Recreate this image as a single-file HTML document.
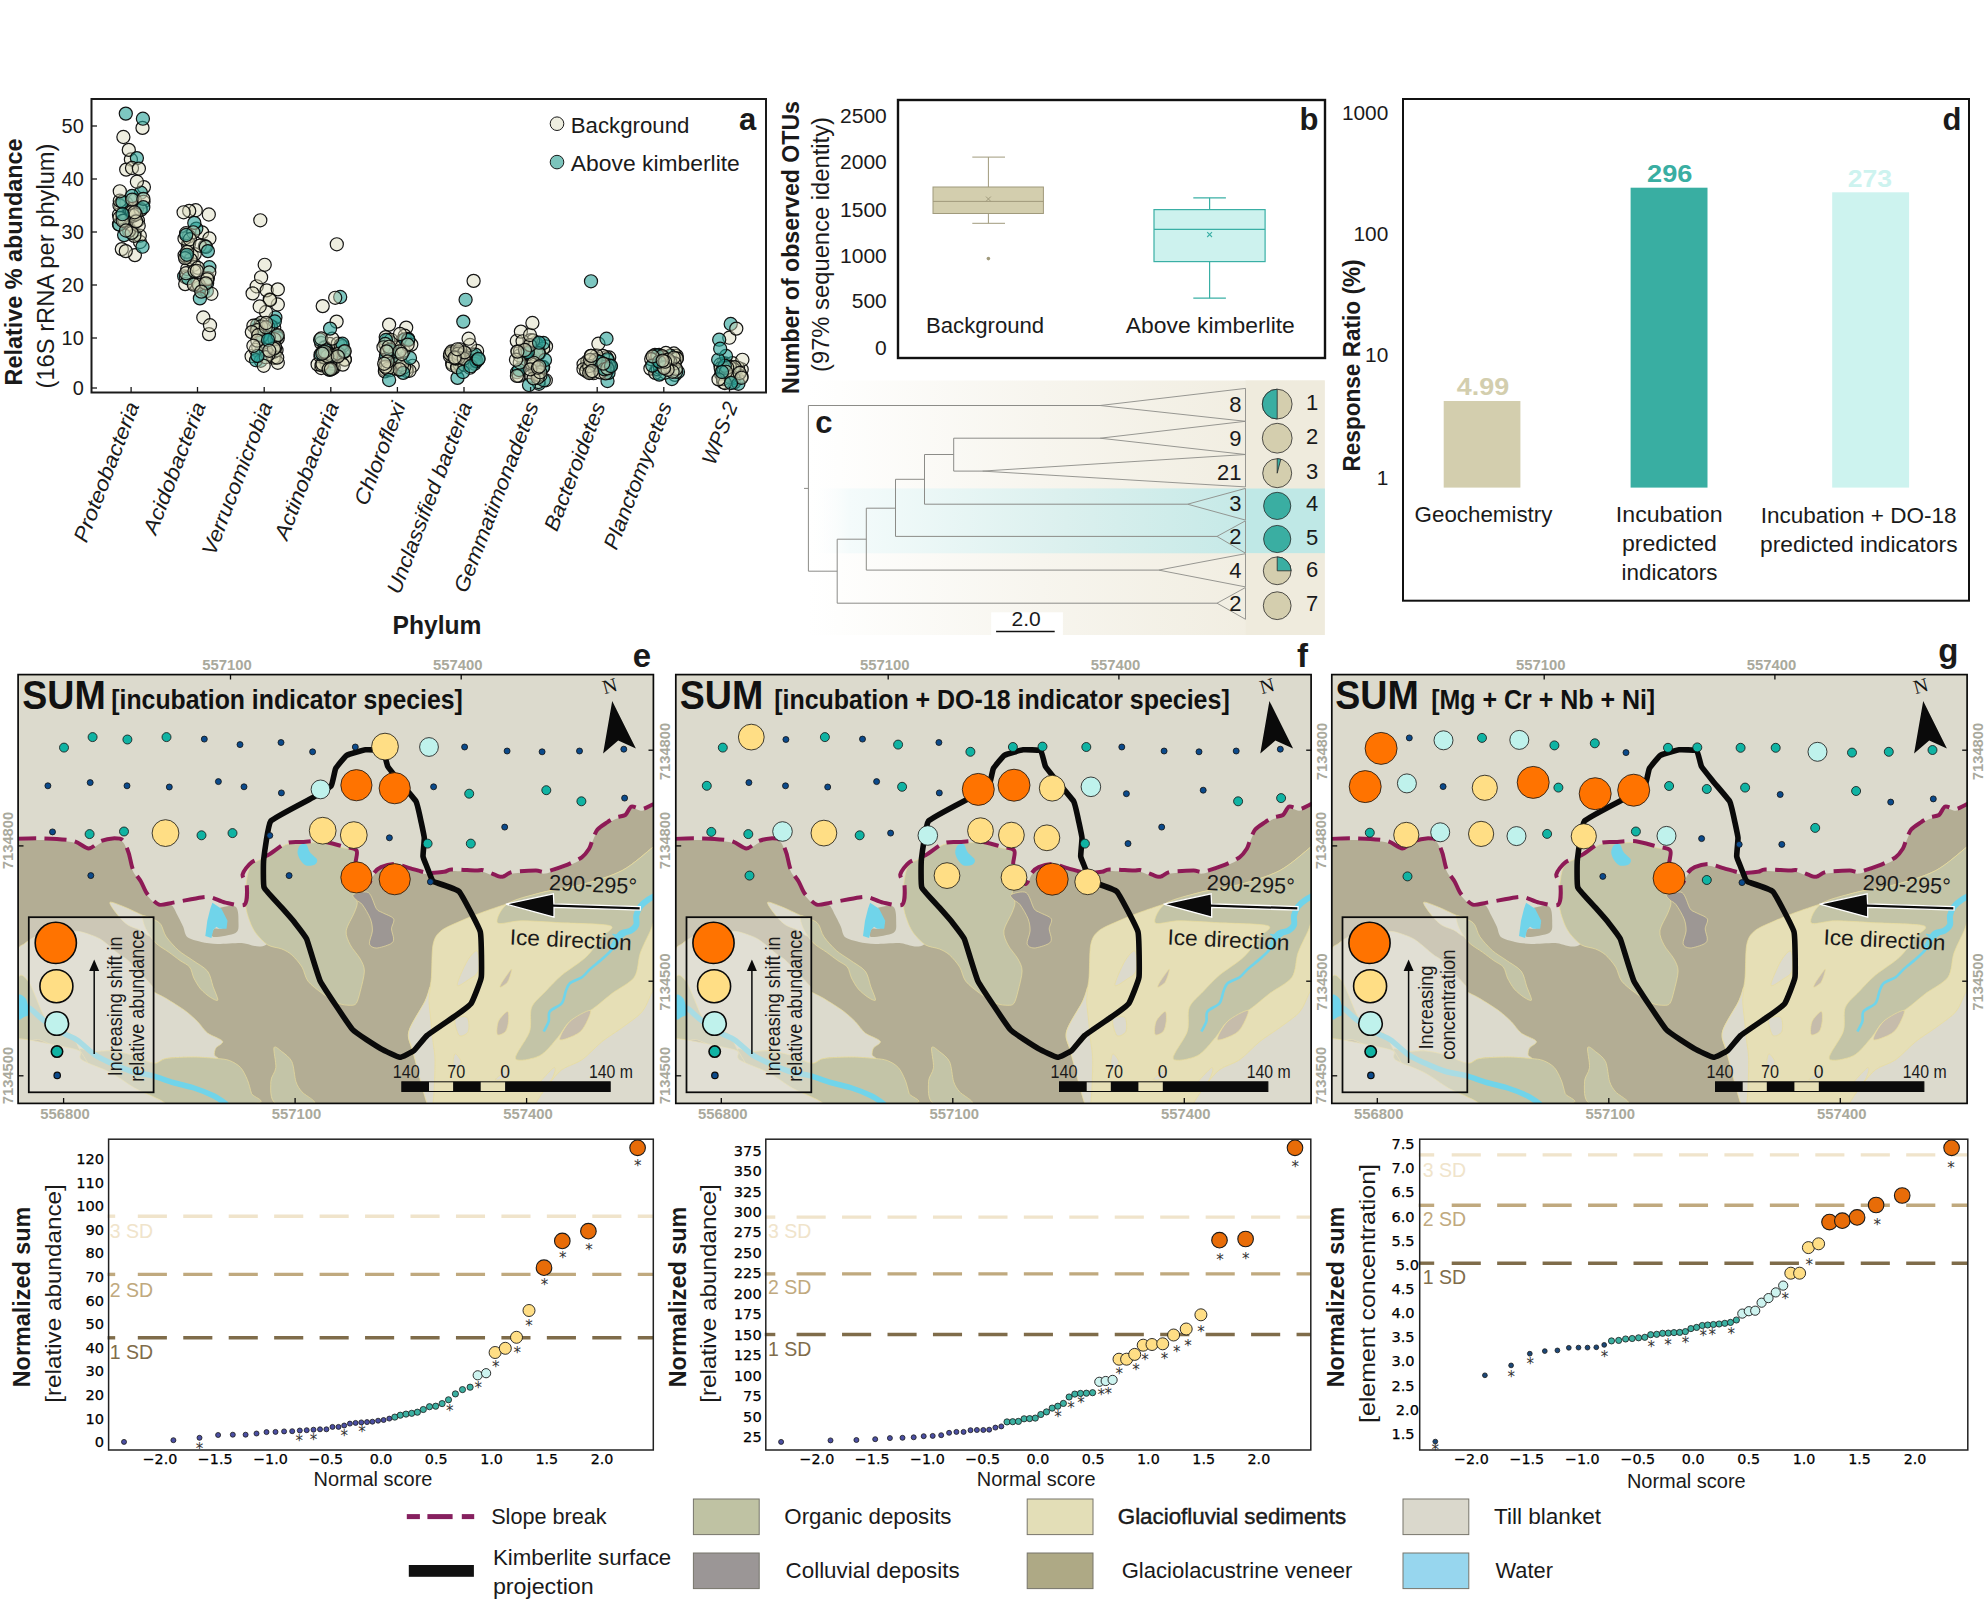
<!DOCTYPE html>
<html><head><meta charset="utf-8"><title>Figure</title>
<style>html,body{margin:0;padding:0;background:#fff;width:1987px;height:1600px;overflow:hidden}svg{display:block}text{white-space:pre}</style>
</head><body>
<svg width="1987" height="1600" viewBox="0 0 1987 1600">
<rect width="1987" height="1600" fill="#fff"/>
<g stroke="#0a0a0a" stroke-width="1.2">
<circle cx="406.2" cy="327.6" r="6.55" fill="#d9d9ba" fill-opacity="0.45" stroke-opacity="0.95"/>
<circle cx="674.9" cy="374.9" r="6.55" fill="#d9d9ba" fill-opacity="0.45" stroke-opacity="0.95"/>
<circle cx="473.7" cy="357.2" r="6.55" fill="#d9d9ba" fill-opacity="0.45" stroke-opacity="0.95"/>
<circle cx="461.4" cy="358.6" r="6.55" fill="#d9d9ba" fill-opacity="0.45" stroke-opacity="0.95"/>
<circle cx="137" cy="208.8" r="6.55" fill="#d9d9ba" fill-opacity="0.45" stroke-opacity="0.95"/>
<circle cx="721.1" cy="374" r="6.55" fill="#26a297" fill-opacity="0.6" stroke-opacity="0.95"/>
<circle cx="675.4" cy="355.8" r="6.55" fill="#d9d9ba" fill-opacity="0.45" stroke-opacity="0.95"/>
<circle cx="260.6" cy="331.5" r="6.55" fill="#d9d9ba" fill-opacity="0.45" stroke-opacity="0.95"/>
<circle cx="452.1" cy="363.1" r="6.55" fill="#d9d9ba" fill-opacity="0.45" stroke-opacity="0.95"/>
<circle cx="404.7" cy="335.7" r="6.55" fill="#d9d9ba" fill-opacity="0.45" stroke-opacity="0.95"/>
<circle cx="729.3" cy="337.7" r="6.55" fill="#d9d9ba" fill-opacity="0.45" stroke-opacity="0.95"/>
<circle cx="134.9" cy="255.1" r="6.55" fill="#d9d9ba" fill-opacity="0.45" stroke-opacity="0.95"/>
<circle cx="465.3" cy="353.5" r="6.55" fill="#d9d9ba" fill-opacity="0.45" stroke-opacity="0.95"/>
<circle cx="126.2" cy="221" r="6.55" fill="#d9d9ba" fill-opacity="0.45" stroke-opacity="0.95"/>
<circle cx="123.4" cy="137" r="6.55" fill="#d9d9ba" fill-opacity="0.45" stroke-opacity="0.95"/>
<circle cx="412.7" cy="365.8" r="6.55" fill="#d9d9ba" fill-opacity="0.45" stroke-opacity="0.95"/>
<circle cx="274.2" cy="327.8" r="6.55" fill="#d9d9ba" fill-opacity="0.45" stroke-opacity="0.95"/>
<circle cx="517.8" cy="351.4" r="6.55" fill="#d9d9ba" fill-opacity="0.45" stroke-opacity="0.95"/>
<circle cx="187.9" cy="244.6" r="6.55" fill="#d9d9ba" fill-opacity="0.45" stroke-opacity="0.95"/>
<circle cx="274.8" cy="357.8" r="6.55" fill="#d9d9ba" fill-opacity="0.45" stroke-opacity="0.95"/>
<circle cx="406.5" cy="368.2" r="6.55" fill="#d9d9ba" fill-opacity="0.45" stroke-opacity="0.95"/>
<circle cx="530.8" cy="356.5" r="6.55" fill="#d9d9ba" fill-opacity="0.45" stroke-opacity="0.95"/>
<circle cx="607.4" cy="370.4" r="6.55" fill="#d9d9ba" fill-opacity="0.45" stroke-opacity="0.95"/>
<circle cx="386.1" cy="344.8" r="6.55" fill="#d9d9ba" fill-opacity="0.45" stroke-opacity="0.95"/>
<circle cx="528" cy="349.8" r="6.55" fill="#26a297" fill-opacity="0.6" stroke-opacity="0.95"/>
<circle cx="199.3" cy="287.3" r="6.55" fill="#26a297" fill-opacity="0.6" stroke-opacity="0.95"/>
<circle cx="607.5" cy="381" r="6.55" fill="#26a297" fill-opacity="0.6" stroke-opacity="0.95"/>
<circle cx="609.2" cy="357.5" r="6.55" fill="#d9d9ba" fill-opacity="0.45" stroke-opacity="0.95"/>
<circle cx="143.9" cy="187.1" r="6.55" fill="#d9d9ba" fill-opacity="0.45" stroke-opacity="0.95"/>
<circle cx="606.2" cy="357.3" r="6.55" fill="#d9d9ba" fill-opacity="0.45" stroke-opacity="0.95"/>
<circle cx="394.9" cy="353" r="6.55" fill="#d9d9ba" fill-opacity="0.45" stroke-opacity="0.95"/>
<circle cx="659.1" cy="355" r="6.55" fill="#d9d9ba" fill-opacity="0.45" stroke-opacity="0.95"/>
<circle cx="535.4" cy="343.3" r="6.55" fill="#d9d9ba" fill-opacity="0.45" stroke-opacity="0.95"/>
<circle cx="471.3" cy="359.5" r="6.55" fill="#d9d9ba" fill-opacity="0.45" stroke-opacity="0.95"/>
<circle cx="260.2" cy="330" r="6.55" fill="#d9d9ba" fill-opacity="0.45" stroke-opacity="0.95"/>
<circle cx="394.7" cy="367.4" r="6.55" fill="#26a297" fill-opacity="0.6" stroke-opacity="0.95"/>
<circle cx="538.1" cy="348.8" r="6.55" fill="#d9d9ba" fill-opacity="0.45" stroke-opacity="0.95"/>
<circle cx="140.9" cy="192.7" r="6.55" fill="#26a297" fill-opacity="0.6" stroke-opacity="0.95"/>
<circle cx="202.1" cy="232.4" r="6.55" fill="#d9d9ba" fill-opacity="0.45" stroke-opacity="0.95"/>
<circle cx="676.6" cy="355.8" r="6.55" fill="#d9d9ba" fill-opacity="0.45" stroke-opacity="0.95"/>
<circle cx="329.3" cy="368.3" r="6.55" fill="#d9d9ba" fill-opacity="0.45" stroke-opacity="0.95"/>
<circle cx="275.4" cy="317.5" r="6.55" fill="#26a297" fill-opacity="0.6" stroke-opacity="0.95"/>
<circle cx="195.7" cy="210.2" r="6.55" fill="#d9d9ba" fill-opacity="0.45" stroke-opacity="0.95"/>
<circle cx="119" cy="224.4" r="6.55" fill="#d9d9ba" fill-opacity="0.45" stroke-opacity="0.95"/>
<circle cx="273.7" cy="357.5" r="6.55" fill="#d9d9ba" fill-opacity="0.45" stroke-opacity="0.95"/>
<circle cx="461.7" cy="355.6" r="6.55" fill="#d9d9ba" fill-opacity="0.45" stroke-opacity="0.95"/>
<circle cx="597.3" cy="358.6" r="6.55" fill="#d9d9ba" fill-opacity="0.45" stroke-opacity="0.95"/>
<circle cx="277.8" cy="362.8" r="6.55" fill="#d9d9ba" fill-opacity="0.45" stroke-opacity="0.95"/>
<circle cx="191.7" cy="255.2" r="6.55" fill="#d9d9ba" fill-opacity="0.45" stroke-opacity="0.95"/>
<circle cx="660.1" cy="360.4" r="6.55" fill="#d9d9ba" fill-opacity="0.45" stroke-opacity="0.95"/>
<circle cx="730.1" cy="367.3" r="6.55" fill="#d9d9ba" fill-opacity="0.45" stroke-opacity="0.95"/>
<circle cx="126.4" cy="218.9" r="6.55" fill="#26a297" fill-opacity="0.6" stroke-opacity="0.95"/>
<circle cx="673.9" cy="353.5" r="6.55" fill="#d9d9ba" fill-opacity="0.45" stroke-opacity="0.95"/>
<circle cx="256.7" cy="286.3" r="6.55" fill="#d9d9ba" fill-opacity="0.45" stroke-opacity="0.95"/>
<circle cx="328.1" cy="364.6" r="6.55" fill="#26a297" fill-opacity="0.6" stroke-opacity="0.95"/>
<circle cx="135" cy="234.2" r="6.55" fill="#26a297" fill-opacity="0.6" stroke-opacity="0.95"/>
<circle cx="395.7" cy="364" r="6.55" fill="#26a297" fill-opacity="0.6" stroke-opacity="0.95"/>
<circle cx="203.1" cy="289.9" r="6.55" fill="#26a297" fill-opacity="0.6" stroke-opacity="0.95"/>
<circle cx="723.1" cy="371.8" r="6.55" fill="#d9d9ba" fill-opacity="0.45" stroke-opacity="0.95"/>
<circle cx="130.9" cy="159.5" r="6.55" fill="#d9d9ba" fill-opacity="0.45" stroke-opacity="0.95"/>
<circle cx="654.2" cy="356.6" r="6.55" fill="#d9d9ba" fill-opacity="0.45" stroke-opacity="0.95"/>
<circle cx="196.3" cy="228.6" r="6.55" fill="#26a297" fill-opacity="0.6" stroke-opacity="0.95"/>
<circle cx="402.8" cy="340.3" r="6.55" fill="#d9d9ba" fill-opacity="0.45" stroke-opacity="0.95"/>
<circle cx="194.1" cy="264.7" r="6.55" fill="#d9d9ba" fill-opacity="0.45" stroke-opacity="0.95"/>
<circle cx="734.3" cy="380" r="6.55" fill="#26a297" fill-opacity="0.6" stroke-opacity="0.95"/>
<circle cx="546" cy="346.4" r="6.55" fill="#d9d9ba" fill-opacity="0.45" stroke-opacity="0.95"/>
<circle cx="256.5" cy="329.4" r="6.55" fill="#d9d9ba" fill-opacity="0.45" stroke-opacity="0.95"/>
<circle cx="656.2" cy="369.8" r="6.55" fill="#26a297" fill-opacity="0.6" stroke-opacity="0.95"/>
<circle cx="737.4" cy="378.5" r="6.55" fill="#d9d9ba" fill-opacity="0.45" stroke-opacity="0.95"/>
<circle cx="273.8" cy="351.8" r="6.55" fill="#26a297" fill-opacity="0.6" stroke-opacity="0.95"/>
<circle cx="532.8" cy="367" r="6.55" fill="#d9d9ba" fill-opacity="0.45" stroke-opacity="0.95"/>
<circle cx="188.9" cy="236.4" r="6.55" fill="#d9d9ba" fill-opacity="0.45" stroke-opacity="0.95"/>
<circle cx="121.8" cy="249.1" r="6.55" fill="#d9d9ba" fill-opacity="0.45" stroke-opacity="0.95"/>
<circle cx="257.1" cy="325.1" r="6.55" fill="#26a297" fill-opacity="0.6" stroke-opacity="0.95"/>
<circle cx="140" cy="242" r="6.55" fill="#d9d9ba" fill-opacity="0.45" stroke-opacity="0.95"/>
<circle cx="385.2" cy="369.7" r="6.55" fill="#d9d9ba" fill-opacity="0.45" stroke-opacity="0.95"/>
<circle cx="517.1" cy="372.2" r="6.55" fill="#26a297" fill-opacity="0.6" stroke-opacity="0.95"/>
<circle cx="189.2" cy="210.9" r="6.55" fill="#d9d9ba" fill-opacity="0.45" stroke-opacity="0.95"/>
<circle cx="321.2" cy="368" r="6.55" fill="#d9d9ba" fill-opacity="0.45" stroke-opacity="0.95"/>
<circle cx="324.5" cy="347.1" r="6.55" fill="#d9d9ba" fill-opacity="0.45" stroke-opacity="0.95"/>
<circle cx="321.1" cy="343" r="6.55" fill="#d9d9ba" fill-opacity="0.45" stroke-opacity="0.95"/>
<circle cx="133" cy="213.3" r="6.55" fill="#d9d9ba" fill-opacity="0.45" stroke-opacity="0.95"/>
<circle cx="473.6" cy="280.9" r="6.55" fill="#d9d9ba" fill-opacity="0.45" stroke-opacity="0.95"/>
<circle cx="725" cy="372.7" r="6.55" fill="#d9d9ba" fill-opacity="0.45" stroke-opacity="0.95"/>
<circle cx="136.9" cy="181.7" r="6.55" fill="#d9d9ba" fill-opacity="0.45" stroke-opacity="0.95"/>
<circle cx="406.7" cy="371" r="6.55" fill="#d9d9ba" fill-opacity="0.45" stroke-opacity="0.95"/>
<circle cx="261" cy="323" r="6.55" fill="#d9d9ba" fill-opacity="0.45" stroke-opacity="0.95"/>
<circle cx="725.2" cy="363.5" r="6.55" fill="#d9d9ba" fill-opacity="0.45" stroke-opacity="0.95"/>
<circle cx="458.3" cy="362.9" r="6.55" fill="#26a297" fill-opacity="0.6" stroke-opacity="0.95"/>
<circle cx="399.8" cy="369.9" r="6.55" fill="#d9d9ba" fill-opacity="0.45" stroke-opacity="0.95"/>
<circle cx="261.7" cy="349.8" r="6.55" fill="#26a297" fill-opacity="0.6" stroke-opacity="0.95"/>
<circle cx="661.1" cy="364.5" r="6.55" fill="#d9d9ba" fill-opacity="0.45" stroke-opacity="0.95"/>
<circle cx="389.1" cy="324.6" r="6.55" fill="#d9d9ba" fill-opacity="0.45" stroke-opacity="0.95"/>
<circle cx="453.2" cy="352.1" r="6.55" fill="#d9d9ba" fill-opacity="0.45" stroke-opacity="0.95"/>
<circle cx="523.5" cy="361" r="6.55" fill="#26a297" fill-opacity="0.6" stroke-opacity="0.95"/>
<circle cx="587.3" cy="365" r="6.55" fill="#d9d9ba" fill-opacity="0.45" stroke-opacity="0.95"/>
<circle cx="270.9" cy="326.1" r="6.55" fill="#26a297" fill-opacity="0.6" stroke-opacity="0.95"/>
<circle cx="460.5" cy="361.8" r="6.55" fill="#26a297" fill-opacity="0.6" stroke-opacity="0.95"/>
<circle cx="126.2" cy="169.6" r="6.55" fill="#d9d9ba" fill-opacity="0.45" stroke-opacity="0.95"/>
<circle cx="194.7" cy="283.9" r="6.55" fill="#d9d9ba" fill-opacity="0.45" stroke-opacity="0.95"/>
<circle cx="128.8" cy="149.9" r="6.55" fill="#d9d9ba" fill-opacity="0.45" stroke-opacity="0.95"/>
<circle cx="344.7" cy="359.4" r="6.55" fill="#d9d9ba" fill-opacity="0.45" stroke-opacity="0.95"/>
<circle cx="608.5" cy="368.5" r="6.55" fill="#d9d9ba" fill-opacity="0.45" stroke-opacity="0.95"/>
<circle cx="516.8" cy="341" r="6.55" fill="#d9d9ba" fill-opacity="0.45" stroke-opacity="0.95"/>
<circle cx="398.5" cy="347.5" r="6.55" fill="#d9d9ba" fill-opacity="0.45" stroke-opacity="0.95"/>
<circle cx="274.9" cy="351" r="6.55" fill="#d9d9ba" fill-opacity="0.45" stroke-opacity="0.95"/>
<circle cx="477.1" cy="351" r="6.55" fill="#d9d9ba" fill-opacity="0.45" stroke-opacity="0.95"/>
<circle cx="650.4" cy="368.6" r="6.55" fill="#d9d9ba" fill-opacity="0.45" stroke-opacity="0.95"/>
<circle cx="656.2" cy="358.7" r="6.55" fill="#d9d9ba" fill-opacity="0.45" stroke-opacity="0.95"/>
<circle cx="184.2" cy="276.3" r="6.55" fill="#26a297" fill-opacity="0.6" stroke-opacity="0.95"/>
<circle cx="535.9" cy="342.8" r="6.55" fill="#d9d9ba" fill-opacity="0.45" stroke-opacity="0.95"/>
<circle cx="595.7" cy="360.7" r="6.55" fill="#d9d9ba" fill-opacity="0.45" stroke-opacity="0.95"/>
<circle cx="734.2" cy="382.4" r="6.55" fill="#d9d9ba" fill-opacity="0.45" stroke-opacity="0.95"/>
<circle cx="329.8" cy="344" r="6.55" fill="#d9d9ba" fill-opacity="0.45" stroke-opacity="0.95"/>
<circle cx="186" cy="277.4" r="6.55" fill="#d9d9ba" fill-opacity="0.45" stroke-opacity="0.95"/>
<circle cx="724.2" cy="372.3" r="6.55" fill="#26a297" fill-opacity="0.6" stroke-opacity="0.95"/>
<circle cx="539" cy="383.8" r="6.55" fill="#26a297" fill-opacity="0.6" stroke-opacity="0.95"/>
<circle cx="545.8" cy="380.3" r="6.55" fill="#d9d9ba" fill-opacity="0.45" stroke-opacity="0.95"/>
<circle cx="207.1" cy="283.2" r="6.55" fill="#26a297" fill-opacity="0.6" stroke-opacity="0.95"/>
<circle cx="344.9" cy="359.7" r="6.55" fill="#d9d9ba" fill-opacity="0.45" stroke-opacity="0.95"/>
<circle cx="385.2" cy="359.8" r="6.55" fill="#d9d9ba" fill-opacity="0.45" stroke-opacity="0.95"/>
<circle cx="336.6" cy="321.6" r="6.55" fill="#d9d9ba" fill-opacity="0.45" stroke-opacity="0.95"/>
<circle cx="660.5" cy="373.4" r="6.55" fill="#d9d9ba" fill-opacity="0.45" stroke-opacity="0.95"/>
<circle cx="657.1" cy="358.5" r="6.55" fill="#d9d9ba" fill-opacity="0.45" stroke-opacity="0.95"/>
<circle cx="194.7" cy="254.1" r="6.55" fill="#d9d9ba" fill-opacity="0.45" stroke-opacity="0.95"/>
<circle cx="186.6" cy="257.3" r="6.55" fill="#d9d9ba" fill-opacity="0.45" stroke-opacity="0.95"/>
<circle cx="209.4" cy="267.2" r="6.55" fill="#26a297" fill-opacity="0.6" stroke-opacity="0.95"/>
<circle cx="128.9" cy="228" r="6.55" fill="#d9d9ba" fill-opacity="0.45" stroke-opacity="0.95"/>
<circle cx="189.1" cy="243.6" r="6.55" fill="#d9d9ba" fill-opacity="0.45" stroke-opacity="0.95"/>
<circle cx="122" cy="217" r="6.55" fill="#d9d9ba" fill-opacity="0.45" stroke-opacity="0.95"/>
<circle cx="184.5" cy="238.5" r="6.55" fill="#d9d9ba" fill-opacity="0.45" stroke-opacity="0.95"/>
<circle cx="334.7" cy="354.7" r="6.55" fill="#d9d9ba" fill-opacity="0.45" stroke-opacity="0.95"/>
<circle cx="730.7" cy="324" r="6.55" fill="#26a297" fill-opacity="0.6" stroke-opacity="0.95"/>
<circle cx="538.8" cy="368.3" r="6.55" fill="#d9d9ba" fill-opacity="0.45" stroke-opacity="0.95"/>
<circle cx="451.5" cy="352.8" r="6.55" fill="#d9d9ba" fill-opacity="0.45" stroke-opacity="0.95"/>
<circle cx="530.7" cy="340.1" r="6.55" fill="#d9d9ba" fill-opacity="0.45" stroke-opacity="0.95"/>
<circle cx="723.2" cy="363.7" r="6.55" fill="#d9d9ba" fill-opacity="0.45" stroke-opacity="0.95"/>
<circle cx="121.2" cy="206.2" r="6.55" fill="#d9d9ba" fill-opacity="0.45" stroke-opacity="0.95"/>
<circle cx="139.8" cy="235.7" r="6.55" fill="#d9d9ba" fill-opacity="0.45" stroke-opacity="0.95"/>
<circle cx="326.8" cy="364.4" r="6.55" fill="#d9d9ba" fill-opacity="0.45" stroke-opacity="0.95"/>
<circle cx="183.6" cy="212.3" r="6.55" fill="#d9d9ba" fill-opacity="0.45" stroke-opacity="0.95"/>
<circle cx="343" cy="352.6" r="6.55" fill="#d9d9ba" fill-opacity="0.45" stroke-opacity="0.95"/>
<circle cx="333.8" cy="367.8" r="6.55" fill="#d9d9ba" fill-opacity="0.45" stroke-opacity="0.95"/>
<circle cx="728.9" cy="374.6" r="6.55" fill="#d9d9ba" fill-opacity="0.45" stroke-opacity="0.95"/>
<circle cx="400.1" cy="360.9" r="6.55" fill="#d9d9ba" fill-opacity="0.45" stroke-opacity="0.95"/>
<circle cx="654.9" cy="355" r="6.55" fill="#d9d9ba" fill-opacity="0.45" stroke-opacity="0.95"/>
<circle cx="203.3" cy="317.5" r="6.55" fill="#d9d9ba" fill-opacity="0.45" stroke-opacity="0.95"/>
<circle cx="119" cy="214.8" r="6.55" fill="#d9d9ba" fill-opacity="0.45" stroke-opacity="0.95"/>
<circle cx="720.3" cy="364.5" r="6.55" fill="#d9d9ba" fill-opacity="0.45" stroke-opacity="0.95"/>
<circle cx="457.4" cy="352.1" r="6.55" fill="#d9d9ba" fill-opacity="0.45" stroke-opacity="0.95"/>
<circle cx="206.9" cy="291" r="6.55" fill="#26a297" fill-opacity="0.6" stroke-opacity="0.95"/>
<circle cx="329.6" cy="366.8" r="6.55" fill="#d9d9ba" fill-opacity="0.45" stroke-opacity="0.95"/>
<circle cx="264" cy="339.4" r="6.55" fill="#d9d9ba" fill-opacity="0.45" stroke-opacity="0.95"/>
<circle cx="604.7" cy="369.9" r="6.55" fill="#26a297" fill-opacity="0.6" stroke-opacity="0.95"/>
<circle cx="333.2" cy="363.1" r="6.55" fill="#d9d9ba" fill-opacity="0.45" stroke-opacity="0.95"/>
<circle cx="264.7" cy="264.8" r="6.55" fill="#d9d9ba" fill-opacity="0.45" stroke-opacity="0.95"/>
<circle cx="670.3" cy="355.7" r="6.55" fill="#26a297" fill-opacity="0.6" stroke-opacity="0.95"/>
<circle cx="322.7" cy="306.1" r="6.55" fill="#d9d9ba" fill-opacity="0.45" stroke-opacity="0.95"/>
<circle cx="452.5" cy="365" r="6.55" fill="#d9d9ba" fill-opacity="0.45" stroke-opacity="0.95"/>
<circle cx="607.8" cy="360.5" r="6.55" fill="#d9d9ba" fill-opacity="0.45" stroke-opacity="0.95"/>
<circle cx="277.8" cy="304.5" r="6.55" fill="#d9d9ba" fill-opacity="0.45" stroke-opacity="0.95"/>
<circle cx="543.2" cy="367" r="6.55" fill="#d9d9ba" fill-opacity="0.45" stroke-opacity="0.95"/>
<circle cx="536.3" cy="369.8" r="6.55" fill="#d9d9ba" fill-opacity="0.45" stroke-opacity="0.95"/>
<circle cx="736.3" cy="328.6" r="6.55" fill="#d9d9ba" fill-opacity="0.45" stroke-opacity="0.95"/>
<circle cx="720.7" cy="368.3" r="6.55" fill="#d9d9ba" fill-opacity="0.45" stroke-opacity="0.95"/>
<circle cx="129.8" cy="209.3" r="6.55" fill="#d9d9ba" fill-opacity="0.45" stroke-opacity="0.95"/>
<circle cx="452.6" cy="356.6" r="6.55" fill="#d9d9ba" fill-opacity="0.45" stroke-opacity="0.95"/>
<circle cx="333.1" cy="363.9" r="6.55" fill="#d9d9ba" fill-opacity="0.45" stroke-opacity="0.95"/>
<circle cx="450" cy="356.3" r="6.55" fill="#d9d9ba" fill-opacity="0.45" stroke-opacity="0.95"/>
<circle cx="460.3" cy="354.9" r="6.55" fill="#26a297" fill-opacity="0.6" stroke-opacity="0.95"/>
<circle cx="317.6" cy="364.4" r="6.55" fill="#d9d9ba" fill-opacity="0.45" stroke-opacity="0.95"/>
<circle cx="260.3" cy="220.3" r="6.55" fill="#d9d9ba" fill-opacity="0.45" stroke-opacity="0.95"/>
<circle cx="184.6" cy="255.4" r="6.55" fill="#d9d9ba" fill-opacity="0.45" stroke-opacity="0.95"/>
<circle cx="125.8" cy="113.6" r="6.55" fill="#26a297" fill-opacity="0.6" stroke-opacity="0.95"/>
<circle cx="602.9" cy="355.9" r="6.55" fill="#d9d9ba" fill-opacity="0.45" stroke-opacity="0.95"/>
<circle cx="187.2" cy="269" r="6.55" fill="#d9d9ba" fill-opacity="0.45" stroke-opacity="0.95"/>
<circle cx="728" cy="368.4" r="6.55" fill="#d9d9ba" fill-opacity="0.45" stroke-opacity="0.95"/>
<circle cx="741.7" cy="369.5" r="6.55" fill="#d9d9ba" fill-opacity="0.45" stroke-opacity="0.95"/>
<circle cx="194.3" cy="222.9" r="6.55" fill="#26a297" fill-opacity="0.6" stroke-opacity="0.95"/>
<circle cx="336.8" cy="244.3" r="6.55" fill="#d9d9ba" fill-opacity="0.45" stroke-opacity="0.95"/>
<circle cx="185.2" cy="284.1" r="6.55" fill="#d9d9ba" fill-opacity="0.45" stroke-opacity="0.95"/>
<circle cx="207.9" cy="278.1" r="6.55" fill="#d9d9ba" fill-opacity="0.45" stroke-opacity="0.95"/>
<circle cx="459.9" cy="364.8" r="6.55" fill="#d9d9ba" fill-opacity="0.45" stroke-opacity="0.95"/>
<circle cx="324.6" cy="347.7" r="6.55" fill="#d9d9ba" fill-opacity="0.45" stroke-opacity="0.95"/>
<circle cx="678" cy="372" r="6.55" fill="#26a297" fill-opacity="0.6" stroke-opacity="0.95"/>
<circle cx="209.4" cy="238.5" r="6.55" fill="#d9d9ba" fill-opacity="0.45" stroke-opacity="0.95"/>
<circle cx="472" cy="354.5" r="6.55" fill="#d9d9ba" fill-opacity="0.45" stroke-opacity="0.95"/>
<circle cx="385" cy="366.9" r="6.55" fill="#d9d9ba" fill-opacity="0.45" stroke-opacity="0.95"/>
<circle cx="251.6" cy="356.2" r="6.55" fill="#d9d9ba" fill-opacity="0.45" stroke-opacity="0.95"/>
<circle cx="665.9" cy="353" r="6.55" fill="#d9d9ba" fill-opacity="0.45" stroke-opacity="0.95"/>
<circle cx="332.2" cy="368.8" r="6.55" fill="#d9d9ba" fill-opacity="0.45" stroke-opacity="0.95"/>
<circle cx="134.3" cy="235.9" r="6.55" fill="#d9d9ba" fill-opacity="0.45" stroke-opacity="0.95"/>
<circle cx="268.2" cy="327.3" r="6.55" fill="#d9d9ba" fill-opacity="0.45" stroke-opacity="0.95"/>
<circle cx="386" cy="355" r="6.55" fill="#26a297" fill-opacity="0.6" stroke-opacity="0.95"/>
<circle cx="596.6" cy="355.5" r="6.55" fill="#d9d9ba" fill-opacity="0.45" stroke-opacity="0.95"/>
<circle cx="409.5" cy="370.8" r="6.55" fill="#d9d9ba" fill-opacity="0.45" stroke-opacity="0.95"/>
<circle cx="543.2" cy="348.6" r="6.55" fill="#d9d9ba" fill-opacity="0.45" stroke-opacity="0.95"/>
<circle cx="404" cy="367.4" r="6.55" fill="#d9d9ba" fill-opacity="0.45" stroke-opacity="0.95"/>
<circle cx="738" cy="367.8" r="6.55" fill="#d9d9ba" fill-opacity="0.45" stroke-opacity="0.95"/>
<circle cx="126.4" cy="203.2" r="6.55" fill="#d9d9ba" fill-opacity="0.45" stroke-opacity="0.95"/>
<circle cx="326.6" cy="355.1" r="6.55" fill="#d9d9ba" fill-opacity="0.45" stroke-opacity="0.95"/>
<circle cx="190.6" cy="259.6" r="6.55" fill="#d9d9ba" fill-opacity="0.45" stroke-opacity="0.95"/>
<circle cx="593.5" cy="362.5" r="6.55" fill="#d9d9ba" fill-opacity="0.45" stroke-opacity="0.95"/>
<circle cx="388.1" cy="339.7" r="6.55" fill="#26a297" fill-opacity="0.6" stroke-opacity="0.95"/>
<circle cx="732.5" cy="363.2" r="6.55" fill="#d9d9ba" fill-opacity="0.45" stroke-opacity="0.95"/>
<circle cx="734.6" cy="372.9" r="6.55" fill="#26a297" fill-opacity="0.6" stroke-opacity="0.95"/>
<circle cx="385.7" cy="337.1" r="6.55" fill="#d9d9ba" fill-opacity="0.45" stroke-opacity="0.95"/>
<circle cx="536.7" cy="369.8" r="6.55" fill="#d9d9ba" fill-opacity="0.45" stroke-opacity="0.95"/>
<circle cx="610.5" cy="366.2" r="6.55" fill="#d9d9ba" fill-opacity="0.45" stroke-opacity="0.95"/>
<circle cx="733.6" cy="369.4" r="6.55" fill="#d9d9ba" fill-opacity="0.45" stroke-opacity="0.95"/>
<circle cx="326.2" cy="350.5" r="6.55" fill="#26a297" fill-opacity="0.6" stroke-opacity="0.95"/>
<circle cx="534.9" cy="369.3" r="6.55" fill="#d9d9ba" fill-opacity="0.45" stroke-opacity="0.95"/>
<circle cx="121.8" cy="201.8" r="6.55" fill="#d9d9ba" fill-opacity="0.45" stroke-opacity="0.95"/>
<circle cx="587.3" cy="361.5" r="6.55" fill="#d9d9ba" fill-opacity="0.45" stroke-opacity="0.95"/>
<circle cx="457.8" cy="351.5" r="6.55" fill="#d9d9ba" fill-opacity="0.45" stroke-opacity="0.95"/>
<circle cx="538.3" cy="350.8" r="6.55" fill="#d9d9ba" fill-opacity="0.45" stroke-opacity="0.95"/>
<circle cx="258.1" cy="334.5" r="6.55" fill="#d9d9ba" fill-opacity="0.45" stroke-opacity="0.95"/>
<circle cx="134.9" cy="200" r="6.55" fill="#d9d9ba" fill-opacity="0.45" stroke-opacity="0.95"/>
<circle cx="671.9" cy="379" r="6.55" fill="#26a297" fill-opacity="0.6" stroke-opacity="0.95"/>
<circle cx="395.7" cy="368.7" r="6.55" fill="#d9d9ba" fill-opacity="0.45" stroke-opacity="0.95"/>
<circle cx="331.8" cy="360.9" r="6.55" fill="#d9d9ba" fill-opacity="0.45" stroke-opacity="0.95"/>
<circle cx="608.5" cy="372.9" r="6.55" fill="#26a297" fill-opacity="0.6" stroke-opacity="0.95"/>
<circle cx="339.1" cy="354.8" r="6.55" fill="#d9d9ba" fill-opacity="0.45" stroke-opacity="0.95"/>
<circle cx="402" cy="364.7" r="6.55" fill="#d9d9ba" fill-opacity="0.45" stroke-opacity="0.95"/>
<circle cx="589.7" cy="372.1" r="6.55" fill="#d9d9ba" fill-opacity="0.45" stroke-opacity="0.95"/>
<circle cx="741.5" cy="376.5" r="6.55" fill="#d9d9ba" fill-opacity="0.45" stroke-opacity="0.95"/>
<circle cx="470.5" cy="361.1" r="6.55" fill="#d9d9ba" fill-opacity="0.45" stroke-opacity="0.95"/>
<circle cx="408.3" cy="339" r="6.55" fill="#26a297" fill-opacity="0.6" stroke-opacity="0.95"/>
<circle cx="733.4" cy="377.7" r="6.55" fill="#d9d9ba" fill-opacity="0.45" stroke-opacity="0.95"/>
<circle cx="531.5" cy="360" r="6.55" fill="#d9d9ba" fill-opacity="0.45" stroke-opacity="0.95"/>
<circle cx="136.9" cy="158.1" r="6.55" fill="#26a297" fill-opacity="0.6" stroke-opacity="0.95"/>
<circle cx="142.5" cy="246.7" r="6.55" fill="#26a297" fill-opacity="0.6" stroke-opacity="0.95"/>
<circle cx="538.4" cy="382" r="6.55" fill="#d9d9ba" fill-opacity="0.45" stroke-opacity="0.95"/>
<circle cx="543.8" cy="380.2" r="6.55" fill="#26a297" fill-opacity="0.6" stroke-opacity="0.95"/>
<circle cx="320.5" cy="356.5" r="6.55" fill="#d9d9ba" fill-opacity="0.45" stroke-opacity="0.95"/>
<circle cx="330.2" cy="355.6" r="6.55" fill="#d9d9ba" fill-opacity="0.45" stroke-opacity="0.95"/>
<circle cx="598.4" cy="343.7" r="6.55" fill="#d9d9ba" fill-opacity="0.45" stroke-opacity="0.95"/>
<circle cx="475.2" cy="361.7" r="6.55" fill="#d9d9ba" fill-opacity="0.45" stroke-opacity="0.95"/>
<circle cx="403.2" cy="372.9" r="6.55" fill="#26a297" fill-opacity="0.6" stroke-opacity="0.95"/>
<circle cx="209" cy="334.1" r="6.55" fill="#d9d9ba" fill-opacity="0.45" stroke-opacity="0.95"/>
<circle cx="723.3" cy="382.3" r="6.55" fill="#d9d9ba" fill-opacity="0.45" stroke-opacity="0.95"/>
<circle cx="396.6" cy="347.5" r="6.55" fill="#d9d9ba" fill-opacity="0.45" stroke-opacity="0.95"/>
<circle cx="137.9" cy="220.5" r="6.55" fill="#d9d9ba" fill-opacity="0.45" stroke-opacity="0.95"/>
<circle cx="276.5" cy="350.2" r="6.55" fill="#d9d9ba" fill-opacity="0.45" stroke-opacity="0.95"/>
<circle cx="726" cy="356" r="6.55" fill="#26a297" fill-opacity="0.6" stroke-opacity="0.95"/>
<circle cx="384.9" cy="371.4" r="6.55" fill="#d9d9ba" fill-opacity="0.45" stroke-opacity="0.95"/>
<circle cx="518.8" cy="375.9" r="6.55" fill="#d9d9ba" fill-opacity="0.45" stroke-opacity="0.95"/>
<circle cx="188.2" cy="278.3" r="6.55" fill="#26a297" fill-opacity="0.6" stroke-opacity="0.95"/>
<circle cx="531.1" cy="375.9" r="6.55" fill="#d9d9ba" fill-opacity="0.45" stroke-opacity="0.95"/>
<circle cx="676.8" cy="358.7" r="6.55" fill="#d9d9ba" fill-opacity="0.45" stroke-opacity="0.95"/>
<circle cx="583.6" cy="364.3" r="6.55" fill="#d9d9ba" fill-opacity="0.45" stroke-opacity="0.95"/>
<circle cx="730.6" cy="375.2" r="6.55" fill="#d9d9ba" fill-opacity="0.45" stroke-opacity="0.95"/>
<circle cx="742.4" cy="359.8" r="6.55" fill="#d9d9ba" fill-opacity="0.45" stroke-opacity="0.95"/>
<circle cx="198.8" cy="284.7" r="6.55" fill="#d9d9ba" fill-opacity="0.45" stroke-opacity="0.95"/>
<circle cx="676.7" cy="358.5" r="6.55" fill="#d9d9ba" fill-opacity="0.45" stroke-opacity="0.95"/>
<circle cx="197.9" cy="267.9" r="6.55" fill="#d9d9ba" fill-opacity="0.45" stroke-opacity="0.95"/>
<circle cx="583.5" cy="369.3" r="6.55" fill="#d9d9ba" fill-opacity="0.45" stroke-opacity="0.95"/>
<circle cx="339.2" cy="353" r="6.55" fill="#26a297" fill-opacity="0.6" stroke-opacity="0.95"/>
<circle cx="129" cy="230.9" r="6.55" fill="#d9d9ba" fill-opacity="0.45" stroke-opacity="0.95"/>
<circle cx="143.5" cy="201.8" r="6.55" fill="#d9d9ba" fill-opacity="0.45" stroke-opacity="0.95"/>
<circle cx="586.2" cy="370.9" r="6.55" fill="#d9d9ba" fill-opacity="0.45" stroke-opacity="0.95"/>
<circle cx="655.3" cy="372.9" r="6.55" fill="#d9d9ba" fill-opacity="0.45" stroke-opacity="0.95"/>
<circle cx="410" cy="358" r="6.55" fill="#26a297" fill-opacity="0.6" stroke-opacity="0.95"/>
<circle cx="531.1" cy="363" r="6.55" fill="#d9d9ba" fill-opacity="0.45" stroke-opacity="0.95"/>
<circle cx="676.2" cy="371.7" r="6.55" fill="#d9d9ba" fill-opacity="0.45" stroke-opacity="0.95"/>
<circle cx="261.2" cy="326.4" r="6.55" fill="#d9d9ba" fill-opacity="0.45" stroke-opacity="0.95"/>
<circle cx="457.5" cy="377.9" r="6.55" fill="#26a297" fill-opacity="0.6" stroke-opacity="0.95"/>
<circle cx="258.3" cy="346.9" r="6.55" fill="#d9d9ba" fill-opacity="0.45" stroke-opacity="0.95"/>
<circle cx="670" cy="362" r="6.55" fill="#26a297" fill-opacity="0.6" stroke-opacity="0.95"/>
<circle cx="269.8" cy="299.4" r="6.55" fill="#d9d9ba" fill-opacity="0.45" stroke-opacity="0.95"/>
<circle cx="459" cy="355.8" r="6.55" fill="#d9d9ba" fill-opacity="0.45" stroke-opacity="0.95"/>
<circle cx="277.8" cy="338.1" r="6.55" fill="#d9d9ba" fill-opacity="0.45" stroke-opacity="0.95"/>
<circle cx="674.6" cy="363.4" r="6.55" fill="#d9d9ba" fill-opacity="0.45" stroke-opacity="0.95"/>
<circle cx="536.4" cy="352.5" r="6.55" fill="#d9d9ba" fill-opacity="0.45" stroke-opacity="0.95"/>
<circle cx="663.4" cy="357.8" r="6.55" fill="#d9d9ba" fill-opacity="0.45" stroke-opacity="0.95"/>
<circle cx="540.4" cy="375.5" r="6.55" fill="#d9d9ba" fill-opacity="0.45" stroke-opacity="0.95"/>
<circle cx="539" cy="353.8" r="6.55" fill="#26a297" fill-opacity="0.6" stroke-opacity="0.95"/>
<circle cx="398" cy="352" r="6.55" fill="#26a297" fill-opacity="0.6" stroke-opacity="0.95"/>
<circle cx="391.1" cy="339.8" r="6.55" fill="#d9d9ba" fill-opacity="0.45" stroke-opacity="0.95"/>
<circle cx="131.9" cy="212" r="6.55" fill="#d9d9ba" fill-opacity="0.45" stroke-opacity="0.95"/>
<circle cx="204.9" cy="246.1" r="6.55" fill="#26a297" fill-opacity="0.6" stroke-opacity="0.95"/>
<circle cx="657.8" cy="369.3" r="6.55" fill="#d9d9ba" fill-opacity="0.45" stroke-opacity="0.95"/>
<circle cx="320.1" cy="339.7" r="6.55" fill="#26a297" fill-opacity="0.6" stroke-opacity="0.95"/>
<circle cx="670.5" cy="362.1" r="6.55" fill="#d9d9ba" fill-opacity="0.45" stroke-opacity="0.95"/>
<circle cx="340.2" cy="297" r="6.55" fill="#26a297" fill-opacity="0.6" stroke-opacity="0.95"/>
<circle cx="329.7" cy="369.9" r="6.55" fill="#26a297" fill-opacity="0.6" stroke-opacity="0.95"/>
<circle cx="277.2" cy="357.6" r="6.55" fill="#d9d9ba" fill-opacity="0.45" stroke-opacity="0.95"/>
<circle cx="330" cy="357" r="6.55" fill="#26a297" fill-opacity="0.6" stroke-opacity="0.95"/>
<circle cx="321.6" cy="365.3" r="6.55" fill="#d9d9ba" fill-opacity="0.45" stroke-opacity="0.95"/>
<circle cx="607.3" cy="359.3" r="6.55" fill="#26a297" fill-opacity="0.6" stroke-opacity="0.95"/>
<circle cx="527.6" cy="354" r="6.55" fill="#d9d9ba" fill-opacity="0.45" stroke-opacity="0.95"/>
<circle cx="657.4" cy="355.4" r="6.55" fill="#26a297" fill-opacity="0.6" stroke-opacity="0.95"/>
<circle cx="404.9" cy="339.3" r="6.55" fill="#26a297" fill-opacity="0.6" stroke-opacity="0.95"/>
<circle cx="124.1" cy="235.1" r="6.55" fill="#26a297" fill-opacity="0.6" stroke-opacity="0.95"/>
<circle cx="186.1" cy="273.2" r="6.55" fill="#d9d9ba" fill-opacity="0.45" stroke-opacity="0.95"/>
<circle cx="660" cy="368" r="6.55" fill="#26a297" fill-opacity="0.6" stroke-opacity="0.95"/>
<circle cx="542.7" cy="367.4" r="6.55" fill="#26a297" fill-opacity="0.6" stroke-opacity="0.95"/>
<circle cx="337.8" cy="343.6" r="6.55" fill="#d9d9ba" fill-opacity="0.45" stroke-opacity="0.95"/>
<circle cx="723" cy="379" r="6.55" fill="#d9d9ba" fill-opacity="0.45" stroke-opacity="0.95"/>
<circle cx="186.1" cy="233.2" r="6.55" fill="#d9d9ba" fill-opacity="0.45" stroke-opacity="0.95"/>
<circle cx="457.6" cy="367.3" r="6.55" fill="#d9d9ba" fill-opacity="0.45" stroke-opacity="0.95"/>
<circle cx="385.9" cy="340" r="6.55" fill="#26a297" fill-opacity="0.6" stroke-opacity="0.95"/>
<circle cx="187.1" cy="251.9" r="6.55" fill="#d9d9ba" fill-opacity="0.45" stroke-opacity="0.95"/>
<circle cx="459" cy="354.8" r="6.55" fill="#d9d9ba" fill-opacity="0.45" stroke-opacity="0.95"/>
<circle cx="119.5" cy="205.4" r="6.55" fill="#d9d9ba" fill-opacity="0.45" stroke-opacity="0.95"/>
<circle cx="211.4" cy="293.8" r="6.55" fill="#d9d9ba" fill-opacity="0.45" stroke-opacity="0.95"/>
<circle cx="252.6" cy="293.4" r="6.55" fill="#d9d9ba" fill-opacity="0.45" stroke-opacity="0.95"/>
<circle cx="591.2" cy="372.8" r="6.55" fill="#d9d9ba" fill-opacity="0.45" stroke-opacity="0.95"/>
<circle cx="389.6" cy="370.2" r="6.55" fill="#d9d9ba" fill-opacity="0.45" stroke-opacity="0.95"/>
<circle cx="519.6" cy="355.5" r="6.55" fill="#d9d9ba" fill-opacity="0.45" stroke-opacity="0.95"/>
<circle cx="262" cy="335.9" r="6.55" fill="#26a297" fill-opacity="0.6" stroke-opacity="0.95"/>
<circle cx="729.9" cy="366.9" r="6.55" fill="#d9d9ba" fill-opacity="0.45" stroke-opacity="0.95"/>
<circle cx="132" cy="168" r="6.55" fill="#d9d9ba" fill-opacity="0.45" stroke-opacity="0.95"/>
<circle cx="209.3" cy="272.5" r="6.55" fill="#d9d9ba" fill-opacity="0.45" stroke-opacity="0.95"/>
<circle cx="385.2" cy="343.9" r="6.55" fill="#d9d9ba" fill-opacity="0.45" stroke-opacity="0.95"/>
<circle cx="266.7" cy="290.4" r="6.55" fill="#d9d9ba" fill-opacity="0.45" stroke-opacity="0.95"/>
<circle cx="529" cy="385" r="6.55" fill="#26a297" fill-opacity="0.6" stroke-opacity="0.95"/>
<circle cx="277" cy="336" r="6.55" fill="#26a297" fill-opacity="0.6" stroke-opacity="0.95"/>
<circle cx="734.6" cy="367.2" r="6.55" fill="#d9d9ba" fill-opacity="0.45" stroke-opacity="0.95"/>
<circle cx="593.6" cy="373.2" r="6.55" fill="#d9d9ba" fill-opacity="0.45" stroke-opacity="0.95"/>
<circle cx="342.6" cy="346.2" r="6.55" fill="#26a297" fill-opacity="0.6" stroke-opacity="0.95"/>
<circle cx="408.2" cy="340.1" r="6.55" fill="#d9d9ba" fill-opacity="0.45" stroke-opacity="0.95"/>
<circle cx="193.3" cy="232.3" r="6.55" fill="#d9d9ba" fill-opacity="0.45" stroke-opacity="0.95"/>
<circle cx="730" cy="377.2" r="6.55" fill="#d9d9ba" fill-opacity="0.45" stroke-opacity="0.95"/>
<circle cx="266" cy="312" r="6.55" fill="#d9d9ba" fill-opacity="0.45" stroke-opacity="0.95"/>
<circle cx="255.7" cy="349.8" r="6.55" fill="#d9d9ba" fill-opacity="0.45" stroke-opacity="0.95"/>
<circle cx="277.8" cy="289.4" r="6.55" fill="#d9d9ba" fill-opacity="0.45" stroke-opacity="0.95"/>
<circle cx="399.6" cy="369.3" r="6.55" fill="#d9d9ba" fill-opacity="0.45" stroke-opacity="0.95"/>
<circle cx="665.4" cy="372.5" r="6.55" fill="#d9d9ba" fill-opacity="0.45" stroke-opacity="0.95"/>
<circle cx="738.4" cy="383.8" r="6.55" fill="#26a297" fill-opacity="0.6" stroke-opacity="0.95"/>
<circle cx="723.4" cy="368.2" r="6.55" fill="#d9d9ba" fill-opacity="0.45" stroke-opacity="0.95"/>
<circle cx="659.3" cy="374.6" r="6.55" fill="#26a297" fill-opacity="0.6" stroke-opacity="0.95"/>
<circle cx="739.6" cy="373" r="6.55" fill="#d9d9ba" fill-opacity="0.45" stroke-opacity="0.95"/>
<circle cx="606.5" cy="338.7" r="6.55" fill="#26a297" fill-opacity="0.6" stroke-opacity="0.95"/>
<circle cx="274.5" cy="339.3" r="6.55" fill="#d9d9ba" fill-opacity="0.45" stroke-opacity="0.95"/>
<circle cx="275.2" cy="347.1" r="6.55" fill="#d9d9ba" fill-opacity="0.45" stroke-opacity="0.95"/>
<circle cx="608.9" cy="365.4" r="6.55" fill="#d9d9ba" fill-opacity="0.45" stroke-opacity="0.95"/>
<circle cx="724.9" cy="383" r="6.55" fill="#d9d9ba" fill-opacity="0.45" stroke-opacity="0.95"/>
<circle cx="600" cy="362" r="6.55" fill="#26a297" fill-opacity="0.6" stroke-opacity="0.95"/>
<circle cx="189.9" cy="239.2" r="6.55" fill="#d9d9ba" fill-opacity="0.45" stroke-opacity="0.95"/>
<circle cx="324.2" cy="357.4" r="6.55" fill="#d9d9ba" fill-opacity="0.45" stroke-opacity="0.95"/>
<circle cx="207.2" cy="279.3" r="6.55" fill="#d9d9ba" fill-opacity="0.45" stroke-opacity="0.95"/>
<circle cx="543.4" cy="343" r="6.55" fill="#26a297" fill-opacity="0.6" stroke-opacity="0.95"/>
<circle cx="662.1" cy="356.1" r="6.55" fill="#d9d9ba" fill-opacity="0.45" stroke-opacity="0.95"/>
<circle cx="465.6" cy="299.8" r="6.55" fill="#26a297" fill-opacity="0.6" stroke-opacity="0.95"/>
<circle cx="268.5" cy="354.4" r="6.55" fill="#d9d9ba" fill-opacity="0.45" stroke-opacity="0.95"/>
<circle cx="387.8" cy="351" r="6.55" fill="#d9d9ba" fill-opacity="0.45" stroke-opacity="0.95"/>
<circle cx="545" cy="360" r="6.55" fill="#26a297" fill-opacity="0.6" stroke-opacity="0.95"/>
<circle cx="253.4" cy="325.7" r="6.55" fill="#d9d9ba" fill-opacity="0.45" stroke-opacity="0.95"/>
<circle cx="327.4" cy="353.1" r="6.55" fill="#d9d9ba" fill-opacity="0.45" stroke-opacity="0.95"/>
<circle cx="605.6" cy="364.7" r="6.55" fill="#d9d9ba" fill-opacity="0.45" stroke-opacity="0.95"/>
<circle cx="520.1" cy="350.9" r="6.55" fill="#d9d9ba" fill-opacity="0.45" stroke-opacity="0.95"/>
<circle cx="525.9" cy="353" r="6.55" fill="#26a297" fill-opacity="0.6" stroke-opacity="0.95"/>
<circle cx="593.2" cy="363.1" r="6.55" fill="#d9d9ba" fill-opacity="0.45" stroke-opacity="0.95"/>
<circle cx="140.3" cy="208.9" r="6.55" fill="#d9d9ba" fill-opacity="0.45" stroke-opacity="0.95"/>
<circle cx="403.6" cy="350.7" r="6.55" fill="#d9d9ba" fill-opacity="0.45" stroke-opacity="0.95"/>
<circle cx="651.2" cy="359.1" r="6.55" fill="#d9d9ba" fill-opacity="0.45" stroke-opacity="0.95"/>
<circle cx="520.9" cy="331.6" r="6.55" fill="#d9d9ba" fill-opacity="0.45" stroke-opacity="0.95"/>
<circle cx="519" cy="370" r="6.55" fill="#26a297" fill-opacity="0.6" stroke-opacity="0.95"/>
<circle cx="538.5" cy="353.1" r="6.55" fill="#d9d9ba" fill-opacity="0.45" stroke-opacity="0.95"/>
<circle cx="321.2" cy="338.5" r="6.55" fill="#d9d9ba" fill-opacity="0.45" stroke-opacity="0.95"/>
<circle cx="383.5" cy="347.3" r="6.55" fill="#d9d9ba" fill-opacity="0.45" stroke-opacity="0.95"/>
<circle cx="322.5" cy="364" r="6.55" fill="#d9d9ba" fill-opacity="0.45" stroke-opacity="0.95"/>
<circle cx="516.9" cy="375.9" r="6.55" fill="#d9d9ba" fill-opacity="0.45" stroke-opacity="0.95"/>
<circle cx="590.9" cy="355.9" r="6.55" fill="#d9d9ba" fill-opacity="0.45" stroke-opacity="0.95"/>
<circle cx="140.8" cy="209.9" r="6.55" fill="#d9d9ba" fill-opacity="0.45" stroke-opacity="0.95"/>
<circle cx="320.7" cy="354.2" r="6.55" fill="#26a297" fill-opacity="0.6" stroke-opacity="0.95"/>
<circle cx="538.2" cy="374.9" r="6.55" fill="#d9d9ba" fill-opacity="0.45" stroke-opacity="0.95"/>
<circle cx="450.1" cy="354" r="6.55" fill="#d9d9ba" fill-opacity="0.45" stroke-opacity="0.95"/>
<circle cx="533.7" cy="362.8" r="6.55" fill="#d9d9ba" fill-opacity="0.45" stroke-opacity="0.95"/>
<circle cx="527.8" cy="352" r="6.55" fill="#26a297" fill-opacity="0.6" stroke-opacity="0.95"/>
<circle cx="675.9" cy="368.9" r="6.55" fill="#d9d9ba" fill-opacity="0.45" stroke-opacity="0.95"/>
<circle cx="260.7" cy="360.8" r="6.55" fill="#26a297" fill-opacity="0.6" stroke-opacity="0.95"/>
<circle cx="457.1" cy="367.3" r="6.55" fill="#d9d9ba" fill-opacity="0.45" stroke-opacity="0.95"/>
<circle cx="672.6" cy="371.8" r="6.55" fill="#d9d9ba" fill-opacity="0.45" stroke-opacity="0.95"/>
<circle cx="119.8" cy="200.7" r="6.55" fill="#d9d9ba" fill-opacity="0.45" stroke-opacity="0.95"/>
<circle cx="475.4" cy="354.6" r="6.55" fill="#26a297" fill-opacity="0.6" stroke-opacity="0.95"/>
<circle cx="464.4" cy="364.9" r="6.55" fill="#d9d9ba" fill-opacity="0.45" stroke-opacity="0.95"/>
<circle cx="595.3" cy="364.9" r="6.55" fill="#26a297" fill-opacity="0.6" stroke-opacity="0.95"/>
<circle cx="603.8" cy="367.2" r="6.55" fill="#d9d9ba" fill-opacity="0.45" stroke-opacity="0.95"/>
<circle cx="268.9" cy="337.5" r="6.55" fill="#26a297" fill-opacity="0.6" stroke-opacity="0.95"/>
<circle cx="390" cy="349.7" r="6.55" fill="#26a297" fill-opacity="0.6" stroke-opacity="0.95"/>
<circle cx="122.4" cy="201.9" r="6.55" fill="#26a297" fill-opacity="0.6" stroke-opacity="0.95"/>
<circle cx="270" cy="300" r="6.55" fill="#d9d9ba" fill-opacity="0.45" stroke-opacity="0.95"/>
<circle cx="595.6" cy="360.1" r="6.55" fill="#d9d9ba" fill-opacity="0.45" stroke-opacity="0.95"/>
<circle cx="589.2" cy="366" r="6.55" fill="#d9d9ba" fill-opacity="0.45" stroke-opacity="0.95"/>
<circle cx="727.2" cy="367.7" r="6.55" fill="#d9d9ba" fill-opacity="0.45" stroke-opacity="0.95"/>
<circle cx="411.3" cy="344.6" r="6.55" fill="#d9d9ba" fill-opacity="0.45" stroke-opacity="0.95"/>
<circle cx="265.9" cy="350" r="6.55" fill="#d9d9ba" fill-opacity="0.45" stroke-opacity="0.95"/>
<circle cx="599.6" cy="361.9" r="6.55" fill="#26a297" fill-opacity="0.6" stroke-opacity="0.95"/>
<circle cx="537.7" cy="377.8" r="6.55" fill="#d9d9ba" fill-opacity="0.45" stroke-opacity="0.95"/>
<circle cx="132" cy="196" r="6.55" fill="#26a297" fill-opacity="0.6" stroke-opacity="0.95"/>
<circle cx="451.6" cy="351.5" r="6.55" fill="#d9d9ba" fill-opacity="0.45" stroke-opacity="0.95"/>
<circle cx="533.1" cy="340.5" r="6.55" fill="#d9d9ba" fill-opacity="0.45" stroke-opacity="0.95"/>
<circle cx="463.3" cy="321.6" r="6.55" fill="#26a297" fill-opacity="0.6" stroke-opacity="0.95"/>
<circle cx="522.6" cy="341.3" r="6.55" fill="#d9d9ba" fill-opacity="0.45" stroke-opacity="0.95"/>
<circle cx="724.8" cy="365.7" r="6.55" fill="#26a297" fill-opacity="0.6" stroke-opacity="0.95"/>
<circle cx="470" cy="345" r="6.55" fill="#d9d9ba" fill-opacity="0.45" stroke-opacity="0.95"/>
<circle cx="388.9" cy="346.8" r="6.55" fill="#d9d9ba" fill-opacity="0.45" stroke-opacity="0.95"/>
<circle cx="331.5" cy="355.6" r="6.55" fill="#d9d9ba" fill-opacity="0.45" stroke-opacity="0.95"/>
<circle cx="660.7" cy="362.8" r="6.55" fill="#d9d9ba" fill-opacity="0.45" stroke-opacity="0.95"/>
<circle cx="185.1" cy="258.1" r="6.55" fill="#d9d9ba" fill-opacity="0.45" stroke-opacity="0.95"/>
<circle cx="340.6" cy="345" r="6.55" fill="#d9d9ba" fill-opacity="0.45" stroke-opacity="0.95"/>
<circle cx="256.1" cy="360.2" r="6.55" fill="#26a297" fill-opacity="0.6" stroke-opacity="0.95"/>
<circle cx="328.7" cy="369.2" r="6.55" fill="#d9d9ba" fill-opacity="0.45" stroke-opacity="0.95"/>
<circle cx="138.7" cy="225.7" r="6.55" fill="#d9d9ba" fill-opacity="0.45" stroke-opacity="0.95"/>
<circle cx="530" cy="345.1" r="6.55" fill="#d9d9ba" fill-opacity="0.45" stroke-opacity="0.95"/>
<circle cx="193.8" cy="284.7" r="6.55" fill="#d9d9ba" fill-opacity="0.45" stroke-opacity="0.95"/>
<circle cx="265.8" cy="357.2" r="6.55" fill="#d9d9ba" fill-opacity="0.45" stroke-opacity="0.95"/>
<circle cx="530" cy="335" r="6.55" fill="#d9d9ba" fill-opacity="0.45" stroke-opacity="0.95"/>
<circle cx="277.7" cy="335.1" r="6.55" fill="#d9d9ba" fill-opacity="0.45" stroke-opacity="0.95"/>
<circle cx="652.3" cy="365.6" r="6.55" fill="#26a297" fill-opacity="0.6" stroke-opacity="0.95"/>
<circle cx="186.2" cy="235" r="6.55" fill="#26a297" fill-opacity="0.6" stroke-opacity="0.95"/>
<circle cx="132.2" cy="199.6" r="6.55" fill="#d9d9ba" fill-opacity="0.45" stroke-opacity="0.95"/>
<circle cx="460.1" cy="349.3" r="6.55" fill="#d9d9ba" fill-opacity="0.45" stroke-opacity="0.95"/>
<circle cx="474.6" cy="363.8" r="6.55" fill="#26a297" fill-opacity="0.6" stroke-opacity="0.95"/>
<circle cx="119.4" cy="224.5" r="6.55" fill="#26a297" fill-opacity="0.6" stroke-opacity="0.95"/>
<circle cx="138.9" cy="168.6" r="6.55" fill="#d9d9ba" fill-opacity="0.45" stroke-opacity="0.95"/>
<circle cx="119.5" cy="217.8" r="6.55" fill="#d9d9ba" fill-opacity="0.45" stroke-opacity="0.95"/>
<circle cx="274.8" cy="321.5" r="6.55" fill="#26a297" fill-opacity="0.6" stroke-opacity="0.95"/>
<circle cx="342.4" cy="343.7" r="6.55" fill="#26a297" fill-opacity="0.6" stroke-opacity="0.95"/>
<circle cx="263.7" cy="365.8" r="6.55" fill="#d9d9ba" fill-opacity="0.45" stroke-opacity="0.95"/>
<circle cx="408.2" cy="339.7" r="6.55" fill="#26a297" fill-opacity="0.6" stroke-opacity="0.95"/>
<circle cx="273.9" cy="348.6" r="6.55" fill="#d9d9ba" fill-opacity="0.45" stroke-opacity="0.95"/>
<circle cx="469.9" cy="367.7" r="6.55" fill="#d9d9ba" fill-opacity="0.45" stroke-opacity="0.95"/>
<circle cx="338.5" cy="353.8" r="6.55" fill="#d9d9ba" fill-opacity="0.45" stroke-opacity="0.95"/>
<circle cx="455.8" cy="358.6" r="6.55" fill="#d9d9ba" fill-opacity="0.45" stroke-opacity="0.95"/>
<circle cx="589.2" cy="373" r="6.55" fill="#d9d9ba" fill-opacity="0.45" stroke-opacity="0.95"/>
<circle cx="332.2" cy="338.6" r="6.55" fill="#d9d9ba" fill-opacity="0.45" stroke-opacity="0.95"/>
<circle cx="131.7" cy="232.9" r="6.55" fill="#d9d9ba" fill-opacity="0.45" stroke-opacity="0.95"/>
<circle cx="590.2" cy="360" r="6.55" fill="#d9d9ba" fill-opacity="0.45" stroke-opacity="0.95"/>
<circle cx="524.9" cy="350" r="6.55" fill="#d9d9ba" fill-opacity="0.45" stroke-opacity="0.95"/>
<circle cx="463" cy="372" r="6.55" fill="#26a297" fill-opacity="0.6" stroke-opacity="0.95"/>
<circle cx="124.3" cy="220.6" r="6.55" fill="#d9d9ba" fill-opacity="0.45" stroke-opacity="0.95"/>
<circle cx="208.8" cy="214.5" r="6.55" fill="#d9d9ba" fill-opacity="0.45" stroke-opacity="0.95"/>
<circle cx="344.2" cy="351.8" r="6.55" fill="#26a297" fill-opacity="0.6" stroke-opacity="0.95"/>
<circle cx="600.5" cy="372.4" r="6.55" fill="#d9d9ba" fill-opacity="0.45" stroke-opacity="0.95"/>
<circle cx="400" cy="334" r="6.55" fill="#d9d9ba" fill-opacity="0.45" stroke-opacity="0.95"/>
<circle cx="257.2" cy="330.2" r="6.55" fill="#d9d9ba" fill-opacity="0.45" stroke-opacity="0.95"/>
<circle cx="143.4" cy="198.9" r="6.55" fill="#d9d9ba" fill-opacity="0.45" stroke-opacity="0.95"/>
<circle cx="205.8" cy="283.4" r="6.55" fill="#d9d9ba" fill-opacity="0.45" stroke-opacity="0.95"/>
<circle cx="330.1" cy="328.6" r="6.55" fill="#26a297" fill-opacity="0.6" stroke-opacity="0.95"/>
<circle cx="142.5" cy="127.9" r="6.55" fill="#d9d9ba" fill-opacity="0.45" stroke-opacity="0.95"/>
<circle cx="667.9" cy="359.6" r="6.55" fill="#d9d9ba" fill-opacity="0.45" stroke-opacity="0.95"/>
<circle cx="342.8" cy="364.6" r="6.55" fill="#d9d9ba" fill-opacity="0.45" stroke-opacity="0.95"/>
<circle cx="125.8" cy="251.1" r="6.55" fill="#d9d9ba" fill-opacity="0.45" stroke-opacity="0.95"/>
<circle cx="387.5" cy="369" r="6.55" fill="#d9d9ba" fill-opacity="0.45" stroke-opacity="0.95"/>
<circle cx="533.6" cy="378.4" r="6.55" fill="#d9d9ba" fill-opacity="0.45" stroke-opacity="0.95"/>
<circle cx="186.9" cy="254.8" r="6.55" fill="#26a297" fill-opacity="0.6" stroke-opacity="0.95"/>
<circle cx="407.6" cy="344.6" r="6.55" fill="#d9d9ba" fill-opacity="0.45" stroke-opacity="0.95"/>
<circle cx="133.1" cy="215.7" r="6.55" fill="#d9d9ba" fill-opacity="0.45" stroke-opacity="0.95"/>
<circle cx="210" cy="325.2" r="6.55" fill="#d9d9ba" fill-opacity="0.45" stroke-opacity="0.95"/>
<circle cx="251.8" cy="332.1" r="6.55" fill="#d9d9ba" fill-opacity="0.45" stroke-opacity="0.95"/>
<circle cx="258.3" cy="335.2" r="6.55" fill="#d9d9ba" fill-opacity="0.45" stroke-opacity="0.95"/>
<circle cx="476.4" cy="361.1" r="6.55" fill="#26a297" fill-opacity="0.6" stroke-opacity="0.95"/>
<circle cx="663.6" cy="366.9" r="6.55" fill="#d9d9ba" fill-opacity="0.45" stroke-opacity="0.95"/>
<circle cx="519.8" cy="362.5" r="6.55" fill="#d9d9ba" fill-opacity="0.45" stroke-opacity="0.95"/>
<circle cx="199.9" cy="298.4" r="6.55" fill="#26a297" fill-opacity="0.6" stroke-opacity="0.95"/>
<circle cx="540.2" cy="372.2" r="6.55" fill="#d9d9ba" fill-opacity="0.45" stroke-opacity="0.95"/>
<circle cx="605.6" cy="373.4" r="6.55" fill="#d9d9ba" fill-opacity="0.45" stroke-opacity="0.95"/>
<circle cx="143.3" cy="207.2" r="6.55" fill="#26a297" fill-opacity="0.6" stroke-opacity="0.95"/>
<circle cx="458.2" cy="353.6" r="6.55" fill="#d9d9ba" fill-opacity="0.45" stroke-opacity="0.95"/>
<circle cx="458.5" cy="357.7" r="6.55" fill="#d9d9ba" fill-opacity="0.45" stroke-opacity="0.95"/>
<circle cx="455.5" cy="358" r="6.55" fill="#d9d9ba" fill-opacity="0.45" stroke-opacity="0.95"/>
<circle cx="335.2" cy="297.8" r="6.55" fill="#d9d9ba" fill-opacity="0.45" stroke-opacity="0.95"/>
<circle cx="667.6" cy="369.8" r="6.55" fill="#d9d9ba" fill-opacity="0.45" stroke-opacity="0.95"/>
<circle cx="539" cy="342.7" r="6.55" fill="#26a297" fill-opacity="0.6" stroke-opacity="0.95"/>
<circle cx="199.8" cy="245.6" r="6.55" fill="#d9d9ba" fill-opacity="0.45" stroke-opacity="0.95"/>
<circle cx="516" cy="359.7" r="6.55" fill="#d9d9ba" fill-opacity="0.45" stroke-opacity="0.95"/>
<circle cx="530.3" cy="369.4" r="6.55" fill="#d9d9ba" fill-opacity="0.45" stroke-opacity="0.95"/>
<circle cx="532.4" cy="323" r="6.55" fill="#d9d9ba" fill-opacity="0.45" stroke-opacity="0.95"/>
<circle cx="257.3" cy="340.6" r="6.55" fill="#d9d9ba" fill-opacity="0.45" stroke-opacity="0.95"/>
<circle cx="664.1" cy="368" r="6.55" fill="#d9d9ba" fill-opacity="0.45" stroke-opacity="0.95"/>
<circle cx="122.7" cy="220.8" r="6.55" fill="#d9d9ba" fill-opacity="0.45" stroke-opacity="0.95"/>
<circle cx="726" cy="371.8" r="6.55" fill="#d9d9ba" fill-opacity="0.45" stroke-opacity="0.95"/>
<circle cx="517.4" cy="351.6" r="6.55" fill="#d9d9ba" fill-opacity="0.45" stroke-opacity="0.95"/>
<circle cx="344.7" cy="351.1" r="6.55" fill="#d9d9ba" fill-opacity="0.45" stroke-opacity="0.95"/>
<circle cx="741.5" cy="377.8" r="6.55" fill="#d9d9ba" fill-opacity="0.45" stroke-opacity="0.95"/>
<circle cx="259.7" cy="306.5" r="6.55" fill="#d9d9ba" fill-opacity="0.45" stroke-opacity="0.95"/>
<circle cx="659.2" cy="361.6" r="6.55" fill="#26a297" fill-opacity="0.6" stroke-opacity="0.95"/>
<circle cx="330.9" cy="369.1" r="6.55" fill="#d9d9ba" fill-opacity="0.45" stroke-opacity="0.95"/>
<circle cx="463.8" cy="358.6" r="6.55" fill="#d9d9ba" fill-opacity="0.45" stroke-opacity="0.95"/>
<circle cx="464.5" cy="352.4" r="6.55" fill="#d9d9ba" fill-opacity="0.45" stroke-opacity="0.95"/>
<circle cx="327.3" cy="356.1" r="6.55" fill="#d9d9ba" fill-opacity="0.45" stroke-opacity="0.95"/>
<circle cx="454.6" cy="357.5" r="6.55" fill="#d9d9ba" fill-opacity="0.45" stroke-opacity="0.95"/>
<circle cx="337.8" cy="356.4" r="6.55" fill="#d9d9ba" fill-opacity="0.45" stroke-opacity="0.95"/>
<circle cx="673.7" cy="357.8" r="6.55" fill="#d9d9ba" fill-opacity="0.45" stroke-opacity="0.95"/>
<circle cx="389.1" cy="380" r="6.55" fill="#26a297" fill-opacity="0.6" stroke-opacity="0.95"/>
<circle cx="323" cy="352" r="6.55" fill="#26a297" fill-opacity="0.6" stroke-opacity="0.95"/>
<circle cx="604.3" cy="369.3" r="6.55" fill="#26a297" fill-opacity="0.6" stroke-opacity="0.95"/>
<circle cx="470.9" cy="366.2" r="6.55" fill="#26a297" fill-opacity="0.6" stroke-opacity="0.95"/>
<circle cx="537.9" cy="367.7" r="6.55" fill="#d9d9ba" fill-opacity="0.45" stroke-opacity="0.95"/>
<circle cx="591.2" cy="355.9" r="6.55" fill="#d9d9ba" fill-opacity="0.45" stroke-opacity="0.95"/>
<circle cx="386.6" cy="351.4" r="6.55" fill="#d9d9ba" fill-opacity="0.45" stroke-opacity="0.95"/>
<circle cx="539.3" cy="366.5" r="6.55" fill="#d9d9ba" fill-opacity="0.45" stroke-opacity="0.95"/>
<circle cx="257.5" cy="355.9" r="6.55" fill="#26a297" fill-opacity="0.6" stroke-opacity="0.95"/>
<circle cx="265.8" cy="327.3" r="6.55" fill="#d9d9ba" fill-opacity="0.45" stroke-opacity="0.95"/>
<circle cx="261.1" cy="277.3" r="6.55" fill="#d9d9ba" fill-opacity="0.45" stroke-opacity="0.95"/>
<circle cx="385.5" cy="366.7" r="6.55" fill="#d9d9ba" fill-opacity="0.45" stroke-opacity="0.95"/>
<circle cx="194.5" cy="271.1" r="6.55" fill="#d9d9ba" fill-opacity="0.45" stroke-opacity="0.95"/>
<circle cx="135.7" cy="214.5" r="6.55" fill="#d9d9ba" fill-opacity="0.45" stroke-opacity="0.95"/>
<circle cx="142.9" cy="118.7" r="6.55" fill="#26a297" fill-opacity="0.6" stroke-opacity="0.95"/>
<circle cx="324.8" cy="351.8" r="6.55" fill="#d9d9ba" fill-opacity="0.45" stroke-opacity="0.95"/>
<circle cx="718.5" cy="379.4" r="6.55" fill="#d9d9ba" fill-opacity="0.45" stroke-opacity="0.95"/>
<circle cx="205.9" cy="246.9" r="6.55" fill="#d9d9ba" fill-opacity="0.45" stroke-opacity="0.95"/>
<circle cx="719.2" cy="339.7" r="6.55" fill="#26a297" fill-opacity="0.6" stroke-opacity="0.95"/>
<circle cx="207.9" cy="251.1" r="6.55" fill="#26a297" fill-opacity="0.6" stroke-opacity="0.95"/>
<circle cx="387.6" cy="361.5" r="6.55" fill="#d9d9ba" fill-opacity="0.45" stroke-opacity="0.95"/>
<circle cx="478.2" cy="359.4" r="6.55" fill="#d9d9ba" fill-opacity="0.45" stroke-opacity="0.95"/>
<circle cx="665.1" cy="361.7" r="6.55" fill="#d9d9ba" fill-opacity="0.45" stroke-opacity="0.95"/>
<circle cx="607.4" cy="368.4" r="6.55" fill="#d9d9ba" fill-opacity="0.45" stroke-opacity="0.95"/>
<circle cx="611" cy="366" r="6.55" fill="#26a297" fill-opacity="0.6" stroke-opacity="0.95"/>
<circle cx="652.6" cy="356.4" r="6.55" fill="#d9d9ba" fill-opacity="0.45" stroke-opacity="0.95"/>
<circle cx="603.3" cy="363.6" r="6.55" fill="#d9d9ba" fill-opacity="0.45" stroke-opacity="0.95"/>
<circle cx="722" cy="372" r="6.55" fill="#26a297" fill-opacity="0.6" stroke-opacity="0.95"/>
<circle cx="457.3" cy="349.3" r="6.55" fill="#d9d9ba" fill-opacity="0.45" stroke-opacity="0.95"/>
<circle cx="136.1" cy="221.4" r="6.55" fill="#d9d9ba" fill-opacity="0.45" stroke-opacity="0.95"/>
<circle cx="478.6" cy="358.8" r="6.55" fill="#26a297" fill-opacity="0.6" stroke-opacity="0.95"/>
<circle cx="119.8" cy="191.3" r="6.55" fill="#d9d9ba" fill-opacity="0.45" stroke-opacity="0.95"/>
<circle cx="268" cy="340" r="6.55" fill="#26a297" fill-opacity="0.6" stroke-opacity="0.95"/>
<circle cx="196.8" cy="270.8" r="6.55" fill="#d9d9ba" fill-opacity="0.45" stroke-opacity="0.95"/>
<circle cx="134.6" cy="212.3" r="6.55" fill="#d9d9ba" fill-opacity="0.45" stroke-opacity="0.95"/>
<circle cx="591" cy="281.3" r="6.55" fill="#26a297" fill-opacity="0.6" stroke-opacity="0.95"/>
<circle cx="253.4" cy="345.8" r="6.55" fill="#d9d9ba" fill-opacity="0.45" stroke-opacity="0.95"/>
<circle cx="399.6" cy="351.3" r="6.55" fill="#d9d9ba" fill-opacity="0.45" stroke-opacity="0.95"/>
<circle cx="269.3" cy="350.8" r="6.55" fill="#d9d9ba" fill-opacity="0.45" stroke-opacity="0.95"/>
<circle cx="662.7" cy="360.6" r="6.55" fill="#d9d9ba" fill-opacity="0.45" stroke-opacity="0.95"/>
<circle cx="122.5" cy="214.2" r="6.55" fill="#26a297" fill-opacity="0.6" stroke-opacity="0.95"/>
<circle cx="718.2" cy="359.8" r="6.55" fill="#26a297" fill-opacity="0.6" stroke-opacity="0.95"/>
<circle cx="322.3" cy="353.6" r="6.55" fill="#d9d9ba" fill-opacity="0.45" stroke-opacity="0.95"/>
<circle cx="401.7" cy="354" r="6.55" fill="#d9d9ba" fill-opacity="0.45" stroke-opacity="0.95"/>
<circle cx="468.6" cy="338.7" r="6.55" fill="#d9d9ba" fill-opacity="0.45" stroke-opacity="0.95"/>
<circle cx="720.2" cy="348.7" r="6.55" fill="#26a297" fill-opacity="0.6" stroke-opacity="0.95"/>
<circle cx="126" cy="230.5" r="6.55" fill="#d9d9ba" fill-opacity="0.45" stroke-opacity="0.95"/>
<circle cx="201.3" cy="291.6" r="6.55" fill="#d9d9ba" fill-opacity="0.45" stroke-opacity="0.95"/>
<circle cx="731" cy="383" r="6.55" fill="#26a297" fill-opacity="0.6" stroke-opacity="0.95"/>
<circle cx="592" cy="371" r="6.55" fill="#d9d9ba" fill-opacity="0.45" stroke-opacity="0.95"/>
<circle cx="266.2" cy="323" r="6.55" fill="#d9d9ba" fill-opacity="0.45" stroke-opacity="0.95"/>
<circle cx="384.2" cy="363.8" r="6.55" fill="#d9d9ba" fill-opacity="0.45" stroke-opacity="0.95"/>
</g>
<rect x="91.5" y="99" width="674.5" height="293.5" fill="none" stroke="#1a1a1a" stroke-width="2" />
<line x1="91.5" y1="126" x2="97" y2="126" stroke="#1a1a1a" stroke-width="1.3" />
<text x="83.8" y="132.7" font-size="20.5" font-family='"Liberation Sans", "DejaVu Sans", sans-serif' fill="#1a1a1a" text-anchor="end" textLength="22.2" lengthAdjust="spacingAndGlyphs">50</text>
<line x1="91.5" y1="179" x2="97" y2="179" stroke="#1a1a1a" stroke-width="1.3" />
<text x="83.8" y="185.7" font-size="20.5" font-family='"Liberation Sans", "DejaVu Sans", sans-serif' fill="#1a1a1a" text-anchor="end" textLength="22.2" lengthAdjust="spacingAndGlyphs">40</text>
<line x1="91.5" y1="232" x2="97" y2="232" stroke="#1a1a1a" stroke-width="1.3" />
<text x="83.8" y="238.7" font-size="20.5" font-family='"Liberation Sans", "DejaVu Sans", sans-serif' fill="#1a1a1a" text-anchor="end" textLength="22.2" lengthAdjust="spacingAndGlyphs">30</text>
<line x1="91.5" y1="285" x2="97" y2="285" stroke="#1a1a1a" stroke-width="1.3" />
<text x="83.8" y="291.7" font-size="20.5" font-family='"Liberation Sans", "DejaVu Sans", sans-serif' fill="#1a1a1a" text-anchor="end" textLength="22.2" lengthAdjust="spacingAndGlyphs">20</text>
<line x1="91.5" y1="338" x2="97" y2="338" stroke="#1a1a1a" stroke-width="1.3" />
<text x="83.8" y="344.7" font-size="20.5" font-family='"Liberation Sans", "DejaVu Sans", sans-serif' fill="#1a1a1a" text-anchor="end" textLength="22.2" lengthAdjust="spacingAndGlyphs">10</text>
<line x1="91.5" y1="388" x2="97" y2="388" stroke="#1a1a1a" stroke-width="1.3" />
<text x="83.8" y="394.7" font-size="20.5" font-family='"Liberation Sans", "DejaVu Sans", sans-serif' fill="#1a1a1a" text-anchor="end" textLength="11.1" lengthAdjust="spacingAndGlyphs">0</text>
<line x1="131.1" y1="392.5" x2="131.1" y2="387" stroke="#1a1a1a" stroke-width="1.3" />
<text x="139.6" y="405.5" font-size="21" font-family='"Liberation Sans", "DejaVu Sans", sans-serif' fill="#1a1a1a" text-anchor="end" font-style="italic" transform="rotate(-69 139.6 405.5)" textLength="148" lengthAdjust="spacingAndGlyphs">Proteobacteria</text>
<line x1="197.5" y1="392.5" x2="197.5" y2="387" stroke="#1a1a1a" stroke-width="1.3" />
<text x="206" y="405.5" font-size="21" font-family='"Liberation Sans", "DejaVu Sans", sans-serif' fill="#1a1a1a" text-anchor="end" font-style="italic" transform="rotate(-69 206 405.5)" textLength="139.5" lengthAdjust="spacingAndGlyphs">Acidobacteria</text>
<line x1="264.2" y1="392.5" x2="264.2" y2="387" stroke="#1a1a1a" stroke-width="1.3" />
<text x="272.7" y="405.5" font-size="21" font-family='"Liberation Sans", "DejaVu Sans", sans-serif' fill="#1a1a1a" text-anchor="end" font-style="italic" transform="rotate(-69 272.7 405.5)" textLength="161.9" lengthAdjust="spacingAndGlyphs">Verrucomicrobia</text>
<line x1="330.8" y1="392.5" x2="330.8" y2="387" stroke="#1a1a1a" stroke-width="1.3" />
<text x="339.3" y="405.5" font-size="21" font-family='"Liberation Sans", "DejaVu Sans", sans-serif' fill="#1a1a1a" text-anchor="end" font-style="italic" transform="rotate(-69 339.3 405.5)" textLength="145.5" lengthAdjust="spacingAndGlyphs">Actinobacteria</text>
<line x1="397.4" y1="392.5" x2="397.4" y2="387" stroke="#1a1a1a" stroke-width="1.3" />
<text x="405.9" y="405.5" font-size="21" font-family='"Liberation Sans", "DejaVu Sans", sans-serif' fill="#1a1a1a" text-anchor="end" font-style="italic" transform="rotate(-69 405.9 405.5)" textLength="108.4" lengthAdjust="spacingAndGlyphs">Chloroflexi</text>
<line x1="464" y1="392.5" x2="464" y2="387" stroke="#1a1a1a" stroke-width="1.3" />
<text x="472.5" y="405.5" font-size="21" font-family='"Liberation Sans", "DejaVu Sans", sans-serif' fill="#1a1a1a" text-anchor="end" font-style="italic" transform="rotate(-69 472.5 405.5)" textLength="203.3" lengthAdjust="spacingAndGlyphs">Unclassified bacteria</text>
<line x1="530.6" y1="392.5" x2="530.6" y2="387" stroke="#1a1a1a" stroke-width="1.3" />
<text x="539.1" y="405.5" font-size="21" font-family='"Liberation Sans", "DejaVu Sans", sans-serif' fill="#1a1a1a" text-anchor="end" font-style="italic" transform="rotate(-69 539.1 405.5)" textLength="201.9" lengthAdjust="spacingAndGlyphs">Gemmatimonadetes</text>
<line x1="597.2" y1="392.5" x2="597.2" y2="387" stroke="#1a1a1a" stroke-width="1.3" />
<text x="605.7" y="405.5" font-size="21" font-family='"Liberation Sans", "DejaVu Sans", sans-serif' fill="#1a1a1a" text-anchor="end" font-style="italic" transform="rotate(-69 605.7 405.5)" textLength="136" lengthAdjust="spacingAndGlyphs">Bacteroidetes</text>
<line x1="663.8" y1="392.5" x2="663.8" y2="387" stroke="#1a1a1a" stroke-width="1.3" />
<text x="672.3" y="405.5" font-size="21" font-family='"Liberation Sans", "DejaVu Sans", sans-serif' fill="#1a1a1a" text-anchor="end" font-style="italic" transform="rotate(-69 672.3 405.5)" textLength="155.8" lengthAdjust="spacingAndGlyphs">Planctomycetes</text>
<line x1="729.5" y1="392.5" x2="729.5" y2="387" stroke="#1a1a1a" stroke-width="1.3" />
<text x="738" y="405.5" font-size="21" font-family='"Liberation Sans", "DejaVu Sans", sans-serif' fill="#1a1a1a" text-anchor="end" font-style="italic" transform="rotate(-69 738 405.5)" textLength="64.7" lengthAdjust="spacingAndGlyphs">WPS-2</text>
<text x="21.7" y="262" font-size="23" font-family='"Liberation Sans", "DejaVu Sans", sans-serif' fill="#1a1a1a" text-anchor="middle" font-weight="bold" transform="rotate(-90 21.7 262)" textLength="247" lengthAdjust="spacingAndGlyphs">Relative % abundance</text>
<text x="53.5" y="266" font-size="23" font-family='"Liberation Sans", "DejaVu Sans", sans-serif' fill="#1a1a1a" text-anchor="middle" transform="rotate(-90 53.5 266)" textLength="245" lengthAdjust="spacingAndGlyphs">(16S rRNA per phylum)</text>
<text x="437" y="633.5" font-size="25" font-family='"Liberation Sans", "DejaVu Sans", sans-serif' fill="#1a1a1a" text-anchor="middle" font-weight="bold" textLength="89" lengthAdjust="spacingAndGlyphs">Phylum</text>
<circle cx="557" cy="123.7" r="6.8" fill="#eeeee0" stroke="#1a1a1a" stroke-width="1" />
<circle cx="557" cy="162.1" r="6.8" fill="#7cc4bc" stroke="#1a1a1a" stroke-width="1" />
<text x="570.8" y="132.7" font-size="22" font-family='"Liberation Sans", "DejaVu Sans", sans-serif' fill="#1a1a1a" textLength="118.6" lengthAdjust="spacingAndGlyphs">Background</text>
<text x="570.8" y="171" font-size="22" font-family='"Liberation Sans", "DejaVu Sans", sans-serif' fill="#1a1a1a" textLength="169" lengthAdjust="spacingAndGlyphs">Above kimberlite</text>
<text x="747.5" y="129.5" font-size="31" font-family='"Liberation Sans", "DejaVu Sans", sans-serif' fill="#1a1a1a" text-anchor="middle" font-weight="bold">a</text>
<text x="799" y="247.5" font-size="23.5" font-family='"Liberation Sans", "DejaVu Sans", sans-serif' fill="#1a1a1a" text-anchor="middle" font-weight="bold" transform="rotate(-90 799 247.5)" textLength="293" lengthAdjust="spacingAndGlyphs">Number of observed OTUs</text>
<text x="829" y="244.5" font-size="23" font-family='"Liberation Sans", "DejaVu Sans", sans-serif' fill="#1a1a1a" text-anchor="middle" transform="rotate(-90 829 244.5)" textLength="255" lengthAdjust="spacingAndGlyphs">(97% sequence identity)</text>
<text x="886.8" y="122.7" font-size="20.5" font-family='"Liberation Sans", "DejaVu Sans", sans-serif' fill="#1a1a1a" text-anchor="end" textLength="46.8" lengthAdjust="spacingAndGlyphs">2500</text>
<text x="886.8" y="168.6" font-size="20.5" font-family='"Liberation Sans", "DejaVu Sans", sans-serif' fill="#1a1a1a" text-anchor="end" textLength="46.8" lengthAdjust="spacingAndGlyphs">2000</text>
<text x="886.8" y="216.5" font-size="20.5" font-family='"Liberation Sans", "DejaVu Sans", sans-serif' fill="#1a1a1a" text-anchor="end" textLength="46.8" lengthAdjust="spacingAndGlyphs">1500</text>
<text x="886.8" y="262.6" font-size="20.5" font-family='"Liberation Sans", "DejaVu Sans", sans-serif' fill="#1a1a1a" text-anchor="end" textLength="46.8" lengthAdjust="spacingAndGlyphs">1000</text>
<text x="886.8" y="307.5" font-size="20.5" font-family='"Liberation Sans", "DejaVu Sans", sans-serif' fill="#1a1a1a" text-anchor="end" textLength="35.1" lengthAdjust="spacingAndGlyphs">500</text>
<text x="886.8" y="354.8" font-size="20.5" font-family='"Liberation Sans", "DejaVu Sans", sans-serif' fill="#1a1a1a" text-anchor="end" textLength="11.7" lengthAdjust="spacingAndGlyphs">0</text>
<line x1="988.4" y1="157.1" x2="988.4" y2="223.3" stroke="#a09a7c" stroke-width="1" />
<line x1="972.3" y1="157.1" x2="1005" y2="157.1" stroke="#a09a7c" stroke-width="1" />
<line x1="972.3" y1="223.3" x2="1005" y2="223.3" stroke="#a09a7c" stroke-width="1" />
<rect x="933" y="187" width="110.4" height="26.5" fill="#d3ceae" stroke="#a09a7c" stroke-width="1" />
<line x1="933" y1="201.4" x2="1043.4" y2="201.4" stroke="#a09a7c" stroke-width="1" />
<path d="M986 196.6 l4.8 4.8 m0 -4.8 l-4.8 4.8" stroke="#a09a7c" stroke-width="1" fill="none"/>
<circle cx="988.4" cy="258.6" r="1.8" fill="#a09a7c" stroke="none" stroke-width="1" />
<line x1="1209.6" y1="197.8" x2="1209.6" y2="298.2" stroke="#3aafa5" stroke-width="1.2" />
<line x1="1193.3" y1="197.8" x2="1225.9" y2="197.8" stroke="#3aafa5" stroke-width="1.2" />
<line x1="1193.3" y1="298.2" x2="1225.9" y2="298.2" stroke="#3aafa5" stroke-width="1.2" />
<rect x="1154" y="209.6" width="111.1" height="52" fill="#cdf2ee" stroke="#3aafa5" stroke-width="1.2" />
<line x1="1154" y1="229.4" x2="1265.1" y2="229.4" stroke="#3aafa5" stroke-width="1.2" />
<path d="M1207.2 232.2 l4.8 4.8 m0 -4.8 l-4.8 4.8" stroke="#3aafa5" stroke-width="1.1" fill="none"/>
<text x="926" y="333.2" font-size="22" font-family='"Liberation Sans", "DejaVu Sans", sans-serif' fill="#1a1a1a" textLength="118.2" lengthAdjust="spacingAndGlyphs">Background</text>
<text x="1125.8" y="333.2" font-size="22" font-family='"Liberation Sans", "DejaVu Sans", sans-serif' fill="#1a1a1a" textLength="169" lengthAdjust="spacingAndGlyphs">Above kimberlite</text>
<rect x="898" y="100" width="427" height="258" fill="none" stroke="#111" stroke-width="2.4" />
<text x="1309" y="129.7" font-size="31" font-family='"Liberation Sans", "DejaVu Sans", sans-serif' fill="#1a1a1a" text-anchor="middle" font-weight="bold">b</text>
<defs>
<linearGradient id="gbeige" x1="0" x2="1" y1="0" y2="0"><stop offset="0" stop-color="#ffffff"/><stop offset="0.06" stop-color="#fefefd"/><stop offset="0.45" stop-color="#f7f5ee"/><stop offset="1" stop-color="#efebdd"/></linearGradient>
<linearGradient id="gteal" x1="0" x2="1" y1="0" y2="0"><stop offset="0" stop-color="#ffffff" stop-opacity="0"/><stop offset="0.08" stop-color="#f4fbfb"/><stop offset="0.5" stop-color="#dbf0ee"/><stop offset="1" stop-color="#bce6e4"/></linearGradient>
</defs>
<rect x="808" y="380.5" width="516.7" height="254.5" fill="url(#gbeige)" stroke="none" stroke-width="1" />
<rect x="808" y="488.4" width="516.7" height="64.9" fill="url(#gteal)" stroke="none" stroke-width="1" />
<rect x="1245.5" y="488.4" width="79.2" height="64.9" fill="#bfe8e6" stroke="none" stroke-width="1" />
<rect x="1245.5" y="380.5" width="79.2" height="107.9" fill="#efebdd" stroke="none" stroke-width="1" />
<rect x="1245.5" y="553.3" width="79.2" height="81.7" fill="#efebdd" stroke="none" stroke-width="1" />
<path d="M804 488.4 H808.4 M808.4 405.5 V571.2 M808.4 405.5 H1100.1 M808.4 571.2 H837.2 M837.2 539.2 V603.2 H1217 M837.2 539.2 H866.3 M866.3 508.2 V570.1 H1158.7 M866.3 508.2 H895.5 M895.5 479.3 V536.4 H1217 M895.5 479.3 H924.5 M924.5 454.5 V504.2 H1187.6 M924.5 454.5 H953.7 M953.7 438.2 V471.1 H982.4 M953.7 438.2 H1100.1" stroke="#8c8c88" stroke-width="1" fill="none"/>
<path d="M1100.1 405.5 L1245.5 388.4 V421.3 Z" stroke="#8c8c88" stroke-width="0.9" fill="none"/>
<path d="M1100.1 438.2 L1245.5 421.3 V454.5 Z" stroke="#8c8c88" stroke-width="0.9" fill="none"/>
<path d="M982.4 471.1 L1245.5 454.5 V486.9 Z" stroke="#8c8c88" stroke-width="0.9" fill="none"/>
<path d="M1187.6 504.2 L1245.5 488.4 V520.1 Z" stroke="#8c8c88" stroke-width="0.9" fill="none"/>
<path d="M1217 536.4 L1245.5 520.8 V553.2 Z" stroke="#8c8c88" stroke-width="0.9" fill="none"/>
<path d="M1158.7 570.1 L1245.5 553.7 V586.9 Z" stroke="#8c8c88" stroke-width="0.9" fill="none"/>
<path d="M1217 603.2 L1245.5 587.5 V619.3 Z" stroke="#8c8c88" stroke-width="0.9" fill="none"/>
<text x="1241.5" y="412" font-size="22" font-family='"Liberation Sans", "DejaVu Sans", sans-serif' fill="#1a1a1a" text-anchor="end">8</text>
<text x="1241.5" y="445.6" font-size="22" font-family='"Liberation Sans", "DejaVu Sans", sans-serif' fill="#1a1a1a" text-anchor="end">9</text>
<text x="1241.5" y="480.2" font-size="22" font-family='"Liberation Sans", "DejaVu Sans", sans-serif' fill="#1a1a1a" text-anchor="end">21</text>
<text x="1241.5" y="510.8" font-size="22" font-family='"Liberation Sans", "DejaVu Sans", sans-serif' fill="#1a1a1a" text-anchor="end">3</text>
<text x="1241.5" y="544.4" font-size="22" font-family='"Liberation Sans", "DejaVu Sans", sans-serif' fill="#1a1a1a" text-anchor="end">2</text>
<text x="1241.5" y="577.8" font-size="22" font-family='"Liberation Sans", "DejaVu Sans", sans-serif' fill="#1a1a1a" text-anchor="end">4</text>
<text x="1241.5" y="611" font-size="22" font-family='"Liberation Sans", "DejaVu Sans", sans-serif' fill="#1a1a1a" text-anchor="end">2</text>
<circle cx="1277.2" cy="404.1" r="14.9" fill="#d4ceae" stroke="#2a2a2a" stroke-width="0.8" /><path d="M1277.2 389.2 A14.9 14.9 0 0 0 1277.2 419 Z" fill="#3aaea2" stroke="#2a2a2a" stroke-width="0.8"/>
<circle cx="1277.2" cy="438.2" r="14.9" fill="#d4ceae" stroke="#2a2a2a" stroke-width="0.8" />
<circle cx="1277.2" cy="473.2" r="14.5" fill="#d4ceae" stroke="#2a2a2a" stroke-width="0.8" /><path d="M1277.2 473.2 L1277.2 458.7 A14.5 14.5 0 0 1 1280.8 459.2 Z" fill="#3aaea2" stroke="#2a2a2a" stroke-width="0.8"/>
<circle cx="1277.2" cy="505.9" r="13.6" fill="#3aaea2" stroke="#2a2a2a" stroke-width="0.8" />
<circle cx="1277.2" cy="539" r="13.6" fill="#3aaea2" stroke="#2a2a2a" stroke-width="0.8" />
<circle cx="1277.2" cy="570.8" r="13.9" fill="#d4ceae" stroke="#2a2a2a" stroke-width="0.8" /><path d="M1277.2 570.8 L1277.2 556.9 A13.9 13.9 0 0 1 1291.1 570.8 Z" fill="#3aaea2" stroke="#2a2a2a" stroke-width="0.8"/>
<circle cx="1277.2" cy="605.7" r="13.9" fill="#d4ceae" stroke="#2a2a2a" stroke-width="0.8" />
<text x="1306" y="410.2" font-size="22" font-family='"Liberation Sans", "DejaVu Sans", sans-serif' fill="#1a1a1a">1</text>
<text x="1306" y="444.4" font-size="22" font-family='"Liberation Sans", "DejaVu Sans", sans-serif' fill="#1a1a1a">2</text>
<text x="1306" y="479.3" font-size="22" font-family='"Liberation Sans", "DejaVu Sans", sans-serif' fill="#1a1a1a">3</text>
<text x="1306" y="510.8" font-size="22" font-family='"Liberation Sans", "DejaVu Sans", sans-serif' fill="#1a1a1a">4</text>
<text x="1306" y="545" font-size="22" font-family='"Liberation Sans", "DejaVu Sans", sans-serif' fill="#1a1a1a">5</text>
<text x="1306" y="577.3" font-size="22" font-family='"Liberation Sans", "DejaVu Sans", sans-serif' fill="#1a1a1a">6</text>
<text x="1306" y="611.4" font-size="22" font-family='"Liberation Sans", "DejaVu Sans", sans-serif' fill="#1a1a1a">7</text>
<rect x="991.2" y="612.3" width="71.7" height="22.7" fill="#fff" stroke="none" stroke-width="1" />
<text x="1026.2" y="626.3" font-size="21" font-family='"Liberation Sans", "DejaVu Sans", sans-serif' fill="#1a1a1a" text-anchor="middle">2.0</text>
<line x1="996.1" y1="631.5" x2="1054.7" y2="631.5" stroke="#111" stroke-width="1.6" />
<text x="823.8" y="433" font-size="31" font-family='"Liberation Sans", "DejaVu Sans", sans-serif' fill="#1a1a1a" text-anchor="middle" font-weight="bold">c</text>
<text x="1360" y="365.5" font-size="23.5" font-family='"Liberation Sans", "DejaVu Sans", sans-serif' fill="#1a1a1a" text-anchor="middle" font-weight="bold" transform="rotate(-90 1360 365.5)" textLength="212" lengthAdjust="spacingAndGlyphs">Response Ratio (%)</text>
<text x="1388.3" y="120.3" font-size="20.5" font-family='"Liberation Sans", "DejaVu Sans", sans-serif' fill="#1a1a1a" text-anchor="end" textLength="46.4" lengthAdjust="spacingAndGlyphs">1000</text>
<text x="1388.3" y="241" font-size="20.5" font-family='"Liberation Sans", "DejaVu Sans", sans-serif' fill="#1a1a1a" text-anchor="end" textLength="34.8" lengthAdjust="spacingAndGlyphs">100</text>
<text x="1388.3" y="361.6" font-size="20.5" font-family='"Liberation Sans", "DejaVu Sans", sans-serif' fill="#1a1a1a" text-anchor="end" textLength="23.2" lengthAdjust="spacingAndGlyphs">10</text>
<text x="1388.3" y="485" font-size="20.5" font-family='"Liberation Sans", "DejaVu Sans", sans-serif' fill="#1a1a1a" text-anchor="end" textLength="11.6" lengthAdjust="spacingAndGlyphs">1</text>
<rect x="1443.7" y="401" width="76.7" height="86.6" fill="#d3ceae" stroke="none" stroke-width="1" />
<rect x="1630.6" y="187.7" width="76.9" height="299.9" fill="#39aea2" stroke="none" stroke-width="1" />
<rect x="1832.2" y="192.3" width="76.9" height="295.3" fill="#cdf3ef" stroke="none" stroke-width="1" />
<text x="1483" y="395.3" font-size="23.5" font-family='"Liberation Sans", "DejaVu Sans", sans-serif' fill="#d3ceae" text-anchor="middle" font-weight="bold" textLength="52.4" lengthAdjust="spacingAndGlyphs">4.99</text>
<text x="1669.7" y="182.1" font-size="23.5" font-family='"Liberation Sans", "DejaVu Sans", sans-serif' fill="#39aea2" text-anchor="middle" font-weight="bold" textLength="45.3" lengthAdjust="spacingAndGlyphs">296</text>
<text x="1869.8" y="186.7" font-size="23.5" font-family='"Liberation Sans", "DejaVu Sans", sans-serif' fill="#cdf3ef" text-anchor="middle" font-weight="bold" textLength="44.3" lengthAdjust="spacingAndGlyphs">273</text>
<text x="1483.5" y="522.2" font-size="22" font-family='"Liberation Sans", "DejaVu Sans", sans-serif' fill="#1a1a1a" text-anchor="middle" textLength="137.8" lengthAdjust="spacingAndGlyphs">Geochemistry</text>
<text x="1669.2" y="522.2" font-size="22" font-family='"Liberation Sans", "DejaVu Sans", sans-serif' fill="#1a1a1a" text-anchor="middle" textLength="106.7" lengthAdjust="spacingAndGlyphs">Incubation</text>
<text x="1669.4" y="551" font-size="22" font-family='"Liberation Sans", "DejaVu Sans", sans-serif' fill="#1a1a1a" text-anchor="middle" textLength="95" lengthAdjust="spacingAndGlyphs">predicted</text>
<text x="1669.5" y="579.6" font-size="22" font-family='"Liberation Sans", "DejaVu Sans", sans-serif' fill="#1a1a1a" text-anchor="middle" textLength="96" lengthAdjust="spacingAndGlyphs">indicators</text>
<text x="1858.6" y="523" font-size="22" font-family='"Liberation Sans", "DejaVu Sans", sans-serif' fill="#1a1a1a" text-anchor="middle" textLength="195.8" lengthAdjust="spacingAndGlyphs">Incubation + DO-18</text>
<text x="1858.8" y="552" font-size="22" font-family='"Liberation Sans", "DejaVu Sans", sans-serif' fill="#1a1a1a" text-anchor="middle" textLength="197.6" lengthAdjust="spacingAndGlyphs">predicted indicators</text>
<rect x="1403" y="99" width="566" height="501.7" fill="none" stroke="#111" stroke-width="2" />
<text x="1952" y="129.7" font-size="31" font-family='"Liberation Sans", "DejaVu Sans", sans-serif' fill="#1a1a1a" text-anchor="middle" font-weight="bold">d</text>
<defs><clipPath id="mapclip"><rect x="18" y="674.4" width="636" height="429"/></clipPath></defs>
<g transform="translate(0 0)">
<g clip-path="url(#mapclip)">
<rect x="18" y="674.4" width="636" height="429" fill="#dcdacd" stroke="none" stroke-width="1" />
<path d="M-5 838.5 C-2.5 800.6 8 840.5 14 840.7 C20 840.9 32.5 839.9 40.3 840.1 C48.1 840.3 66.1 841 72.5 842.3 C78.9 843.6 84.8 850 88.6 850.1 C92.4 850.2 97.5 844.2 100.7 842.9 C103.9 841.6 109.8 840.2 112.7 840.1 C115.6 840 120.7 839.9 122.8 841.9 C124.9 843.9 127.5 851.1 128.8 855 C130.1 858.9 131.3 867.4 132.9 871.1 C134.5 874.8 139 879.9 140.9 883.1 C142.8 886.3 144.6 892.1 147 895.2 C149.4 898.3 155.8 905 159 906.3 C162.2 907.6 168.7 903.6 171.1 904.7 C173.5 905.8 175.6 911.8 177.2 914.7 C178.8 917.6 181.9 923.8 183.2 926.8 C184.5 929.8 184.8 934.9 187.2 936.9 C189.6 938.9 197.3 941 201.3 941.9 C205.3 942.8 212 943.8 217.4 943.9 C222.8 944 235.2 942.8 241.6 942.9 C248 943 257.9 949.3 265.7 944.9 C273.5 940.5 290.1 917.3 300 910 C309.9 902.7 332.4 894.1 340 890 C347.6 885.9 353.3 879.6 357 879 C360.7 878.4 365.7 886.3 368 885.7 C370.3 885.1 372.3 876.9 374 874.7 C375.7 872.5 378.2 870.1 381 868.9 C383.8 867.7 391.1 865.5 395 865.7 C398.9 865.9 406.2 868.9 410.5 870.1 C414.8 871.3 423.1 874 427.6 874.5 C432.1 875 441 874 444.2 873.5 C447.4 873 447.2 871.3 451.4 871.1 C455.6 870.9 471.3 872.2 475.6 872.3 C479.9 872.4 480.2 871.1 483.4 871.9 C486.6 872.7 496.9 877.5 499.7 878.3 C502.5 879.1 502.7 878.3 504.5 877.7 C506.3 877.1 508.8 874.2 513 873.5 C517.2 872.8 531.6 872.3 535.9 872.3 C540.2 872.3 541.7 874.2 545.6 873.5 C549.5 872.8 560.1 869.3 564.9 867.4 C569.7 865.5 578.6 861.3 581.8 859 C585 856.7 587.6 852.9 589.1 850.5 C590.6 848.1 591.6 843.5 592.7 840.9 C593.8 838.3 595.6 833.5 597.5 831.2 C599.4 828.9 604.8 825.6 607.2 824 C609.6 822.4 613.3 820.1 615.7 819.1 C618.1 818.1 623.2 818.1 625.3 816.7 C627.4 815.3 629.1 809.1 631.4 808.3 C633.7 807.5 639.5 810.9 642.2 810.7 C644.9 810.5 649.3 807.5 651.9 806.5 C654.5 805.5 658.3 804.1 662 803.2 C665.7 802.3 677.6 757.1 680 800 C682.4 842.9 771.3 1081.7 680 1125 C588.7 1168.3 86.3 1163.2 -5 1125 C-96.3 1086.8 -7.5 876.4 -5 838.5Z" fill="#b3ad94"/>
<path d="M216.4 909.7 C217.7 907.6 232.2 904.7 235.5 906.7 C238.8 908.7 238.5 918.9 238.5 922.8 C238.5 926.7 239.3 930.8 235.5 932.9 C231.7 935 216.6 937.5 213.4 936.9 C210.2 936.3 212.7 930.3 214 929 C215.3 927.7 220.1 929.7 222 928.5 C223.9 927.3 227.8 923.8 227 921 C226.2 918.2 215.1 911.8 216.4 909.7Z" fill="#b3ad94" stroke="none" stroke-width="0.8" stroke-linejoin="round"/>
<path d="M251.6 864.4 C254.8 860.8 262.6 859.5 267.7 856.5 C272.8 853.5 280.8 846.6 285.9 844.6 C291 842.6 296.6 843.8 302 843.5 C307.4 843.2 316 842.1 322 842.7 C328 843.3 336.9 846.3 342 847.6 C347.1 848.9 354.3 848.9 356.3 851.5 C358.3 854.1 355.4 860.7 355.5 865 C355.6 869.3 357.2 875.6 357 880 C356.8 884.4 354.3 891.2 354.3 894.6 C354.3 898 357.3 900 357.3 902.7 C357.3 905.4 356 908.5 354.3 912.7 C352.6 916.9 346.8 926.1 346.2 930.9 C345.6 935.7 348.2 940.7 350.3 944.9 C352.4 949.1 358.2 955.1 360.3 959 C362.4 962.9 364.4 966.3 364.4 971.1 C364.4 975.9 361.5 986.4 360.3 991.2 C359.1 996 357.8 1001.2 356.3 1003.3 C354.8 1005.4 353 1005.3 350.3 1005.3 C347.6 1005.3 342.4 1005.1 338.2 1003.3 C334 1001.5 326.6 996.6 322.1 993.3 C317.6 990 311 985.1 308 981.2 C305 977.3 304.4 971 302 967.1 C299.6 963.2 294.9 957.7 291.9 955 C288.9 952.3 285.4 950.5 281.8 949 C278.2 947.5 271.6 947.3 267.7 944.9 C263.8 942.5 258.4 936.5 255.7 932.9 C253 929.3 251.1 925 249.6 920.8 C248.1 916.6 246 910.7 245.6 904.7 C245.2 898.7 245.7 886.5 246.6 880.5 C247.5 874.5 248.4 868 251.6 864.4Z" fill="#c3c4a7" stroke="#e9dd9c" stroke-width="0.7" stroke-linejoin="round"/>
<path d="M300 845.3 C301.3 844.1 304.5 843.2 306 844.3 C307.5 845.3 308.4 850 310 852.3 C311.6 854.6 316.2 857.6 317 859.4 C317.8 861.2 316.6 863.5 315 864.4 C313.4 865.3 308.2 866.1 306 865.4 C303.8 864.6 301.3 861.4 300 859.4 C298.7 857.4 297.5 854.4 297.5 852.3 C297.5 850.2 298.7 846.5 300 845.3Z" fill="#70d4ea" stroke="none" stroke-width="0.8" stroke-linejoin="round"/>
<path d="M353.3 894.6 C355.1 893.5 364.9 890.5 368.4 892.6 C371.9 894.7 374.3 905.7 376.4 908.7 C378.5 911.7 379.9 911.2 382.5 912.7 C385.1 914.2 392.2 916.4 393.6 918.8 C395 921.2 391.5 925.8 391.5 928.8 C391.5 931.8 393.8 936.6 393.6 938.9 C393.5 941.2 393.1 942.5 390.5 943.9 C387.9 945.3 379.6 948 376.4 948 C373.2 948 370 946.5 369.4 943.9 C368.8 941.3 372.2 934.7 372.4 930.9 C372.5 927.1 371.9 922.7 370.4 918.8 C368.9 914.9 364.5 907.5 362.4 904.7 C360.3 901.9 357.7 901.5 356.3 900 C354.9 898.5 351.5 895.7 353.3 894.6Z" fill="#9d9794" stroke="#e9dd9c" stroke-width="0.7" stroke-linejoin="round"/>
<polygon points="212.4,902.7 221.4,908.7 227.5,920.8 226.5,928.8 219.4,928.8 216.4,926.8 213.4,929.8 211.4,937.9 205.3,935.9 207.3,920.8 210.3,908.7" fill="#70d4ea" stroke="none" stroke-width="0.8" />
<path d="M109.9 902.4 C110.9 901.1 120 905.2 125 907.2 C129.9 909.2 138.6 913.5 142.9 915.4 C147.2 917.3 152.2 917.7 153.9 919.6 C155.6 921.5 154.6 925.5 154 928 C153.4 930.5 152.1 935.7 150 936 C147.9 936.3 143.3 931.6 140 930 C136.7 928.4 131.2 927.1 128 925 C124.8 922.9 121.2 919.4 118.5 916 C115.8 912.6 108.9 903.7 109.9 902.4Z" fill="#dcdacd" stroke="#e9dd9c" stroke-width="0.7" stroke-linejoin="round"/>
<path d="M142.9 916.1 C144.1 914.8 151.2 918.4 153.9 919.6 C156.6 920.8 158.9 921.8 160.8 924.4 C162.7 927 163.6 932.9 166.3 936.8 C169 940.7 174.7 947 178.6 950.5 C182.5 954 188.1 957 192.4 960.1 C196.7 963.2 204.4 967.2 207.5 971.1 C210.6 975 211.5 982 213 986.3 C214.5 990.6 218.2 998.4 217.8 1000 C217.4 1001.6 212.9 998.9 210.3 997.3 C207.7 995.6 203.1 991.9 200.6 989 C198.1 986.1 195.5 981.3 193.8 978 C192.2 974.7 191.7 969.6 189.6 967 C187.5 964.4 183.1 962.7 180 960.5 C176.9 958.3 172.7 955 169 952.3 C165.3 949.6 158.8 946.2 155.3 942.6 C151.8 939 147.5 932.5 145.6 928.5 C143.7 924.5 141.7 917.4 142.9 916.1Z" fill="#c3c4a7" stroke="#e9dd9c" stroke-width="0.7" stroke-linejoin="round"/>
<path d="M18 950.5 C19 945.1 22 945.7 24.6 943.6 C27.2 941.5 30.8 938.4 35.6 936.8 C40.4 935.1 50.1 933.4 56.3 932.6 C62.5 931.8 71.5 930.9 76.9 931.3 C82.3 931.7 88.1 934 92 935.4 C95.9 936.8 98.9 938 103 940.9 C107.1 943.8 115.6 951.5 119.5 954.6 C123.4 957.7 124.1 956.7 129.1 961.5 C134 966.3 148.8 981.8 152.5 986.3 C156.2 990.8 151.8 990 153.9 991.8 C156 993.6 161.6 995.7 166.3 998.6 C171 1001.5 180.8 1007.5 185.5 1011 C190.2 1014.5 194.6 1018.7 197.9 1022 C201.2 1025.3 203.8 1030.1 207.5 1033 C211.2 1035.9 221.4 1039 222.6 1041.3 C223.8 1043.6 217 1046 215.8 1048.1 C214.6 1050.2 214.2 1053.4 214.4 1055 C214.6 1056.6 220.3 1058.2 217.2 1058.5 C214.1 1058.8 201.4 1057.1 193.8 1057.1 C186.2 1057.1 172.3 1057.6 166.3 1058.5 C160.3 1059.4 159.1 1063.8 153.9 1063.3 C148.7 1062.8 138.3 1056.9 131.9 1055 C125.5 1053.1 117.1 1051.4 111.3 1050.9 C105.5 1050.4 98.2 1051.8 93.4 1051.6 C88.6 1051.4 82.3 1051 79.6 1049.5 C76.9 1048 76.9 1043.8 75.5 1041.3 C74.1 1038.8 72.3 1034.5 70 1033 C67.7 1031.5 64.2 1033.8 60.4 1031.6 C56.6 1029.3 49.7 1025.4 45 1018 C40.3 1010.6 32.9 988 28.8 982.2 C24.8 976.4 19.6 984.2 18 979.4 C16.4 974.6 17 955.9 18 950.5Z" fill="#dcdacd" stroke="#e9dd9c" stroke-width="0.7" stroke-linejoin="round"/>
<path d="M79.6 1049.5 C80.1 1047 88.6 1051.4 93.4 1051.6 C98.2 1051.8 105.5 1050.4 111.3 1050.9 C117.1 1051.4 125.5 1053.1 131.9 1055 C138.3 1056.9 148.7 1062.8 153.9 1063.3 C159.1 1063.8 160.3 1059.4 166.3 1058.5 C172.3 1057.6 186.2 1057.1 193.8 1057.1 C201.4 1057.1 211.8 1058 217.2 1058.5 C222.6 1059 226 1059.2 229.5 1060.5 C233 1061.8 237.8 1064.5 240.5 1067.4 C243.2 1070.3 245.8 1075.9 247.4 1079.8 C249.1 1083.7 250.4 1090 251.5 1093.5 C252.6 1097 270.2 1101.9 255 1103.4 C239.8 1104.9 168.1 1104.5 150 1103.4 C131.9 1102.3 140.4 1100 134.6 1096.3 C128.8 1092.6 118 1083.2 111.3 1079 C104.6 1074.8 94.8 1072.4 90 1068 C85.2 1063.6 79.1 1052 79.6 1049.5Z" fill="#c3c4a7" stroke="#e9dd9c" stroke-width="0.7" stroke-linejoin="round"/>
<path d="M18 979.4 C19.6 971.2 24.8 976.4 28.8 982.2 C32.9 988 40.3 1010.6 45 1018 C49.7 1025.4 56.6 1029.3 60.4 1031.6 C64.2 1033.8 67.7 1031.5 70 1033 C72.3 1034.5 74.1 1038.8 75.5 1041.3 C76.9 1043.8 77.4 1045.5 79.6 1049.5 C81.8 1053.5 90.2 1066.1 90 1068 C89.8 1069.9 82.5 1064.7 78 1062 C73.5 1059.3 65.7 1053.3 60 1050 C54.3 1046.7 46.3 1042 40 1040 C33.7 1038 21.3 1046.1 18 1037 C14.7 1027.9 16.4 987.6 18 979.4Z" fill="#c3c4a7" stroke="#e9dd9c" stroke-width="0.7" stroke-linejoin="round"/>
<path d="M0 1037 C2.7 1024.8 13.7 1038.1 18 1038.5 C22.3 1038.9 22.5 1038.8 28.8 1039.9 C35.1 1041 52.4 1044.3 60 1046 C67.6 1047.7 76.3 1048.9 79.6 1051 C82.9 1053.1 77.2 1056.7 82 1060 C86.8 1063.3 103.4 1068.7 111.3 1072.9 C119.2 1077.1 128.4 1084.5 134.6 1088 C140.8 1091.5 147.7 1093.8 152.5 1096.3 C157.3 1098.8 163.7 1100.9 166.3 1104.5 C168.9 1108.1 194.9 1117.7 170 1120 C145.1 1122.3 25.5 1132.5 0 1120 C-25.5 1107.5 -2.7 1049.2 0 1037Z" fill="#dcdacd" stroke="#e9dd9c" stroke-width="0.7" stroke-linejoin="round"/>
<path d="M18 1008 C19.6 1008 25.4 1006.4 29 1008 C32.6 1009.6 36.9 1015.2 42 1019 C47.1 1022.8 57.8 1029.8 63 1033 C68.2 1036.2 72.2 1036.7 77 1040 C81.8 1043.3 89.9 1051.5 95 1055 C100.1 1058.5 105.5 1060.5 111 1063 C116.5 1065.5 125.8 1069.6 132 1071.5 C138.2 1073.4 145.8 1073.9 152 1075.6 C158.2 1077.2 166.7 1080.6 173 1082.5 C179.3 1084.4 187.8 1086 194 1088 C200.2 1090 209.1 1093.5 214 1096 C218.9 1098.5 225.1 1103.2 227 1104.5" fill="none" stroke="#70d4ea" stroke-width="5.5" stroke-linecap="butt"/>
<path d="M18 995.6 C19.2 992.7 24.4 996.3 26 999 C27.6 1001.7 29.1 1011.1 28.8 1013.8 C28.5 1016.5 25.6 1016.3 24 1017 C22.4 1017.7 18.9 1021.8 18 1018.6 C17.1 1015.4 16.8 998.5 18 995.6Z" fill="#70d4ea" stroke="none" stroke-width="0.8" stroke-linejoin="round"/>
<path d="M274 1047.6 C274.9 1045.2 279.1 1049.5 281.8 1051.6 C284.5 1053.7 289.8 1057.2 291.9 1061.7 C294 1066.2 294.5 1077.3 296 1081.8 C297.5 1086.3 299.3 1088.7 302 1091.9 C304.7 1095.1 317.9 1101.7 314 1103.4 C310.1 1105.1 282.3 1106.6 275.8 1103.4 C269.3 1100.2 270.8 1087.2 270.8 1081.8 C270.8 1076.4 275.3 1072.8 275.8 1067.7 C276.3 1062.6 273.1 1050 274 1047.6Z" fill="#c3c4a7" stroke="#e9dd9c" stroke-width="0.7" stroke-linejoin="round"/>
<path d="M672 832 C669.3 790.9 661.5 840.5 654 846.3 C646.5 852.1 633 864.8 622.2 870.5 C611.4 876.2 594.1 881.3 582 884.6 C569.9 887.9 552.9 889.7 541.7 892.6 C530.5 895.5 516.6 900.7 507.5 903.7 C498.4 906.7 488.2 910.1 481.3 912.7 C474.4 915.3 467.2 918.1 461.2 920.8 C455.2 923.5 445.2 927.3 441 930.9 C436.8 934.5 434.5 937.4 433 944.9 C431.5 952.4 432.2 972.7 431 981.2 C429.8 989.7 428.3 993.8 425 1001.3 C421.7 1008.8 410.6 1024 408.8 1031.5 C407 1039 411.2 1045.1 412.9 1051.6 C414.6 1058.1 417.9 1067.2 420 1075 C422.1 1082.8 425.9 1096.7 427 1103.4 C428.1 1110.2 390.2 1117.5 427 1120 C463.8 1122.5 635.2 1163.2 672 1120 C708.8 1076.8 674.7 873.1 672 832Z" fill="#e6dfb6" stroke="#e9dd9c" stroke-width="0.7" stroke-linejoin="round"/>
<path d="M430 987.2 C429.4 987.2 428.2 994.7 425 1001.3 C421.8 1007.9 410.6 1024 408.8 1031.5 C407 1039 410.2 1040.8 412.9 1051.6 C415.6 1062.4 424 1095.6 427 1103.4 C430 1111.2 431.8 1109.7 433 1103.4 C434.2 1097.1 435 1071 435 1061.7 C435 1052.4 433.6 1047.5 433 1041.5 C432.4 1035.5 431.6 1027.4 431 1021.4 C430.4 1015.4 429.1 1006.4 429 1001.3 C428.9 996.2 430.6 987.2 430 987.2Z" fill="#dcdacd" stroke="#e9dd9c" stroke-width="0.7" stroke-linejoin="round"/>
<path d="M672 975 C669.3 955.4 658.4 983.7 654 989.2 C649.6 994.7 647.2 1005.7 642.4 1011.4 C637.6 1017.1 628.2 1023 622.2 1027.5 C616.2 1032 608.1 1036.7 602.1 1041.5 C596.1 1046.3 588 1055.5 582 1059.7 C576 1063.9 566.9 1065.8 561.8 1069.7 C556.7 1073.6 551.6 1080.7 547.7 1085.8 C543.8 1090.9 538.4 1098.3 535.7 1103.4 C533 1108.5 509.6 1117.5 530 1120 C550.4 1122.5 650.7 1141.8 672 1120 C693.3 1098.2 674.7 994.6 672 975Z" fill="#dcdacd" stroke="#e9dd9c" stroke-width="0.7" stroke-linejoin="round"/>
<path d="M672 832 C669.3 822.1 661.5 840.5 654 846.3 C646.5 852.1 633 864.8 622.2 870.5 C611.4 876.2 594.1 881.3 582 884.6 C569.9 887.9 552.9 889.7 541.7 892.6 C530.5 895.5 514.1 899.2 507.5 903.7 C500.9 908.2 495.3 920.2 497.4 922.8 C499.5 925.4 511.9 920.8 521.6 920.8 C531.3 920.8 548.5 922 561.8 922.8 C575.1 923.5 604.2 923.7 610.2 925.8 C616.2 927.9 605.7 932.2 602.1 936.9 C598.5 941.6 592 951.3 586 957 C580 962.7 567.8 970 561.8 975.1 C555.8 980.2 550.2 986.4 545.7 991.2 C541.2 996 534 1001.4 531.6 1007.4 C529.2 1013.4 532 1023.8 529.6 1031.5 C527.2 1039.2 514 1055.1 515.5 1058.7 C517 1062.3 533.4 1058.9 539.7 1055.7 C546 1052.5 553.3 1042.6 557.8 1037.5 C562.3 1032.4 564.8 1025.6 569.9 1021.4 C575 1017.2 585.7 1013.6 592 1009.4 C598.3 1005.2 605.9 998.1 612.2 993.3 C618.5 988.5 630.1 983.2 634.3 977.2 C638.5 971.2 637.9 959.9 640.3 953 C642.7 946.1 648 936.1 650.4 930.9 C652.8 925.6 652.8 920.8 656 918 C659.2 915.2 669.6 924.9 672 912 C674.4 899.1 674.7 841.9 672 832Z" fill="#c3c4a7" stroke="#e9dd9c" stroke-width="0.7" stroke-linejoin="round"/>
<path d="M477.3 951 C475.6 949.5 470.2 955.9 467.2 961 C464.2 966.1 456.8 982.5 457.1 985.2 C457.4 987.9 466 981.3 469.2 979.2 C472.4 977.1 477.1 975.3 478.3 971.1 C479.5 966.9 479 952.5 477.3 951Z" fill="#dcdacd" stroke="#e9dd9c" stroke-width="0.7" stroke-linejoin="round"/>
<path d="M455.1 1019.4 C456.3 1016.7 465.2 1015.6 467.2 1017.4 C469.2 1019.2 469.4 1028.8 468.2 1031.5 C467 1034.2 461.2 1037.3 459.2 1035.5 C457.2 1033.7 453.9 1022.1 455.1 1019.4Z" fill="#dcdacd" stroke="#e9dd9c" stroke-width="0.7" stroke-linejoin="round"/>
<path d="M455.1 1053.7 C456.3 1053.4 460.9 1059.3 461.2 1061.7 C461.5 1064.1 458.3 1069.4 457.1 1069.7 C455.9 1070 453.4 1066.1 453.1 1063.7 C452.8 1061.3 453.9 1054 455.1 1053.7Z" fill="#dcdacd" stroke="#e9dd9c" stroke-width="0.7" stroke-linejoin="round"/>
<path d="M509.5 1065.7 C508.9 1065.1 503.5 1071.7 501.4 1073.8 C499.3 1075.9 494.8 1079.2 495.4 1079.8 C496 1080.4 503.4 1079.9 505.5 1077.8 C507.6 1075.7 510.1 1066.3 509.5 1065.7Z" fill="#dcdacd" stroke="#e9dd9c" stroke-width="0.7" stroke-linejoin="round"/>
<path d="M553.8 1067.7 C552.1 1068.6 545.8 1075.4 543.7 1077.8 C541.6 1080.2 538.8 1083.2 539.7 1083.8 C540.6 1084.4 547.5 1083.6 549.8 1081.8 C552.1 1080 554.2 1073.9 554.8 1071.8 C555.4 1069.7 555.5 1066.8 553.8 1067.7Z" fill="#dcdacd" stroke="#e9dd9c" stroke-width="0.7" stroke-linejoin="round"/>
<path d="M510.5 970.1 C509 971.9 502.9 980.6 501.4 983.2 C499.9 985.8 499.5 987.4 500.4 987.2 C501.3 987.1 505.8 984.6 507.5 982.2 C509.2 979.8 511.1 972.9 511.5 971.1 C511.9 969.3 512 968.3 510.5 970.1Z" fill="#c6bcab" stroke="#e9dd9c" stroke-width="0.7" stroke-linejoin="round"/>
<path d="M507.5 1011.4 C506 1011.4 499.9 1017.9 498.4 1021.4 C496.9 1024.9 496.3 1033 497.4 1034.5 C498.5 1036 503.8 1033.5 505.5 1031.5 C507.2 1029.5 508.2 1024.4 508.5 1021.4 C508.8 1018.4 509 1011.4 507.5 1011.4Z" fill="#c6bcab" stroke="#e9dd9c" stroke-width="0.7" stroke-linejoin="round"/>
<path d="M590 1010.4 C587.6 1010.1 574.4 1017 569.9 1021.4 C565.4 1025.8 558.6 1037.8 559.8 1039.6 C561 1041.4 574 1035.9 577.9 1033.5 C581.8 1031.1 584.2 1026.9 586 1023.4 C587.8 1019.9 592.4 1010.7 590 1010.4Z" fill="#c6bcab" stroke="#e9dd9c" stroke-width="0.7" stroke-linejoin="round"/>
<path d="M656 895.5 C654.9 896.1 650.8 897.9 648.4 899.5 C646 901.1 642.1 904.1 640.3 906.5 C638.5 908.9 636.9 912.8 636.3 915.5 C635.7 918.2 637.2 922.5 636.3 924.8 C635.4 927.1 632.7 929.4 630.3 930.9 C627.9 932.4 622.7 931.8 620 934.5 C617.3 937.2 613.4 946.8 612.2 949" fill="none" stroke="#70d4ea" stroke-width="6"/>
<path d="M620 934.5 C618.8 936.7 614.9 945.3 612.2 949 C609.5 952.7 605.4 956 602.1 959 C598.8 962 593 966.4 590 969.1 C587 971.8 585 975.1 582 977.2 C579 979.3 572.3 981.1 569.9 983.2 C567.5 985.3 567 988.2 565.8 991.2 C564.6 994.2 564.2 1000.3 561.8 1003.3 C559.4 1006.3 551.8 1008.7 549.8 1011.4 C547.8 1014.1 549.6 1018.4 548.7 1021.4 C547.8 1024.4 544.5 1030 543.7 1031.5" fill="none" stroke="#70d4ea" stroke-width="2.6"/>
<path d="M612.2 933.9 C612.5 933.3 619.5 935.4 622.2 934.9 C624.9 934.4 630.6 930.3 630.3 930.9 C630 931.5 622.9 938.4 620.2 938.9 C617.5 939.4 611.9 934.5 612.2 933.9Z" fill="#70d4ea" stroke="none" stroke-width="0.8" stroke-linejoin="round"/>
<path d="M14 839 C17.5 838.9 32.5 838.2 40.3 838.4 C48.1 838.6 66.1 839.3 72.5 840.6 C78.9 841.9 84.8 848.3 88.6 848.4 C92.4 848.5 97.5 842.5 100.7 841.2 C103.9 839.9 109.8 838.5 112.7 838.4 C115.6 838.3 120.7 838.2 122.8 840.2 C124.9 842.2 127.5 849.4 128.8 853.3 C130.1 857.2 131.3 865.7 132.9 869.4 C134.5 873.1 139 878.2 140.9 881.4 C142.8 884.6 144.6 890.4 147 893.5 C149.4 896.6 155.5 903.4 159 904.6 C162.5 905.8 167.5 903.5 173.1 902.6 C178.7 901.7 196.2 898.2 201.3 897.5 C206.4 896.8 208.2 896.8 211.4 897.5 C214.6 898.2 221.1 901.7 225.5 902.6 C229.9 903.5 241.8 906.9 244.6 904.6 C247.4 902.3 247.1 889.5 246.8 885.5 C246.5 881.5 242 877.5 242.6 874.4 C243.2 871.3 248.3 864.8 251.6 862.3 C254.9 859.8 263.1 857.8 267.7 855.3 C272.3 852.8 281.3 845 285.9 843.2 C290.5 841.4 297.2 842.3 302 842 C306.8 841.7 316.7 840.6 322.1 841.2 C327.5 841.8 337.6 845 342.2 846.2 C346.8 847.4 354.7 848.1 356.5 850.4 C358.3 852.7 355.4 859.9 355.5 863.3 C355.6 866.7 355.3 873.2 357 876 C358.7 878.8 365.7 884.4 368 884 C370.3 883.6 372.3 875.2 374 873 C375.7 870.8 378.2 868.4 381 867.2 C383.8 866 391.1 863.8 395 864 C398.9 864.2 406.2 867.2 410.5 868.4 C414.8 869.6 423.1 872.3 427.6 872.8 C432.1 873.3 441 872.3 444.2 871.8 C447.4 871.3 447.2 869.6 451.4 869.4 C455.6 869.2 471.3 870.5 475.6 870.6 C479.9 870.7 480.2 869.4 483.4 870.2 C486.6 871 496.9 875.8 499.7 876.6 C502.5 877.4 502.7 876.6 504.5 876 C506.3 875.4 508.8 872.5 513 871.8 C517.2 871.1 531.6 870.6 535.9 870.6 C540.2 870.6 541.7 872.5 545.6 871.8 C549.5 871.1 560.1 867.6 564.9 865.7 C569.7 863.8 578.6 859.6 581.8 857.3 C585 855 587.6 851.2 589.1 848.8 C590.6 846.4 591.6 841.8 592.7 839.2 C593.8 836.6 595.6 831.8 597.5 829.5 C599.4 827.2 604.8 823.9 607.2 822.3 C609.6 820.7 613.3 818.4 615.7 817.4 C618.1 816.4 623.2 816.4 625.3 815 C627.4 813.6 629.1 807.4 631.4 806.6 C633.7 805.8 639.5 809.2 642.2 809 C644.9 808.8 649.3 805.8 651.9 804.8 C654.5 803.8 660.7 801.9 662 801.5" fill="none" stroke="#8d1a56" stroke-width="4" stroke-dasharray="22 8.5"/>
<path d="M365.4 749.8 C367.3 749.6 381.8 749.8 383 750.7 C384.2 751.6 386.9 764.9 387.8 766.5 C388.7 768.1 397.9 779.5 399.4 781.4 C400.9 783.3 414.8 799.3 416 801.4 C417.2 803.5 420.6 819.4 421 821.3 C421.4 823.2 424.2 836 424.3 837.9 C424.4 839.8 422.9 854.8 423 856.2 C423.1 857.6 425.5 863.3 426 864.5 C426.5 865.7 431.1 877.6 431.5 878.5 C431.9 879.4 432.5 881.1 434 881.8 C435.5 882.5 456.7 888.9 459.2 891.6 C461.7 894.3 479.1 927.3 480.3 931.9 C481.5 936.5 481.8 973.4 481.3 977.2 C480.8 981 472.7 1001.2 471.2 1003.3 C469.7 1005.4 455.5 1015.7 453.1 1017.4 C450.7 1019.1 429.1 1033.7 427 1035.5 C424.9 1037.3 415.4 1049.4 413.9 1050.6 C412.4 1051.8 401.6 1057.4 399.8 1057.3 C398 1057.2 383.2 1050.1 380.7 1048.6 C378.2 1047.1 355.7 1033.1 352.5 1029.5 C349.3 1025.9 322.7 986 320.3 981.2 C317.9 976.4 308 942.1 306.6 938.9 C305.2 935.7 295.2 923.2 293.9 921.5 C292.6 919.8 283.4 909.4 281.8 907.6 C280.2 905.8 265.1 890.1 264.1 887.5 C263.1 884.9 263.3 862.8 263.7 859.3 C264.1 855.8 268.1 824.3 270.8 821 C273.5 817.7 310.8 798.8 314 796.9 C317.2 795 330 787.3 331.2 785.8 C332.4 784.3 334.8 770.3 335.6 768.7 C336.4 767.1 345.1 756.3 346.7 755.3 C348.3 754.3 363.5 750 365.4 749.8Z" fill="none" stroke="#0a0a0a" stroke-width="5.6" stroke-linejoin="round"/>
<rect x="28.8" y="917.2" width="124.8" height="175.1" fill="#e8e6dc" stroke="none" stroke-width="0" fill-opacity="0.47"/>
<rect x="28.8" y="917.2" width="124.8" height="175.1" fill="none" stroke="#0a0a0a" stroke-width="1.75" />
<circle cx="55.8" cy="942.9" r="20.6" fill="#ff7300" stroke="#0a0a0a" stroke-width="1.6" />
<circle cx="56.4" cy="986.2" r="16.5" fill="#ffde85" stroke="#0a0a0a" stroke-width="1.6" />
<circle cx="56.8" cy="1023.5" r="11.8" fill="#bff2ec" stroke="#0a0a0a" stroke-width="1.6" />
<circle cx="57" cy="1051.6" r="5.7" fill="#10b3a3" stroke="#0a0a0a" stroke-width="1.6" />
<circle cx="57.2" cy="1075.4" r="3.2" fill="#0b4a8b" stroke="#0a0a0a" stroke-width="1.2" />
<line x1="94.2" y1="1054" x2="94.2" y2="968" stroke="#0a0a0a" stroke-width="1.5" />
<polygon points="94.2,959.6 89.2,971 99.2,971" fill="#0a0a0a" stroke="none" stroke-width="1" />
<text x="122.2" y="1006.3" font-size="20" font-family='"Liberation Sans", "DejaVu Sans", sans-serif' fill="#1a1a1a" text-anchor="middle" transform="rotate(-90 122.2 1006.3)" textLength="139.7" lengthAdjust="spacingAndGlyphs">Increasing shift in</text>
<text x="143.9" y="1005.8" font-size="20" font-family='"Liberation Sans", "DejaVu Sans", sans-serif' fill="#1a1a1a" text-anchor="middle" transform="rotate(-90 143.9 1005.8)" textLength="152" lengthAdjust="spacingAndGlyphs">relative abundance</text>
<circle cx="64" cy="747.6" r="4.5" fill="#10b3a3" stroke="#111" stroke-width="0.8" />
<circle cx="92.6" cy="737.1" r="4.5" fill="#10b3a3" stroke="#111" stroke-width="0.8" />
<circle cx="127.4" cy="739.5" r="4.5" fill="#10b3a3" stroke="#111" stroke-width="0.8" />
<circle cx="166.5" cy="737.1" r="4.5" fill="#10b3a3" stroke="#111" stroke-width="0.8" />
<circle cx="204.3" cy="739.1" r="3" fill="#0b4a8b" stroke="#111" stroke-width="0.8" />
<circle cx="240" cy="744.6" r="3" fill="#0b4a8b" stroke="#111" stroke-width="0.8" />
<circle cx="281" cy="742.5" r="3" fill="#0b4a8b" stroke="#111" stroke-width="0.8" />
<circle cx="312.6" cy="751.8" r="3" fill="#0b4a8b" stroke="#111" stroke-width="0.8" />
<circle cx="355.3" cy="747" r="3" fill="#0b4a8b" stroke="#111" stroke-width="0.8" />
<circle cx="385" cy="746.6" r="13.4" fill="#ffde85" stroke="#111" stroke-width="0.8" />
<circle cx="429" cy="747" r="9.4" fill="#bff2ec" stroke="#111" stroke-width="0.8" />
<circle cx="464.6" cy="747" r="3" fill="#0b4a8b" stroke="#111" stroke-width="0.8" />
<circle cx="507.1" cy="751" r="3" fill="#0b4a8b" stroke="#111" stroke-width="0.8" />
<circle cx="542.1" cy="751.8" r="3" fill="#0b4a8b" stroke="#111" stroke-width="0.8" />
<circle cx="579.5" cy="751" r="3" fill="#0b4a8b" stroke="#111" stroke-width="0.8" />
<circle cx="623.8" cy="749.2" r="3" fill="#0b4a8b" stroke="#111" stroke-width="0.8" />
<circle cx="47.9" cy="785.8" r="3" fill="#0b4a8b" stroke="#111" stroke-width="0.8" />
<circle cx="90.2" cy="782.6" r="3" fill="#0b4a8b" stroke="#111" stroke-width="0.8" />
<circle cx="127" cy="785.8" r="3" fill="#0b4a8b" stroke="#111" stroke-width="0.8" />
<circle cx="169.3" cy="787" r="3" fill="#0b4a8b" stroke="#111" stroke-width="0.8" />
<circle cx="218.4" cy="781.6" r="3" fill="#0b4a8b" stroke="#111" stroke-width="0.8" />
<circle cx="244" cy="786.8" r="3" fill="#0b4a8b" stroke="#111" stroke-width="0.8" />
<circle cx="281.4" cy="792.9" r="3" fill="#0b4a8b" stroke="#111" stroke-width="0.8" />
<circle cx="320.5" cy="789.4" r="9.4" fill="#bff2ec" stroke="#111" stroke-width="0.8" />
<circle cx="356.4" cy="785.2" r="15.6" fill="#ff7300" stroke="#111" stroke-width="0.8" />
<circle cx="394.7" cy="788.2" r="15.6" fill="#ff7300" stroke="#111" stroke-width="0.8" />
<circle cx="433.6" cy="786.8" r="3" fill="#0b4a8b" stroke="#111" stroke-width="0.8" />
<circle cx="469.2" cy="793.7" r="4.5" fill="#10b3a3" stroke="#111" stroke-width="0.8" />
<circle cx="546.3" cy="790.2" r="4.5" fill="#10b3a3" stroke="#111" stroke-width="0.8" />
<circle cx="581.4" cy="801.3" r="4.5" fill="#10b3a3" stroke="#111" stroke-width="0.8" />
<circle cx="624.6" cy="798.1" r="3" fill="#0b4a8b" stroke="#111" stroke-width="0.8" />
<circle cx="52.5" cy="831.9" r="3" fill="#0b4a8b" stroke="#111" stroke-width="0.8" />
<circle cx="89.6" cy="834.1" r="4.5" fill="#10b3a3" stroke="#111" stroke-width="0.8" />
<circle cx="124" cy="831.5" r="4.5" fill="#10b3a3" stroke="#111" stroke-width="0.8" />
<circle cx="165.5" cy="833.1" r="13.4" fill="#ffde85" stroke="#111" stroke-width="0.8" />
<circle cx="201.5" cy="835.3" r="4.5" fill="#10b3a3" stroke="#111" stroke-width="0.8" />
<circle cx="232.5" cy="833.1" r="4.5" fill="#10b3a3" stroke="#111" stroke-width="0.8" />
<circle cx="269.8" cy="835.5" r="3" fill="#0b4a8b" stroke="#111" stroke-width="0.8" />
<circle cx="322.7" cy="830.7" r="13.4" fill="#ffde85" stroke="#111" stroke-width="0.8" />
<circle cx="353.8" cy="835.1" r="13.4" fill="#ffde85" stroke="#111" stroke-width="0.8" />
<circle cx="389.4" cy="837.8" r="3" fill="#0b4a8b" stroke="#111" stroke-width="0.8" />
<circle cx="427.6" cy="843.6" r="4.5" fill="#10b3a3" stroke="#111" stroke-width="0.8" />
<circle cx="470.8" cy="843.6" r="4.5" fill="#10b3a3" stroke="#111" stroke-width="0.8" />
<circle cx="504.7" cy="827.1" r="3" fill="#0b4a8b" stroke="#111" stroke-width="0.8" />
<circle cx="90.8" cy="875.6" r="3" fill="#0b4a8b" stroke="#111" stroke-width="0.8" />
<circle cx="289.1" cy="875.6" r="3" fill="#0b4a8b" stroke="#111" stroke-width="0.8" />
<circle cx="356.4" cy="877.4" r="15.6" fill="#ff7300" stroke="#111" stroke-width="0.8" />
<circle cx="394.7" cy="879.2" r="15.6" fill="#ff7300" stroke="#111" stroke-width="0.8" />
<circle cx="430.4" cy="881.8" r="3" fill="#0b4a8b" stroke="#111" stroke-width="0.8" />
<polygon points="612.2,700.9 603.1,753.6 618.2,740.5 635.9,748.6" fill="#0a0a0a" stroke="none" stroke-width="1" />
<text x="611.6" y="692.3" font-size="20" font-family='"Liberation Serif", "DejaVu Serif", serif' fill="#111" text-anchor="middle" transform="rotate(-15 611.6 692.3)">N</text>
<path d="M640.3 906.6 L553.9 903.8 L553.4 893.8 L505.9 904.1 L554 917.1 L554 907.3 L640.3 910.2 Z" fill="#0a0a0a" stroke="#fff" stroke-width="1.3" stroke-linejoin="miter"/>
<text x="548.7" y="890" font-size="22" font-family='"Liberation Sans", "DejaVu Sans", sans-serif' fill="#1a1a1a" transform="rotate(2.5 548.7 890)" textLength="88" lengthAdjust="spacingAndGlyphs">290-295°</text>
<text x="509.5" y="944.5" font-size="22" font-family='"Liberation Sans", "DejaVu Sans", sans-serif' fill="#1a1a1a" transform="rotate(2.7 509.5 944.5)" textLength="122" lengthAdjust="spacingAndGlyphs">Ice direction</text>
<rect x="401.8" y="1081.8" width="208.4" height="9.7" fill="none" stroke="#0a0a0a" stroke-width="1" />
<rect x="401.8" y="1081.8" width="27.2" height="9.7" fill="#0a0a0a" stroke="none" stroke-width="1" />
<rect x="453.1" y="1081.8" width="27.6" height="9.7" fill="#0a0a0a" stroke="none" stroke-width="1" />
<rect x="505.1" y="1081.8" width="105.1" height="9.7" fill="#0a0a0a" stroke="none" stroke-width="1" />
<text x="406.3" y="1077.8" font-size="17.5" font-family='"Liberation Sans", "DejaVu Sans", sans-serif' fill="#1a1a1a" text-anchor="middle" textLength="27" lengthAdjust="spacingAndGlyphs">140</text>
<text x="456.2" y="1077.8" font-size="17.5" font-family='"Liberation Sans", "DejaVu Sans", sans-serif' fill="#1a1a1a" text-anchor="middle" textLength="18" lengthAdjust="spacingAndGlyphs">70</text>
<text x="505" y="1077.8" font-size="17.5" font-family='"Liberation Sans", "DejaVu Sans", sans-serif' fill="#1a1a1a" text-anchor="middle">0</text>
<text x="611" y="1077.8" font-size="17.5" font-family='"Liberation Sans", "DejaVu Sans", sans-serif' fill="#1a1a1a" text-anchor="middle" textLength="44" lengthAdjust="spacingAndGlyphs">140 m</text>
</g>
<rect x="18.1" y="674.6" width="635.3" height="428.8" fill="none" stroke="#0a0a0a" stroke-width="1.7" />
<line x1="230.5" y1="674.4" x2="230.5" y2="679.5" stroke="#0a0a0a" stroke-width="1.3" />
<line x1="461.2" y1="674.4" x2="461.2" y2="679.5" stroke="#0a0a0a" stroke-width="1.3" />
<line x1="63.6" y1="1103.4" x2="63.6" y2="1098" stroke="#0a0a0a" stroke-width="1.3" />
<line x1="295.1" y1="1103.4" x2="295.1" y2="1098" stroke="#0a0a0a" stroke-width="1.3" />
<line x1="526.6" y1="1103.4" x2="526.6" y2="1098" stroke="#0a0a0a" stroke-width="1.3" />
<line x1="18" y1="845.9" x2="23.5" y2="845.9" stroke="#0a0a0a" stroke-width="1.3" />
<line x1="18" y1="1075.8" x2="23.5" y2="1075.8" stroke="#0a0a0a" stroke-width="1.3" />
<line x1="654" y1="750.2" x2="648.5" y2="750.2" stroke="#0a0a0a" stroke-width="1.3" />
<line x1="654" y1="981.2" x2="648.5" y2="981.2" stroke="#0a0a0a" stroke-width="1.3" />
<text x="227" y="669.8" font-size="13.8" font-family='"Liberation Sans", "DejaVu Sans", sans-serif' fill="#a9a99c" text-anchor="middle" font-weight="bold" textLength="49.5" lengthAdjust="spacingAndGlyphs">557100</text>
<text x="457.7" y="669.8" font-size="13.8" font-family='"Liberation Sans", "DejaVu Sans", sans-serif' fill="#a9a99c" text-anchor="middle" font-weight="bold" textLength="49.5" lengthAdjust="spacingAndGlyphs">557400</text>
<text x="65.1" y="1118.7" font-size="13.8" font-family='"Liberation Sans", "DejaVu Sans", sans-serif' fill="#a9a99c" text-anchor="middle" font-weight="bold" textLength="49.5" lengthAdjust="spacingAndGlyphs">556800</text>
<text x="296.6" y="1118.7" font-size="13.8" font-family='"Liberation Sans", "DejaVu Sans", sans-serif' fill="#a9a99c" text-anchor="middle" font-weight="bold" textLength="49.5" lengthAdjust="spacingAndGlyphs">557100</text>
<text x="528.1" y="1118.7" font-size="13.8" font-family='"Liberation Sans", "DejaVu Sans", sans-serif' fill="#a9a99c" text-anchor="middle" font-weight="bold" textLength="49.5" lengthAdjust="spacingAndGlyphs">557400</text>
<text x="12.5" y="840.5" font-size="13.8" font-family='"Liberation Sans", "DejaVu Sans", sans-serif' fill="#a9a99c" text-anchor="middle" font-weight="bold" transform="rotate(-90 12.5 840.5)" textLength="57.5" lengthAdjust="spacingAndGlyphs">7134800</text>
<text x="12.5" y="1075.5" font-size="13.8" font-family='"Liberation Sans", "DejaVu Sans", sans-serif' fill="#a9a99c" text-anchor="middle" font-weight="bold" transform="rotate(-90 12.5 1075.5)" textLength="57.5" lengthAdjust="spacingAndGlyphs">7134500</text>
<text x="669.5" y="751.5" font-size="13.8" font-family='"Liberation Sans", "DejaVu Sans", sans-serif' fill="#a9a99c" text-anchor="middle" font-weight="bold" transform="rotate(-90 669.5 751.5)" textLength="57.5" lengthAdjust="spacingAndGlyphs">7134800</text>
<text x="669.5" y="982" font-size="13.8" font-family='"Liberation Sans", "DejaVu Sans", sans-serif' fill="#a9a99c" text-anchor="middle" font-weight="bold" transform="rotate(-90 669.5 982)" textLength="57.5" lengthAdjust="spacingAndGlyphs">7134500</text>
<text x="22.3" y="709.3" font-size="41.5" font-family='"Liberation Sans", "DejaVu Sans", sans-serif' fill="#111" font-weight="bold" textLength="83.5" lengthAdjust="spacingAndGlyphs">SUM</text>
<text x="111.3" y="708.6" font-size="28.5" font-family='"Liberation Sans", "DejaVu Sans", sans-serif' fill="#111" font-weight="bold" textLength="351.5" lengthAdjust="spacingAndGlyphs">[incubation indicator species]</text>
</g>
<g transform="translate(657.7 0)">
<g clip-path="url(#mapclip)">
<rect x="18" y="674.4" width="636" height="429" fill="#dcdacd" stroke="none" stroke-width="1" />
<path d="M-5 838.5 C-2.5 800.6 8 840.5 14 840.7 C20 840.9 32.5 839.9 40.3 840.1 C48.1 840.3 66.1 841 72.5 842.3 C78.9 843.6 84.8 850 88.6 850.1 C92.4 850.2 97.5 844.2 100.7 842.9 C103.9 841.6 109.8 840.2 112.7 840.1 C115.6 840 120.7 839.9 122.8 841.9 C124.9 843.9 127.5 851.1 128.8 855 C130.1 858.9 131.3 867.4 132.9 871.1 C134.5 874.8 139 879.9 140.9 883.1 C142.8 886.3 144.6 892.1 147 895.2 C149.4 898.3 155.8 905 159 906.3 C162.2 907.6 168.7 903.6 171.1 904.7 C173.5 905.8 175.6 911.8 177.2 914.7 C178.8 917.6 181.9 923.8 183.2 926.8 C184.5 929.8 184.8 934.9 187.2 936.9 C189.6 938.9 197.3 941 201.3 941.9 C205.3 942.8 212 943.8 217.4 943.9 C222.8 944 235.2 942.8 241.6 942.9 C248 943 257.9 949.3 265.7 944.9 C273.5 940.5 290.1 917.3 300 910 C309.9 902.7 332.4 894.1 340 890 C347.6 885.9 353.3 879.6 357 879 C360.7 878.4 365.7 886.3 368 885.7 C370.3 885.1 372.3 876.9 374 874.7 C375.7 872.5 378.2 870.1 381 868.9 C383.8 867.7 391.1 865.5 395 865.7 C398.9 865.9 406.2 868.9 410.5 870.1 C414.8 871.3 423.1 874 427.6 874.5 C432.1 875 441 874 444.2 873.5 C447.4 873 447.2 871.3 451.4 871.1 C455.6 870.9 471.3 872.2 475.6 872.3 C479.9 872.4 480.2 871.1 483.4 871.9 C486.6 872.7 496.9 877.5 499.7 878.3 C502.5 879.1 502.7 878.3 504.5 877.7 C506.3 877.1 508.8 874.2 513 873.5 C517.2 872.8 531.6 872.3 535.9 872.3 C540.2 872.3 541.7 874.2 545.6 873.5 C549.5 872.8 560.1 869.3 564.9 867.4 C569.7 865.5 578.6 861.3 581.8 859 C585 856.7 587.6 852.9 589.1 850.5 C590.6 848.1 591.6 843.5 592.7 840.9 C593.8 838.3 595.6 833.5 597.5 831.2 C599.4 828.9 604.8 825.6 607.2 824 C609.6 822.4 613.3 820.1 615.7 819.1 C618.1 818.1 623.2 818.1 625.3 816.7 C627.4 815.3 629.1 809.1 631.4 808.3 C633.7 807.5 639.5 810.9 642.2 810.7 C644.9 810.5 649.3 807.5 651.9 806.5 C654.5 805.5 658.3 804.1 662 803.2 C665.7 802.3 677.6 757.1 680 800 C682.4 842.9 771.3 1081.7 680 1125 C588.7 1168.3 86.3 1163.2 -5 1125 C-96.3 1086.8 -7.5 876.4 -5 838.5Z" fill="#b3ad94"/>
<path d="M216.4 909.7 C217.7 907.6 232.2 904.7 235.5 906.7 C238.8 908.7 238.5 918.9 238.5 922.8 C238.5 926.7 239.3 930.8 235.5 932.9 C231.7 935 216.6 937.5 213.4 936.9 C210.2 936.3 212.7 930.3 214 929 C215.3 927.7 220.1 929.7 222 928.5 C223.9 927.3 227.8 923.8 227 921 C226.2 918.2 215.1 911.8 216.4 909.7Z" fill="#b3ad94" stroke="none" stroke-width="0.8" stroke-linejoin="round"/>
<path d="M251.6 864.4 C254.8 860.8 262.6 859.5 267.7 856.5 C272.8 853.5 280.8 846.6 285.9 844.6 C291 842.6 296.6 843.8 302 843.5 C307.4 843.2 316 842.1 322 842.7 C328 843.3 336.9 846.3 342 847.6 C347.1 848.9 354.3 848.9 356.3 851.5 C358.3 854.1 355.4 860.7 355.5 865 C355.6 869.3 357.2 875.6 357 880 C356.8 884.4 354.3 891.2 354.3 894.6 C354.3 898 357.3 900 357.3 902.7 C357.3 905.4 356 908.5 354.3 912.7 C352.6 916.9 346.8 926.1 346.2 930.9 C345.6 935.7 348.2 940.7 350.3 944.9 C352.4 949.1 358.2 955.1 360.3 959 C362.4 962.9 364.4 966.3 364.4 971.1 C364.4 975.9 361.5 986.4 360.3 991.2 C359.1 996 357.8 1001.2 356.3 1003.3 C354.8 1005.4 353 1005.3 350.3 1005.3 C347.6 1005.3 342.4 1005.1 338.2 1003.3 C334 1001.5 326.6 996.6 322.1 993.3 C317.6 990 311 985.1 308 981.2 C305 977.3 304.4 971 302 967.1 C299.6 963.2 294.9 957.7 291.9 955 C288.9 952.3 285.4 950.5 281.8 949 C278.2 947.5 271.6 947.3 267.7 944.9 C263.8 942.5 258.4 936.5 255.7 932.9 C253 929.3 251.1 925 249.6 920.8 C248.1 916.6 246 910.7 245.6 904.7 C245.2 898.7 245.7 886.5 246.6 880.5 C247.5 874.5 248.4 868 251.6 864.4Z" fill="#c3c4a7" stroke="#e9dd9c" stroke-width="0.7" stroke-linejoin="round"/>
<path d="M300 845.3 C301.3 844.1 304.5 843.2 306 844.3 C307.5 845.3 308.4 850 310 852.3 C311.6 854.6 316.2 857.6 317 859.4 C317.8 861.2 316.6 863.5 315 864.4 C313.4 865.3 308.2 866.1 306 865.4 C303.8 864.6 301.3 861.4 300 859.4 C298.7 857.4 297.5 854.4 297.5 852.3 C297.5 850.2 298.7 846.5 300 845.3Z" fill="#70d4ea" stroke="none" stroke-width="0.8" stroke-linejoin="round"/>
<path d="M353.3 894.6 C355.1 893.5 364.9 890.5 368.4 892.6 C371.9 894.7 374.3 905.7 376.4 908.7 C378.5 911.7 379.9 911.2 382.5 912.7 C385.1 914.2 392.2 916.4 393.6 918.8 C395 921.2 391.5 925.8 391.5 928.8 C391.5 931.8 393.8 936.6 393.6 938.9 C393.5 941.2 393.1 942.5 390.5 943.9 C387.9 945.3 379.6 948 376.4 948 C373.2 948 370 946.5 369.4 943.9 C368.8 941.3 372.2 934.7 372.4 930.9 C372.5 927.1 371.9 922.7 370.4 918.8 C368.9 914.9 364.5 907.5 362.4 904.7 C360.3 901.9 357.7 901.5 356.3 900 C354.9 898.5 351.5 895.7 353.3 894.6Z" fill="#9d9794" stroke="#e9dd9c" stroke-width="0.7" stroke-linejoin="round"/>
<polygon points="212.4,902.7 221.4,908.7 227.5,920.8 226.5,928.8 219.4,928.8 216.4,926.8 213.4,929.8 211.4,937.9 205.3,935.9 207.3,920.8 210.3,908.7" fill="#70d4ea" stroke="none" stroke-width="0.8" />
<path d="M109.9 902.4 C110.9 901.1 120 905.2 125 907.2 C129.9 909.2 138.6 913.5 142.9 915.4 C147.2 917.3 152.2 917.7 153.9 919.6 C155.6 921.5 154.6 925.5 154 928 C153.4 930.5 152.1 935.7 150 936 C147.9 936.3 143.3 931.6 140 930 C136.7 928.4 131.2 927.1 128 925 C124.8 922.9 121.2 919.4 118.5 916 C115.8 912.6 108.9 903.7 109.9 902.4Z" fill="#dcdacd" stroke="#e9dd9c" stroke-width="0.7" stroke-linejoin="round"/>
<path d="M142.9 916.1 C144.1 914.8 151.2 918.4 153.9 919.6 C156.6 920.8 158.9 921.8 160.8 924.4 C162.7 927 163.6 932.9 166.3 936.8 C169 940.7 174.7 947 178.6 950.5 C182.5 954 188.1 957 192.4 960.1 C196.7 963.2 204.4 967.2 207.5 971.1 C210.6 975 211.5 982 213 986.3 C214.5 990.6 218.2 998.4 217.8 1000 C217.4 1001.6 212.9 998.9 210.3 997.3 C207.7 995.6 203.1 991.9 200.6 989 C198.1 986.1 195.5 981.3 193.8 978 C192.2 974.7 191.7 969.6 189.6 967 C187.5 964.4 183.1 962.7 180 960.5 C176.9 958.3 172.7 955 169 952.3 C165.3 949.6 158.8 946.2 155.3 942.6 C151.8 939 147.5 932.5 145.6 928.5 C143.7 924.5 141.7 917.4 142.9 916.1Z" fill="#c3c4a7" stroke="#e9dd9c" stroke-width="0.7" stroke-linejoin="round"/>
<path d="M18 950.5 C19 945.1 22 945.7 24.6 943.6 C27.2 941.5 30.8 938.4 35.6 936.8 C40.4 935.1 50.1 933.4 56.3 932.6 C62.5 931.8 71.5 930.9 76.9 931.3 C82.3 931.7 88.1 934 92 935.4 C95.9 936.8 98.9 938 103 940.9 C107.1 943.8 115.6 951.5 119.5 954.6 C123.4 957.7 124.1 956.7 129.1 961.5 C134 966.3 148.8 981.8 152.5 986.3 C156.2 990.8 151.8 990 153.9 991.8 C156 993.6 161.6 995.7 166.3 998.6 C171 1001.5 180.8 1007.5 185.5 1011 C190.2 1014.5 194.6 1018.7 197.9 1022 C201.2 1025.3 203.8 1030.1 207.5 1033 C211.2 1035.9 221.4 1039 222.6 1041.3 C223.8 1043.6 217 1046 215.8 1048.1 C214.6 1050.2 214.2 1053.4 214.4 1055 C214.6 1056.6 220.3 1058.2 217.2 1058.5 C214.1 1058.8 201.4 1057.1 193.8 1057.1 C186.2 1057.1 172.3 1057.6 166.3 1058.5 C160.3 1059.4 159.1 1063.8 153.9 1063.3 C148.7 1062.8 138.3 1056.9 131.9 1055 C125.5 1053.1 117.1 1051.4 111.3 1050.9 C105.5 1050.4 98.2 1051.8 93.4 1051.6 C88.6 1051.4 82.3 1051 79.6 1049.5 C76.9 1048 76.9 1043.8 75.5 1041.3 C74.1 1038.8 72.3 1034.5 70 1033 C67.7 1031.5 64.2 1033.8 60.4 1031.6 C56.6 1029.3 49.7 1025.4 45 1018 C40.3 1010.6 32.9 988 28.8 982.2 C24.8 976.4 19.6 984.2 18 979.4 C16.4 974.6 17 955.9 18 950.5Z" fill="#dcdacd" stroke="#e9dd9c" stroke-width="0.7" stroke-linejoin="round"/>
<path d="M79.6 1049.5 C80.1 1047 88.6 1051.4 93.4 1051.6 C98.2 1051.8 105.5 1050.4 111.3 1050.9 C117.1 1051.4 125.5 1053.1 131.9 1055 C138.3 1056.9 148.7 1062.8 153.9 1063.3 C159.1 1063.8 160.3 1059.4 166.3 1058.5 C172.3 1057.6 186.2 1057.1 193.8 1057.1 C201.4 1057.1 211.8 1058 217.2 1058.5 C222.6 1059 226 1059.2 229.5 1060.5 C233 1061.8 237.8 1064.5 240.5 1067.4 C243.2 1070.3 245.8 1075.9 247.4 1079.8 C249.1 1083.7 250.4 1090 251.5 1093.5 C252.6 1097 270.2 1101.9 255 1103.4 C239.8 1104.9 168.1 1104.5 150 1103.4 C131.9 1102.3 140.4 1100 134.6 1096.3 C128.8 1092.6 118 1083.2 111.3 1079 C104.6 1074.8 94.8 1072.4 90 1068 C85.2 1063.6 79.1 1052 79.6 1049.5Z" fill="#c3c4a7" stroke="#e9dd9c" stroke-width="0.7" stroke-linejoin="round"/>
<path d="M18 979.4 C19.6 971.2 24.8 976.4 28.8 982.2 C32.9 988 40.3 1010.6 45 1018 C49.7 1025.4 56.6 1029.3 60.4 1031.6 C64.2 1033.8 67.7 1031.5 70 1033 C72.3 1034.5 74.1 1038.8 75.5 1041.3 C76.9 1043.8 77.4 1045.5 79.6 1049.5 C81.8 1053.5 90.2 1066.1 90 1068 C89.8 1069.9 82.5 1064.7 78 1062 C73.5 1059.3 65.7 1053.3 60 1050 C54.3 1046.7 46.3 1042 40 1040 C33.7 1038 21.3 1046.1 18 1037 C14.7 1027.9 16.4 987.6 18 979.4Z" fill="#c3c4a7" stroke="#e9dd9c" stroke-width="0.7" stroke-linejoin="round"/>
<path d="M0 1037 C2.7 1024.8 13.7 1038.1 18 1038.5 C22.3 1038.9 22.5 1038.8 28.8 1039.9 C35.1 1041 52.4 1044.3 60 1046 C67.6 1047.7 76.3 1048.9 79.6 1051 C82.9 1053.1 77.2 1056.7 82 1060 C86.8 1063.3 103.4 1068.7 111.3 1072.9 C119.2 1077.1 128.4 1084.5 134.6 1088 C140.8 1091.5 147.7 1093.8 152.5 1096.3 C157.3 1098.8 163.7 1100.9 166.3 1104.5 C168.9 1108.1 194.9 1117.7 170 1120 C145.1 1122.3 25.5 1132.5 0 1120 C-25.5 1107.5 -2.7 1049.2 0 1037Z" fill="#dcdacd" stroke="#e9dd9c" stroke-width="0.7" stroke-linejoin="round"/>
<path d="M18 1008 C19.6 1008 25.4 1006.4 29 1008 C32.6 1009.6 36.9 1015.2 42 1019 C47.1 1022.8 57.8 1029.8 63 1033 C68.2 1036.2 72.2 1036.7 77 1040 C81.8 1043.3 89.9 1051.5 95 1055 C100.1 1058.5 105.5 1060.5 111 1063 C116.5 1065.5 125.8 1069.6 132 1071.5 C138.2 1073.4 145.8 1073.9 152 1075.6 C158.2 1077.2 166.7 1080.6 173 1082.5 C179.3 1084.4 187.8 1086 194 1088 C200.2 1090 209.1 1093.5 214 1096 C218.9 1098.5 225.1 1103.2 227 1104.5" fill="none" stroke="#70d4ea" stroke-width="5.5" stroke-linecap="butt"/>
<path d="M18 995.6 C19.2 992.7 24.4 996.3 26 999 C27.6 1001.7 29.1 1011.1 28.8 1013.8 C28.5 1016.5 25.6 1016.3 24 1017 C22.4 1017.7 18.9 1021.8 18 1018.6 C17.1 1015.4 16.8 998.5 18 995.6Z" fill="#70d4ea" stroke="none" stroke-width="0.8" stroke-linejoin="round"/>
<path d="M274 1047.6 C274.9 1045.2 279.1 1049.5 281.8 1051.6 C284.5 1053.7 289.8 1057.2 291.9 1061.7 C294 1066.2 294.5 1077.3 296 1081.8 C297.5 1086.3 299.3 1088.7 302 1091.9 C304.7 1095.1 317.9 1101.7 314 1103.4 C310.1 1105.1 282.3 1106.6 275.8 1103.4 C269.3 1100.2 270.8 1087.2 270.8 1081.8 C270.8 1076.4 275.3 1072.8 275.8 1067.7 C276.3 1062.6 273.1 1050 274 1047.6Z" fill="#c3c4a7" stroke="#e9dd9c" stroke-width="0.7" stroke-linejoin="round"/>
<path d="M672 832 C669.3 790.9 661.5 840.5 654 846.3 C646.5 852.1 633 864.8 622.2 870.5 C611.4 876.2 594.1 881.3 582 884.6 C569.9 887.9 552.9 889.7 541.7 892.6 C530.5 895.5 516.6 900.7 507.5 903.7 C498.4 906.7 488.2 910.1 481.3 912.7 C474.4 915.3 467.2 918.1 461.2 920.8 C455.2 923.5 445.2 927.3 441 930.9 C436.8 934.5 434.5 937.4 433 944.9 C431.5 952.4 432.2 972.7 431 981.2 C429.8 989.7 428.3 993.8 425 1001.3 C421.7 1008.8 410.6 1024 408.8 1031.5 C407 1039 411.2 1045.1 412.9 1051.6 C414.6 1058.1 417.9 1067.2 420 1075 C422.1 1082.8 425.9 1096.7 427 1103.4 C428.1 1110.2 390.2 1117.5 427 1120 C463.8 1122.5 635.2 1163.2 672 1120 C708.8 1076.8 674.7 873.1 672 832Z" fill="#e6dfb6" stroke="#e9dd9c" stroke-width="0.7" stroke-linejoin="round"/>
<path d="M430 987.2 C429.4 987.2 428.2 994.7 425 1001.3 C421.8 1007.9 410.6 1024 408.8 1031.5 C407 1039 410.2 1040.8 412.9 1051.6 C415.6 1062.4 424 1095.6 427 1103.4 C430 1111.2 431.8 1109.7 433 1103.4 C434.2 1097.1 435 1071 435 1061.7 C435 1052.4 433.6 1047.5 433 1041.5 C432.4 1035.5 431.6 1027.4 431 1021.4 C430.4 1015.4 429.1 1006.4 429 1001.3 C428.9 996.2 430.6 987.2 430 987.2Z" fill="#dcdacd" stroke="#e9dd9c" stroke-width="0.7" stroke-linejoin="round"/>
<path d="M672 975 C669.3 955.4 658.4 983.7 654 989.2 C649.6 994.7 647.2 1005.7 642.4 1011.4 C637.6 1017.1 628.2 1023 622.2 1027.5 C616.2 1032 608.1 1036.7 602.1 1041.5 C596.1 1046.3 588 1055.5 582 1059.7 C576 1063.9 566.9 1065.8 561.8 1069.7 C556.7 1073.6 551.6 1080.7 547.7 1085.8 C543.8 1090.9 538.4 1098.3 535.7 1103.4 C533 1108.5 509.6 1117.5 530 1120 C550.4 1122.5 650.7 1141.8 672 1120 C693.3 1098.2 674.7 994.6 672 975Z" fill="#dcdacd" stroke="#e9dd9c" stroke-width="0.7" stroke-linejoin="round"/>
<path d="M672 832 C669.3 822.1 661.5 840.5 654 846.3 C646.5 852.1 633 864.8 622.2 870.5 C611.4 876.2 594.1 881.3 582 884.6 C569.9 887.9 552.9 889.7 541.7 892.6 C530.5 895.5 514.1 899.2 507.5 903.7 C500.9 908.2 495.3 920.2 497.4 922.8 C499.5 925.4 511.9 920.8 521.6 920.8 C531.3 920.8 548.5 922 561.8 922.8 C575.1 923.5 604.2 923.7 610.2 925.8 C616.2 927.9 605.7 932.2 602.1 936.9 C598.5 941.6 592 951.3 586 957 C580 962.7 567.8 970 561.8 975.1 C555.8 980.2 550.2 986.4 545.7 991.2 C541.2 996 534 1001.4 531.6 1007.4 C529.2 1013.4 532 1023.8 529.6 1031.5 C527.2 1039.2 514 1055.1 515.5 1058.7 C517 1062.3 533.4 1058.9 539.7 1055.7 C546 1052.5 553.3 1042.6 557.8 1037.5 C562.3 1032.4 564.8 1025.6 569.9 1021.4 C575 1017.2 585.7 1013.6 592 1009.4 C598.3 1005.2 605.9 998.1 612.2 993.3 C618.5 988.5 630.1 983.2 634.3 977.2 C638.5 971.2 637.9 959.9 640.3 953 C642.7 946.1 648 936.1 650.4 930.9 C652.8 925.6 652.8 920.8 656 918 C659.2 915.2 669.6 924.9 672 912 C674.4 899.1 674.7 841.9 672 832Z" fill="#c3c4a7" stroke="#e9dd9c" stroke-width="0.7" stroke-linejoin="round"/>
<path d="M477.3 951 C475.6 949.5 470.2 955.9 467.2 961 C464.2 966.1 456.8 982.5 457.1 985.2 C457.4 987.9 466 981.3 469.2 979.2 C472.4 977.1 477.1 975.3 478.3 971.1 C479.5 966.9 479 952.5 477.3 951Z" fill="#dcdacd" stroke="#e9dd9c" stroke-width="0.7" stroke-linejoin="round"/>
<path d="M455.1 1019.4 C456.3 1016.7 465.2 1015.6 467.2 1017.4 C469.2 1019.2 469.4 1028.8 468.2 1031.5 C467 1034.2 461.2 1037.3 459.2 1035.5 C457.2 1033.7 453.9 1022.1 455.1 1019.4Z" fill="#dcdacd" stroke="#e9dd9c" stroke-width="0.7" stroke-linejoin="round"/>
<path d="M455.1 1053.7 C456.3 1053.4 460.9 1059.3 461.2 1061.7 C461.5 1064.1 458.3 1069.4 457.1 1069.7 C455.9 1070 453.4 1066.1 453.1 1063.7 C452.8 1061.3 453.9 1054 455.1 1053.7Z" fill="#dcdacd" stroke="#e9dd9c" stroke-width="0.7" stroke-linejoin="round"/>
<path d="M509.5 1065.7 C508.9 1065.1 503.5 1071.7 501.4 1073.8 C499.3 1075.9 494.8 1079.2 495.4 1079.8 C496 1080.4 503.4 1079.9 505.5 1077.8 C507.6 1075.7 510.1 1066.3 509.5 1065.7Z" fill="#dcdacd" stroke="#e9dd9c" stroke-width="0.7" stroke-linejoin="round"/>
<path d="M553.8 1067.7 C552.1 1068.6 545.8 1075.4 543.7 1077.8 C541.6 1080.2 538.8 1083.2 539.7 1083.8 C540.6 1084.4 547.5 1083.6 549.8 1081.8 C552.1 1080 554.2 1073.9 554.8 1071.8 C555.4 1069.7 555.5 1066.8 553.8 1067.7Z" fill="#dcdacd" stroke="#e9dd9c" stroke-width="0.7" stroke-linejoin="round"/>
<path d="M510.5 970.1 C509 971.9 502.9 980.6 501.4 983.2 C499.9 985.8 499.5 987.4 500.4 987.2 C501.3 987.1 505.8 984.6 507.5 982.2 C509.2 979.8 511.1 972.9 511.5 971.1 C511.9 969.3 512 968.3 510.5 970.1Z" fill="#c6bcab" stroke="#e9dd9c" stroke-width="0.7" stroke-linejoin="round"/>
<path d="M507.5 1011.4 C506 1011.4 499.9 1017.9 498.4 1021.4 C496.9 1024.9 496.3 1033 497.4 1034.5 C498.5 1036 503.8 1033.5 505.5 1031.5 C507.2 1029.5 508.2 1024.4 508.5 1021.4 C508.8 1018.4 509 1011.4 507.5 1011.4Z" fill="#c6bcab" stroke="#e9dd9c" stroke-width="0.7" stroke-linejoin="round"/>
<path d="M590 1010.4 C587.6 1010.1 574.4 1017 569.9 1021.4 C565.4 1025.8 558.6 1037.8 559.8 1039.6 C561 1041.4 574 1035.9 577.9 1033.5 C581.8 1031.1 584.2 1026.9 586 1023.4 C587.8 1019.9 592.4 1010.7 590 1010.4Z" fill="#c6bcab" stroke="#e9dd9c" stroke-width="0.7" stroke-linejoin="round"/>
<path d="M656 895.5 C654.9 896.1 650.8 897.9 648.4 899.5 C646 901.1 642.1 904.1 640.3 906.5 C638.5 908.9 636.9 912.8 636.3 915.5 C635.7 918.2 637.2 922.5 636.3 924.8 C635.4 927.1 632.7 929.4 630.3 930.9 C627.9 932.4 622.7 931.8 620 934.5 C617.3 937.2 613.4 946.8 612.2 949" fill="none" stroke="#70d4ea" stroke-width="6"/>
<path d="M620 934.5 C618.8 936.7 614.9 945.3 612.2 949 C609.5 952.7 605.4 956 602.1 959 C598.8 962 593 966.4 590 969.1 C587 971.8 585 975.1 582 977.2 C579 979.3 572.3 981.1 569.9 983.2 C567.5 985.3 567 988.2 565.8 991.2 C564.6 994.2 564.2 1000.3 561.8 1003.3 C559.4 1006.3 551.8 1008.7 549.8 1011.4 C547.8 1014.1 549.6 1018.4 548.7 1021.4 C547.8 1024.4 544.5 1030 543.7 1031.5" fill="none" stroke="#70d4ea" stroke-width="2.6"/>
<path d="M612.2 933.9 C612.5 933.3 619.5 935.4 622.2 934.9 C624.9 934.4 630.6 930.3 630.3 930.9 C630 931.5 622.9 938.4 620.2 938.9 C617.5 939.4 611.9 934.5 612.2 933.9Z" fill="#70d4ea" stroke="none" stroke-width="0.8" stroke-linejoin="round"/>
<path d="M14 839 C17.5 838.9 32.5 838.2 40.3 838.4 C48.1 838.6 66.1 839.3 72.5 840.6 C78.9 841.9 84.8 848.3 88.6 848.4 C92.4 848.5 97.5 842.5 100.7 841.2 C103.9 839.9 109.8 838.5 112.7 838.4 C115.6 838.3 120.7 838.2 122.8 840.2 C124.9 842.2 127.5 849.4 128.8 853.3 C130.1 857.2 131.3 865.7 132.9 869.4 C134.5 873.1 139 878.2 140.9 881.4 C142.8 884.6 144.6 890.4 147 893.5 C149.4 896.6 155.5 903.4 159 904.6 C162.5 905.8 167.5 903.5 173.1 902.6 C178.7 901.7 196.2 898.2 201.3 897.5 C206.4 896.8 208.2 896.8 211.4 897.5 C214.6 898.2 221.1 901.7 225.5 902.6 C229.9 903.5 241.8 906.9 244.6 904.6 C247.4 902.3 247.1 889.5 246.8 885.5 C246.5 881.5 242 877.5 242.6 874.4 C243.2 871.3 248.3 864.8 251.6 862.3 C254.9 859.8 263.1 857.8 267.7 855.3 C272.3 852.8 281.3 845 285.9 843.2 C290.5 841.4 297.2 842.3 302 842 C306.8 841.7 316.7 840.6 322.1 841.2 C327.5 841.8 337.6 845 342.2 846.2 C346.8 847.4 354.7 848.1 356.5 850.4 C358.3 852.7 355.4 859.9 355.5 863.3 C355.6 866.7 355.3 873.2 357 876 C358.7 878.8 365.7 884.4 368 884 C370.3 883.6 372.3 875.2 374 873 C375.7 870.8 378.2 868.4 381 867.2 C383.8 866 391.1 863.8 395 864 C398.9 864.2 406.2 867.2 410.5 868.4 C414.8 869.6 423.1 872.3 427.6 872.8 C432.1 873.3 441 872.3 444.2 871.8 C447.4 871.3 447.2 869.6 451.4 869.4 C455.6 869.2 471.3 870.5 475.6 870.6 C479.9 870.7 480.2 869.4 483.4 870.2 C486.6 871 496.9 875.8 499.7 876.6 C502.5 877.4 502.7 876.6 504.5 876 C506.3 875.4 508.8 872.5 513 871.8 C517.2 871.1 531.6 870.6 535.9 870.6 C540.2 870.6 541.7 872.5 545.6 871.8 C549.5 871.1 560.1 867.6 564.9 865.7 C569.7 863.8 578.6 859.6 581.8 857.3 C585 855 587.6 851.2 589.1 848.8 C590.6 846.4 591.6 841.8 592.7 839.2 C593.8 836.6 595.6 831.8 597.5 829.5 C599.4 827.2 604.8 823.9 607.2 822.3 C609.6 820.7 613.3 818.4 615.7 817.4 C618.1 816.4 623.2 816.4 625.3 815 C627.4 813.6 629.1 807.4 631.4 806.6 C633.7 805.8 639.5 809.2 642.2 809 C644.9 808.8 649.3 805.8 651.9 804.8 C654.5 803.8 660.7 801.9 662 801.5" fill="none" stroke="#8d1a56" stroke-width="4" stroke-dasharray="22 8.5"/>
<path d="M365.4 749.8 C367.3 749.6 381.8 749.8 383 750.7 C384.2 751.6 386.9 764.9 387.8 766.5 C388.7 768.1 397.9 779.5 399.4 781.4 C400.9 783.3 414.8 799.3 416 801.4 C417.2 803.5 420.6 819.4 421 821.3 C421.4 823.2 424.2 836 424.3 837.9 C424.4 839.8 422.9 854.8 423 856.2 C423.1 857.6 425.5 863.3 426 864.5 C426.5 865.7 431.1 877.6 431.5 878.5 C431.9 879.4 432.5 881.1 434 881.8 C435.5 882.5 456.7 888.9 459.2 891.6 C461.7 894.3 479.1 927.3 480.3 931.9 C481.5 936.5 481.8 973.4 481.3 977.2 C480.8 981 472.7 1001.2 471.2 1003.3 C469.7 1005.4 455.5 1015.7 453.1 1017.4 C450.7 1019.1 429.1 1033.7 427 1035.5 C424.9 1037.3 415.4 1049.4 413.9 1050.6 C412.4 1051.8 401.6 1057.4 399.8 1057.3 C398 1057.2 383.2 1050.1 380.7 1048.6 C378.2 1047.1 355.7 1033.1 352.5 1029.5 C349.3 1025.9 322.7 986 320.3 981.2 C317.9 976.4 308 942.1 306.6 938.9 C305.2 935.7 295.2 923.2 293.9 921.5 C292.6 919.8 283.4 909.4 281.8 907.6 C280.2 905.8 265.1 890.1 264.1 887.5 C263.1 884.9 263.3 862.8 263.7 859.3 C264.1 855.8 268.1 824.3 270.8 821 C273.5 817.7 310.8 798.8 314 796.9 C317.2 795 330 787.3 331.2 785.8 C332.4 784.3 334.8 770.3 335.6 768.7 C336.4 767.1 345.1 756.3 346.7 755.3 C348.3 754.3 363.5 750 365.4 749.8Z" fill="none" stroke="#0a0a0a" stroke-width="5.6" stroke-linejoin="round"/>
<rect x="28.8" y="917.2" width="124.8" height="175.1" fill="#e8e6dc" stroke="none" stroke-width="0" fill-opacity="0.47"/>
<rect x="28.8" y="917.2" width="124.8" height="175.1" fill="none" stroke="#0a0a0a" stroke-width="1.75" />
<circle cx="55.8" cy="942.9" r="20.6" fill="#ff7300" stroke="#0a0a0a" stroke-width="1.6" />
<circle cx="56.4" cy="986.2" r="16.5" fill="#ffde85" stroke="#0a0a0a" stroke-width="1.6" />
<circle cx="56.8" cy="1023.5" r="11.8" fill="#bff2ec" stroke="#0a0a0a" stroke-width="1.6" />
<circle cx="57" cy="1051.6" r="5.7" fill="#10b3a3" stroke="#0a0a0a" stroke-width="1.6" />
<circle cx="57.2" cy="1075.4" r="3.2" fill="#0b4a8b" stroke="#0a0a0a" stroke-width="1.2" />
<line x1="94.2" y1="1054" x2="94.2" y2="968" stroke="#0a0a0a" stroke-width="1.5" />
<polygon points="94.2,959.6 89.2,971 99.2,971" fill="#0a0a0a" stroke="none" stroke-width="1" />
<text x="122.2" y="1006.3" font-size="20" font-family='"Liberation Sans", "DejaVu Sans", sans-serif' fill="#1a1a1a" text-anchor="middle" transform="rotate(-90 122.2 1006.3)" textLength="139.7" lengthAdjust="spacingAndGlyphs">Increasing shift in</text>
<text x="143.9" y="1005.8" font-size="20" font-family='"Liberation Sans", "DejaVu Sans", sans-serif' fill="#1a1a1a" text-anchor="middle" transform="rotate(-90 143.9 1005.8)" textLength="152" lengthAdjust="spacingAndGlyphs">relative abundance</text>
<circle cx="65.1" cy="747.6" r="4.5" fill="#10b3a3" stroke="#111" stroke-width="0.8" />
<circle cx="93.6" cy="737.1" r="12.9" fill="#ffde85" stroke="#111" stroke-width="0.8" />
<circle cx="128.2" cy="739.5" r="3" fill="#0b4a8b" stroke="#111" stroke-width="0.8" />
<circle cx="167.2" cy="737.1" r="4.5" fill="#10b3a3" stroke="#111" stroke-width="0.8" />
<circle cx="204.8" cy="739.1" r="3" fill="#0b4a8b" stroke="#111" stroke-width="0.8" />
<circle cx="240.4" cy="744.6" r="4.5" fill="#10b3a3" stroke="#111" stroke-width="0.8" />
<circle cx="281.2" cy="742.5" r="3" fill="#0b4a8b" stroke="#111" stroke-width="0.8" />
<circle cx="312.7" cy="751.8" r="4.5" fill="#10b3a3" stroke="#111" stroke-width="0.8" />
<circle cx="355.2" cy="747" r="4.5" fill="#10b3a3" stroke="#111" stroke-width="0.8" />
<circle cx="384.8" cy="746.6" r="4.5" fill="#10b3a3" stroke="#111" stroke-width="0.8" />
<circle cx="428.6" cy="747" r="4.5" fill="#10b3a3" stroke="#111" stroke-width="0.8" />
<circle cx="464.1" cy="747" r="3" fill="#0b4a8b" stroke="#111" stroke-width="0.8" />
<circle cx="506.4" cy="751" r="3" fill="#0b4a8b" stroke="#111" stroke-width="0.8" />
<circle cx="541.3" cy="751.8" r="3" fill="#0b4a8b" stroke="#111" stroke-width="0.8" />
<circle cx="578.5" cy="751" r="3" fill="#0b4a8b" stroke="#111" stroke-width="0.8" />
<circle cx="622.6" cy="749.2" r="3" fill="#0b4a8b" stroke="#111" stroke-width="0.8" />
<circle cx="49.1" cy="785.8" r="4.5" fill="#10b3a3" stroke="#111" stroke-width="0.8" />
<circle cx="91.2" cy="782.6" r="3" fill="#0b4a8b" stroke="#111" stroke-width="0.8" />
<circle cx="127.8" cy="785.8" r="3" fill="#0b4a8b" stroke="#111" stroke-width="0.8" />
<circle cx="170" cy="787" r="3" fill="#0b4a8b" stroke="#111" stroke-width="0.8" />
<circle cx="218.9" cy="781.6" r="3" fill="#0b4a8b" stroke="#111" stroke-width="0.8" />
<circle cx="244.4" cy="786.8" r="4.5" fill="#10b3a3" stroke="#111" stroke-width="0.8" />
<circle cx="281.6" cy="792.9" r="3" fill="#0b4a8b" stroke="#111" stroke-width="0.8" />
<circle cx="320.6" cy="789.4" r="16" fill="#ff7300" stroke="#111" stroke-width="0.8" />
<circle cx="356.3" cy="785.2" r="16" fill="#ff7300" stroke="#111" stroke-width="0.8" />
<circle cx="394.5" cy="788.2" r="12.9" fill="#ffde85" stroke="#111" stroke-width="0.8" />
<circle cx="433.2" cy="786.8" r="9.8" fill="#bff2ec" stroke="#111" stroke-width="0.8" />
<circle cx="468.7" cy="793.7" r="3" fill="#0b4a8b" stroke="#111" stroke-width="0.8" />
<circle cx="545.5" cy="790.2" r="3" fill="#0b4a8b" stroke="#111" stroke-width="0.8" />
<circle cx="580.4" cy="801.3" r="4.5" fill="#10b3a3" stroke="#111" stroke-width="0.8" />
<circle cx="623.4" cy="798.1" r="4.5" fill="#10b3a3" stroke="#111" stroke-width="0.8" />
<circle cx="53.6" cy="831.9" r="4.5" fill="#10b3a3" stroke="#111" stroke-width="0.8" />
<circle cx="90.6" cy="834.1" r="4.5" fill="#10b3a3" stroke="#111" stroke-width="0.8" />
<circle cx="124.8" cy="831.5" r="9.8" fill="#bff2ec" stroke="#111" stroke-width="0.8" />
<circle cx="166.2" cy="833.1" r="12.9" fill="#ffde85" stroke="#111" stroke-width="0.8" />
<circle cx="202" cy="835.3" r="4.5" fill="#10b3a3" stroke="#111" stroke-width="0.8" />
<circle cx="232.9" cy="833.1" r="3" fill="#0b4a8b" stroke="#111" stroke-width="0.8" />
<circle cx="270.1" cy="835.5" r="9.8" fill="#bff2ec" stroke="#111" stroke-width="0.8" />
<circle cx="322.8" cy="830.7" r="12.9" fill="#ffde85" stroke="#111" stroke-width="0.8" />
<circle cx="353.7" cy="835.1" r="12.9" fill="#ffde85" stroke="#111" stroke-width="0.8" />
<circle cx="389.2" cy="837.8" r="12.9" fill="#ffde85" stroke="#111" stroke-width="0.8" />
<circle cx="427.2" cy="843.6" r="4.5" fill="#10b3a3" stroke="#111" stroke-width="0.8" />
<circle cx="470.3" cy="843.6" r="3" fill="#0b4a8b" stroke="#111" stroke-width="0.8" />
<circle cx="504" cy="827.1" r="3" fill="#0b4a8b" stroke="#111" stroke-width="0.8" />
<circle cx="91.8" cy="875.6" r="4.5" fill="#10b3a3" stroke="#111" stroke-width="0.8" />
<circle cx="289.3" cy="875.6" r="12.9" fill="#ffde85" stroke="#111" stroke-width="0.8" />
<circle cx="356.3" cy="877.4" r="12.9" fill="#ffde85" stroke="#111" stroke-width="0.8" />
<circle cx="394.5" cy="879.2" r="16" fill="#ff7300" stroke="#111" stroke-width="0.8" />
<circle cx="430" cy="881.8" r="12.9" fill="#ffde85" stroke="#111" stroke-width="0.8" />
<polygon points="611.7,700.9 602.6,753.6 617.7,740.5 635.4,748.6" fill="#0a0a0a" stroke="none" stroke-width="1" />
<text x="611.1" y="692.3" font-size="20" font-family='"Liberation Serif", "DejaVu Serif", serif' fill="#111" text-anchor="middle" transform="rotate(-15 611.1 692.3)">N</text>
<path d="M640.3 906.6 L553.9 903.8 L553.4 893.8 L505.9 904.1 L554 917.1 L554 907.3 L640.3 910.2 Z" fill="#0a0a0a" stroke="#fff" stroke-width="1.3" stroke-linejoin="miter"/>
<text x="548.7" y="890" font-size="22" font-family='"Liberation Sans", "DejaVu Sans", sans-serif' fill="#1a1a1a" transform="rotate(2.5 548.7 890)" textLength="88" lengthAdjust="spacingAndGlyphs">290-295°</text>
<text x="509.5" y="944.5" font-size="22" font-family='"Liberation Sans", "DejaVu Sans", sans-serif' fill="#1a1a1a" transform="rotate(2.7 509.5 944.5)" textLength="122" lengthAdjust="spacingAndGlyphs">Ice direction</text>
<rect x="401.8" y="1081.8" width="208.4" height="9.7" fill="none" stroke="#0a0a0a" stroke-width="1" />
<rect x="401.8" y="1081.8" width="27.2" height="9.7" fill="#0a0a0a" stroke="none" stroke-width="1" />
<rect x="453.1" y="1081.8" width="27.6" height="9.7" fill="#0a0a0a" stroke="none" stroke-width="1" />
<rect x="505.1" y="1081.8" width="105.1" height="9.7" fill="#0a0a0a" stroke="none" stroke-width="1" />
<text x="406.3" y="1077.8" font-size="17.5" font-family='"Liberation Sans", "DejaVu Sans", sans-serif' fill="#1a1a1a" text-anchor="middle" textLength="27" lengthAdjust="spacingAndGlyphs">140</text>
<text x="456.2" y="1077.8" font-size="17.5" font-family='"Liberation Sans", "DejaVu Sans", sans-serif' fill="#1a1a1a" text-anchor="middle" textLength="18" lengthAdjust="spacingAndGlyphs">70</text>
<text x="505" y="1077.8" font-size="17.5" font-family='"Liberation Sans", "DejaVu Sans", sans-serif' fill="#1a1a1a" text-anchor="middle">0</text>
<text x="611" y="1077.8" font-size="17.5" font-family='"Liberation Sans", "DejaVu Sans", sans-serif' fill="#1a1a1a" text-anchor="middle" textLength="44" lengthAdjust="spacingAndGlyphs">140 m</text>
</g>
<rect x="18.1" y="674.6" width="635.3" height="428.8" fill="none" stroke="#0a0a0a" stroke-width="1.7" />
<line x1="230.5" y1="674.4" x2="230.5" y2="679.5" stroke="#0a0a0a" stroke-width="1.3" />
<line x1="461.2" y1="674.4" x2="461.2" y2="679.5" stroke="#0a0a0a" stroke-width="1.3" />
<line x1="63.6" y1="1103.4" x2="63.6" y2="1098" stroke="#0a0a0a" stroke-width="1.3" />
<line x1="295.1" y1="1103.4" x2="295.1" y2="1098" stroke="#0a0a0a" stroke-width="1.3" />
<line x1="526.6" y1="1103.4" x2="526.6" y2="1098" stroke="#0a0a0a" stroke-width="1.3" />
<line x1="18" y1="845.9" x2="23.5" y2="845.9" stroke="#0a0a0a" stroke-width="1.3" />
<line x1="18" y1="1075.8" x2="23.5" y2="1075.8" stroke="#0a0a0a" stroke-width="1.3" />
<line x1="654" y1="750.2" x2="648.5" y2="750.2" stroke="#0a0a0a" stroke-width="1.3" />
<line x1="654" y1="981.2" x2="648.5" y2="981.2" stroke="#0a0a0a" stroke-width="1.3" />
<text x="227" y="669.8" font-size="13.8" font-family='"Liberation Sans", "DejaVu Sans", sans-serif' fill="#a9a99c" text-anchor="middle" font-weight="bold" textLength="49.5" lengthAdjust="spacingAndGlyphs">557100</text>
<text x="457.7" y="669.8" font-size="13.8" font-family='"Liberation Sans", "DejaVu Sans", sans-serif' fill="#a9a99c" text-anchor="middle" font-weight="bold" textLength="49.5" lengthAdjust="spacingAndGlyphs">557400</text>
<text x="65.1" y="1118.7" font-size="13.8" font-family='"Liberation Sans", "DejaVu Sans", sans-serif' fill="#a9a99c" text-anchor="middle" font-weight="bold" textLength="49.5" lengthAdjust="spacingAndGlyphs">556800</text>
<text x="296.6" y="1118.7" font-size="13.8" font-family='"Liberation Sans", "DejaVu Sans", sans-serif' fill="#a9a99c" text-anchor="middle" font-weight="bold" textLength="49.5" lengthAdjust="spacingAndGlyphs">557100</text>
<text x="528.1" y="1118.7" font-size="13.8" font-family='"Liberation Sans", "DejaVu Sans", sans-serif' fill="#a9a99c" text-anchor="middle" font-weight="bold" textLength="49.5" lengthAdjust="spacingAndGlyphs">557400</text>
<text x="12.5" y="840.5" font-size="13.8" font-family='"Liberation Sans", "DejaVu Sans", sans-serif' fill="#a9a99c" text-anchor="middle" font-weight="bold" transform="rotate(-90 12.5 840.5)" textLength="57.5" lengthAdjust="spacingAndGlyphs">7134800</text>
<text x="12.5" y="1075.5" font-size="13.8" font-family='"Liberation Sans", "DejaVu Sans", sans-serif' fill="#a9a99c" text-anchor="middle" font-weight="bold" transform="rotate(-90 12.5 1075.5)" textLength="57.5" lengthAdjust="spacingAndGlyphs">7134500</text>
<text x="669.5" y="751.5" font-size="13.8" font-family='"Liberation Sans", "DejaVu Sans", sans-serif' fill="#a9a99c" text-anchor="middle" font-weight="bold" transform="rotate(-90 669.5 751.5)" textLength="57.5" lengthAdjust="spacingAndGlyphs">7134800</text>
<text x="669.5" y="982" font-size="13.8" font-family='"Liberation Sans", "DejaVu Sans", sans-serif' fill="#a9a99c" text-anchor="middle" font-weight="bold" transform="rotate(-90 669.5 982)" textLength="57.5" lengthAdjust="spacingAndGlyphs">7134500</text>
<text x="22" y="709.3" font-size="41.5" font-family='"Liberation Sans", "DejaVu Sans", sans-serif' fill="#111" font-weight="bold" textLength="83.5" lengthAdjust="spacingAndGlyphs">SUM</text>
<text x="116.5" y="708.6" font-size="28.5" font-family='"Liberation Sans", "DejaVu Sans", sans-serif' fill="#111" font-weight="bold" textLength="455.5" lengthAdjust="spacingAndGlyphs">[incubation + DO-18 indicator species]</text>
</g>
<g transform="translate(1313.7 0)">
<g clip-path="url(#mapclip)">
<rect x="18" y="674.4" width="636" height="429" fill="#dcdacd" stroke="none" stroke-width="1" />
<path d="M-5 838.5 C-2.5 800.6 8 840.5 14 840.7 C20 840.9 32.5 839.9 40.3 840.1 C48.1 840.3 66.1 841 72.5 842.3 C78.9 843.6 84.8 850 88.6 850.1 C92.4 850.2 97.5 844.2 100.7 842.9 C103.9 841.6 109.8 840.2 112.7 840.1 C115.6 840 120.7 839.9 122.8 841.9 C124.9 843.9 127.5 851.1 128.8 855 C130.1 858.9 131.3 867.4 132.9 871.1 C134.5 874.8 139 879.9 140.9 883.1 C142.8 886.3 144.6 892.1 147 895.2 C149.4 898.3 155.8 905 159 906.3 C162.2 907.6 168.7 903.6 171.1 904.7 C173.5 905.8 175.6 911.8 177.2 914.7 C178.8 917.6 181.9 923.8 183.2 926.8 C184.5 929.8 184.8 934.9 187.2 936.9 C189.6 938.9 197.3 941 201.3 941.9 C205.3 942.8 212 943.8 217.4 943.9 C222.8 944 235.2 942.8 241.6 942.9 C248 943 257.9 949.3 265.7 944.9 C273.5 940.5 290.1 917.3 300 910 C309.9 902.7 332.4 894.1 340 890 C347.6 885.9 353.3 879.6 357 879 C360.7 878.4 365.7 886.3 368 885.7 C370.3 885.1 372.3 876.9 374 874.7 C375.7 872.5 378.2 870.1 381 868.9 C383.8 867.7 391.1 865.5 395 865.7 C398.9 865.9 406.2 868.9 410.5 870.1 C414.8 871.3 423.1 874 427.6 874.5 C432.1 875 441 874 444.2 873.5 C447.4 873 447.2 871.3 451.4 871.1 C455.6 870.9 471.3 872.2 475.6 872.3 C479.9 872.4 480.2 871.1 483.4 871.9 C486.6 872.7 496.9 877.5 499.7 878.3 C502.5 879.1 502.7 878.3 504.5 877.7 C506.3 877.1 508.8 874.2 513 873.5 C517.2 872.8 531.6 872.3 535.9 872.3 C540.2 872.3 541.7 874.2 545.6 873.5 C549.5 872.8 560.1 869.3 564.9 867.4 C569.7 865.5 578.6 861.3 581.8 859 C585 856.7 587.6 852.9 589.1 850.5 C590.6 848.1 591.6 843.5 592.7 840.9 C593.8 838.3 595.6 833.5 597.5 831.2 C599.4 828.9 604.8 825.6 607.2 824 C609.6 822.4 613.3 820.1 615.7 819.1 C618.1 818.1 623.2 818.1 625.3 816.7 C627.4 815.3 629.1 809.1 631.4 808.3 C633.7 807.5 639.5 810.9 642.2 810.7 C644.9 810.5 649.3 807.5 651.9 806.5 C654.5 805.5 658.3 804.1 662 803.2 C665.7 802.3 677.6 757.1 680 800 C682.4 842.9 771.3 1081.7 680 1125 C588.7 1168.3 86.3 1163.2 -5 1125 C-96.3 1086.8 -7.5 876.4 -5 838.5Z" fill="#b3ad94"/>
<path d="M216.4 909.7 C217.7 907.6 232.2 904.7 235.5 906.7 C238.8 908.7 238.5 918.9 238.5 922.8 C238.5 926.7 239.3 930.8 235.5 932.9 C231.7 935 216.6 937.5 213.4 936.9 C210.2 936.3 212.7 930.3 214 929 C215.3 927.7 220.1 929.7 222 928.5 C223.9 927.3 227.8 923.8 227 921 C226.2 918.2 215.1 911.8 216.4 909.7Z" fill="#b3ad94" stroke="none" stroke-width="0.8" stroke-linejoin="round"/>
<path d="M251.6 864.4 C254.8 860.8 262.6 859.5 267.7 856.5 C272.8 853.5 280.8 846.6 285.9 844.6 C291 842.6 296.6 843.8 302 843.5 C307.4 843.2 316 842.1 322 842.7 C328 843.3 336.9 846.3 342 847.6 C347.1 848.9 354.3 848.9 356.3 851.5 C358.3 854.1 355.4 860.7 355.5 865 C355.6 869.3 357.2 875.6 357 880 C356.8 884.4 354.3 891.2 354.3 894.6 C354.3 898 357.3 900 357.3 902.7 C357.3 905.4 356 908.5 354.3 912.7 C352.6 916.9 346.8 926.1 346.2 930.9 C345.6 935.7 348.2 940.7 350.3 944.9 C352.4 949.1 358.2 955.1 360.3 959 C362.4 962.9 364.4 966.3 364.4 971.1 C364.4 975.9 361.5 986.4 360.3 991.2 C359.1 996 357.8 1001.2 356.3 1003.3 C354.8 1005.4 353 1005.3 350.3 1005.3 C347.6 1005.3 342.4 1005.1 338.2 1003.3 C334 1001.5 326.6 996.6 322.1 993.3 C317.6 990 311 985.1 308 981.2 C305 977.3 304.4 971 302 967.1 C299.6 963.2 294.9 957.7 291.9 955 C288.9 952.3 285.4 950.5 281.8 949 C278.2 947.5 271.6 947.3 267.7 944.9 C263.8 942.5 258.4 936.5 255.7 932.9 C253 929.3 251.1 925 249.6 920.8 C248.1 916.6 246 910.7 245.6 904.7 C245.2 898.7 245.7 886.5 246.6 880.5 C247.5 874.5 248.4 868 251.6 864.4Z" fill="#c3c4a7" stroke="#e9dd9c" stroke-width="0.7" stroke-linejoin="round"/>
<path d="M300 845.3 C301.3 844.1 304.5 843.2 306 844.3 C307.5 845.3 308.4 850 310 852.3 C311.6 854.6 316.2 857.6 317 859.4 C317.8 861.2 316.6 863.5 315 864.4 C313.4 865.3 308.2 866.1 306 865.4 C303.8 864.6 301.3 861.4 300 859.4 C298.7 857.4 297.5 854.4 297.5 852.3 C297.5 850.2 298.7 846.5 300 845.3Z" fill="#70d4ea" stroke="none" stroke-width="0.8" stroke-linejoin="round"/>
<path d="M353.3 894.6 C355.1 893.5 364.9 890.5 368.4 892.6 C371.9 894.7 374.3 905.7 376.4 908.7 C378.5 911.7 379.9 911.2 382.5 912.7 C385.1 914.2 392.2 916.4 393.6 918.8 C395 921.2 391.5 925.8 391.5 928.8 C391.5 931.8 393.8 936.6 393.6 938.9 C393.5 941.2 393.1 942.5 390.5 943.9 C387.9 945.3 379.6 948 376.4 948 C373.2 948 370 946.5 369.4 943.9 C368.8 941.3 372.2 934.7 372.4 930.9 C372.5 927.1 371.9 922.7 370.4 918.8 C368.9 914.9 364.5 907.5 362.4 904.7 C360.3 901.9 357.7 901.5 356.3 900 C354.9 898.5 351.5 895.7 353.3 894.6Z" fill="#9d9794" stroke="#e9dd9c" stroke-width="0.7" stroke-linejoin="round"/>
<polygon points="212.4,902.7 221.4,908.7 227.5,920.8 226.5,928.8 219.4,928.8 216.4,926.8 213.4,929.8 211.4,937.9 205.3,935.9 207.3,920.8 210.3,908.7" fill="#70d4ea" stroke="none" stroke-width="0.8" />
<path d="M109.9 902.4 C110.9 901.1 120 905.2 125 907.2 C129.9 909.2 138.6 913.5 142.9 915.4 C147.2 917.3 152.2 917.7 153.9 919.6 C155.6 921.5 154.6 925.5 154 928 C153.4 930.5 152.1 935.7 150 936 C147.9 936.3 143.3 931.6 140 930 C136.7 928.4 131.2 927.1 128 925 C124.8 922.9 121.2 919.4 118.5 916 C115.8 912.6 108.9 903.7 109.9 902.4Z" fill="#dcdacd" stroke="#e9dd9c" stroke-width="0.7" stroke-linejoin="round"/>
<path d="M142.9 916.1 C144.1 914.8 151.2 918.4 153.9 919.6 C156.6 920.8 158.9 921.8 160.8 924.4 C162.7 927 163.6 932.9 166.3 936.8 C169 940.7 174.7 947 178.6 950.5 C182.5 954 188.1 957 192.4 960.1 C196.7 963.2 204.4 967.2 207.5 971.1 C210.6 975 211.5 982 213 986.3 C214.5 990.6 218.2 998.4 217.8 1000 C217.4 1001.6 212.9 998.9 210.3 997.3 C207.7 995.6 203.1 991.9 200.6 989 C198.1 986.1 195.5 981.3 193.8 978 C192.2 974.7 191.7 969.6 189.6 967 C187.5 964.4 183.1 962.7 180 960.5 C176.9 958.3 172.7 955 169 952.3 C165.3 949.6 158.8 946.2 155.3 942.6 C151.8 939 147.5 932.5 145.6 928.5 C143.7 924.5 141.7 917.4 142.9 916.1Z" fill="#c3c4a7" stroke="#e9dd9c" stroke-width="0.7" stroke-linejoin="round"/>
<path d="M18 950.5 C19 945.1 22 945.7 24.6 943.6 C27.2 941.5 30.8 938.4 35.6 936.8 C40.4 935.1 50.1 933.4 56.3 932.6 C62.5 931.8 71.5 930.9 76.9 931.3 C82.3 931.7 88.1 934 92 935.4 C95.9 936.8 98.9 938 103 940.9 C107.1 943.8 115.6 951.5 119.5 954.6 C123.4 957.7 124.1 956.7 129.1 961.5 C134 966.3 148.8 981.8 152.5 986.3 C156.2 990.8 151.8 990 153.9 991.8 C156 993.6 161.6 995.7 166.3 998.6 C171 1001.5 180.8 1007.5 185.5 1011 C190.2 1014.5 194.6 1018.7 197.9 1022 C201.2 1025.3 203.8 1030.1 207.5 1033 C211.2 1035.9 221.4 1039 222.6 1041.3 C223.8 1043.6 217 1046 215.8 1048.1 C214.6 1050.2 214.2 1053.4 214.4 1055 C214.6 1056.6 220.3 1058.2 217.2 1058.5 C214.1 1058.8 201.4 1057.1 193.8 1057.1 C186.2 1057.1 172.3 1057.6 166.3 1058.5 C160.3 1059.4 159.1 1063.8 153.9 1063.3 C148.7 1062.8 138.3 1056.9 131.9 1055 C125.5 1053.1 117.1 1051.4 111.3 1050.9 C105.5 1050.4 98.2 1051.8 93.4 1051.6 C88.6 1051.4 82.3 1051 79.6 1049.5 C76.9 1048 76.9 1043.8 75.5 1041.3 C74.1 1038.8 72.3 1034.5 70 1033 C67.7 1031.5 64.2 1033.8 60.4 1031.6 C56.6 1029.3 49.7 1025.4 45 1018 C40.3 1010.6 32.9 988 28.8 982.2 C24.8 976.4 19.6 984.2 18 979.4 C16.4 974.6 17 955.9 18 950.5Z" fill="#dcdacd" stroke="#e9dd9c" stroke-width="0.7" stroke-linejoin="round"/>
<path d="M79.6 1049.5 C80.1 1047 88.6 1051.4 93.4 1051.6 C98.2 1051.8 105.5 1050.4 111.3 1050.9 C117.1 1051.4 125.5 1053.1 131.9 1055 C138.3 1056.9 148.7 1062.8 153.9 1063.3 C159.1 1063.8 160.3 1059.4 166.3 1058.5 C172.3 1057.6 186.2 1057.1 193.8 1057.1 C201.4 1057.1 211.8 1058 217.2 1058.5 C222.6 1059 226 1059.2 229.5 1060.5 C233 1061.8 237.8 1064.5 240.5 1067.4 C243.2 1070.3 245.8 1075.9 247.4 1079.8 C249.1 1083.7 250.4 1090 251.5 1093.5 C252.6 1097 270.2 1101.9 255 1103.4 C239.8 1104.9 168.1 1104.5 150 1103.4 C131.9 1102.3 140.4 1100 134.6 1096.3 C128.8 1092.6 118 1083.2 111.3 1079 C104.6 1074.8 94.8 1072.4 90 1068 C85.2 1063.6 79.1 1052 79.6 1049.5Z" fill="#c3c4a7" stroke="#e9dd9c" stroke-width="0.7" stroke-linejoin="round"/>
<path d="M18 979.4 C19.6 971.2 24.8 976.4 28.8 982.2 C32.9 988 40.3 1010.6 45 1018 C49.7 1025.4 56.6 1029.3 60.4 1031.6 C64.2 1033.8 67.7 1031.5 70 1033 C72.3 1034.5 74.1 1038.8 75.5 1041.3 C76.9 1043.8 77.4 1045.5 79.6 1049.5 C81.8 1053.5 90.2 1066.1 90 1068 C89.8 1069.9 82.5 1064.7 78 1062 C73.5 1059.3 65.7 1053.3 60 1050 C54.3 1046.7 46.3 1042 40 1040 C33.7 1038 21.3 1046.1 18 1037 C14.7 1027.9 16.4 987.6 18 979.4Z" fill="#c3c4a7" stroke="#e9dd9c" stroke-width="0.7" stroke-linejoin="round"/>
<path d="M0 1037 C2.7 1024.8 13.7 1038.1 18 1038.5 C22.3 1038.9 22.5 1038.8 28.8 1039.9 C35.1 1041 52.4 1044.3 60 1046 C67.6 1047.7 76.3 1048.9 79.6 1051 C82.9 1053.1 77.2 1056.7 82 1060 C86.8 1063.3 103.4 1068.7 111.3 1072.9 C119.2 1077.1 128.4 1084.5 134.6 1088 C140.8 1091.5 147.7 1093.8 152.5 1096.3 C157.3 1098.8 163.7 1100.9 166.3 1104.5 C168.9 1108.1 194.9 1117.7 170 1120 C145.1 1122.3 25.5 1132.5 0 1120 C-25.5 1107.5 -2.7 1049.2 0 1037Z" fill="#dcdacd" stroke="#e9dd9c" stroke-width="0.7" stroke-linejoin="round"/>
<path d="M18 1008 C19.6 1008 25.4 1006.4 29 1008 C32.6 1009.6 36.9 1015.2 42 1019 C47.1 1022.8 57.8 1029.8 63 1033 C68.2 1036.2 72.2 1036.7 77 1040 C81.8 1043.3 89.9 1051.5 95 1055 C100.1 1058.5 105.5 1060.5 111 1063 C116.5 1065.5 125.8 1069.6 132 1071.5 C138.2 1073.4 145.8 1073.9 152 1075.6 C158.2 1077.2 166.7 1080.6 173 1082.5 C179.3 1084.4 187.8 1086 194 1088 C200.2 1090 209.1 1093.5 214 1096 C218.9 1098.5 225.1 1103.2 227 1104.5" fill="none" stroke="#70d4ea" stroke-width="5.5" stroke-linecap="butt"/>
<path d="M18 995.6 C19.2 992.7 24.4 996.3 26 999 C27.6 1001.7 29.1 1011.1 28.8 1013.8 C28.5 1016.5 25.6 1016.3 24 1017 C22.4 1017.7 18.9 1021.8 18 1018.6 C17.1 1015.4 16.8 998.5 18 995.6Z" fill="#70d4ea" stroke="none" stroke-width="0.8" stroke-linejoin="round"/>
<path d="M274 1047.6 C274.9 1045.2 279.1 1049.5 281.8 1051.6 C284.5 1053.7 289.8 1057.2 291.9 1061.7 C294 1066.2 294.5 1077.3 296 1081.8 C297.5 1086.3 299.3 1088.7 302 1091.9 C304.7 1095.1 317.9 1101.7 314 1103.4 C310.1 1105.1 282.3 1106.6 275.8 1103.4 C269.3 1100.2 270.8 1087.2 270.8 1081.8 C270.8 1076.4 275.3 1072.8 275.8 1067.7 C276.3 1062.6 273.1 1050 274 1047.6Z" fill="#c3c4a7" stroke="#e9dd9c" stroke-width="0.7" stroke-linejoin="round"/>
<path d="M672 832 C669.3 790.9 661.5 840.5 654 846.3 C646.5 852.1 633 864.8 622.2 870.5 C611.4 876.2 594.1 881.3 582 884.6 C569.9 887.9 552.9 889.7 541.7 892.6 C530.5 895.5 516.6 900.7 507.5 903.7 C498.4 906.7 488.2 910.1 481.3 912.7 C474.4 915.3 467.2 918.1 461.2 920.8 C455.2 923.5 445.2 927.3 441 930.9 C436.8 934.5 434.5 937.4 433 944.9 C431.5 952.4 432.2 972.7 431 981.2 C429.8 989.7 428.3 993.8 425 1001.3 C421.7 1008.8 410.6 1024 408.8 1031.5 C407 1039 411.2 1045.1 412.9 1051.6 C414.6 1058.1 417.9 1067.2 420 1075 C422.1 1082.8 425.9 1096.7 427 1103.4 C428.1 1110.2 390.2 1117.5 427 1120 C463.8 1122.5 635.2 1163.2 672 1120 C708.8 1076.8 674.7 873.1 672 832Z" fill="#e6dfb6" stroke="#e9dd9c" stroke-width="0.7" stroke-linejoin="round"/>
<path d="M430 987.2 C429.4 987.2 428.2 994.7 425 1001.3 C421.8 1007.9 410.6 1024 408.8 1031.5 C407 1039 410.2 1040.8 412.9 1051.6 C415.6 1062.4 424 1095.6 427 1103.4 C430 1111.2 431.8 1109.7 433 1103.4 C434.2 1097.1 435 1071 435 1061.7 C435 1052.4 433.6 1047.5 433 1041.5 C432.4 1035.5 431.6 1027.4 431 1021.4 C430.4 1015.4 429.1 1006.4 429 1001.3 C428.9 996.2 430.6 987.2 430 987.2Z" fill="#dcdacd" stroke="#e9dd9c" stroke-width="0.7" stroke-linejoin="round"/>
<path d="M672 975 C669.3 955.4 658.4 983.7 654 989.2 C649.6 994.7 647.2 1005.7 642.4 1011.4 C637.6 1017.1 628.2 1023 622.2 1027.5 C616.2 1032 608.1 1036.7 602.1 1041.5 C596.1 1046.3 588 1055.5 582 1059.7 C576 1063.9 566.9 1065.8 561.8 1069.7 C556.7 1073.6 551.6 1080.7 547.7 1085.8 C543.8 1090.9 538.4 1098.3 535.7 1103.4 C533 1108.5 509.6 1117.5 530 1120 C550.4 1122.5 650.7 1141.8 672 1120 C693.3 1098.2 674.7 994.6 672 975Z" fill="#dcdacd" stroke="#e9dd9c" stroke-width="0.7" stroke-linejoin="round"/>
<path d="M672 832 C669.3 822.1 661.5 840.5 654 846.3 C646.5 852.1 633 864.8 622.2 870.5 C611.4 876.2 594.1 881.3 582 884.6 C569.9 887.9 552.9 889.7 541.7 892.6 C530.5 895.5 514.1 899.2 507.5 903.7 C500.9 908.2 495.3 920.2 497.4 922.8 C499.5 925.4 511.9 920.8 521.6 920.8 C531.3 920.8 548.5 922 561.8 922.8 C575.1 923.5 604.2 923.7 610.2 925.8 C616.2 927.9 605.7 932.2 602.1 936.9 C598.5 941.6 592 951.3 586 957 C580 962.7 567.8 970 561.8 975.1 C555.8 980.2 550.2 986.4 545.7 991.2 C541.2 996 534 1001.4 531.6 1007.4 C529.2 1013.4 532 1023.8 529.6 1031.5 C527.2 1039.2 514 1055.1 515.5 1058.7 C517 1062.3 533.4 1058.9 539.7 1055.7 C546 1052.5 553.3 1042.6 557.8 1037.5 C562.3 1032.4 564.8 1025.6 569.9 1021.4 C575 1017.2 585.7 1013.6 592 1009.4 C598.3 1005.2 605.9 998.1 612.2 993.3 C618.5 988.5 630.1 983.2 634.3 977.2 C638.5 971.2 637.9 959.9 640.3 953 C642.7 946.1 648 936.1 650.4 930.9 C652.8 925.6 652.8 920.8 656 918 C659.2 915.2 669.6 924.9 672 912 C674.4 899.1 674.7 841.9 672 832Z" fill="#c3c4a7" stroke="#e9dd9c" stroke-width="0.7" stroke-linejoin="round"/>
<path d="M477.3 951 C475.6 949.5 470.2 955.9 467.2 961 C464.2 966.1 456.8 982.5 457.1 985.2 C457.4 987.9 466 981.3 469.2 979.2 C472.4 977.1 477.1 975.3 478.3 971.1 C479.5 966.9 479 952.5 477.3 951Z" fill="#dcdacd" stroke="#e9dd9c" stroke-width="0.7" stroke-linejoin="round"/>
<path d="M455.1 1019.4 C456.3 1016.7 465.2 1015.6 467.2 1017.4 C469.2 1019.2 469.4 1028.8 468.2 1031.5 C467 1034.2 461.2 1037.3 459.2 1035.5 C457.2 1033.7 453.9 1022.1 455.1 1019.4Z" fill="#dcdacd" stroke="#e9dd9c" stroke-width="0.7" stroke-linejoin="round"/>
<path d="M455.1 1053.7 C456.3 1053.4 460.9 1059.3 461.2 1061.7 C461.5 1064.1 458.3 1069.4 457.1 1069.7 C455.9 1070 453.4 1066.1 453.1 1063.7 C452.8 1061.3 453.9 1054 455.1 1053.7Z" fill="#dcdacd" stroke="#e9dd9c" stroke-width="0.7" stroke-linejoin="round"/>
<path d="M509.5 1065.7 C508.9 1065.1 503.5 1071.7 501.4 1073.8 C499.3 1075.9 494.8 1079.2 495.4 1079.8 C496 1080.4 503.4 1079.9 505.5 1077.8 C507.6 1075.7 510.1 1066.3 509.5 1065.7Z" fill="#dcdacd" stroke="#e9dd9c" stroke-width="0.7" stroke-linejoin="round"/>
<path d="M553.8 1067.7 C552.1 1068.6 545.8 1075.4 543.7 1077.8 C541.6 1080.2 538.8 1083.2 539.7 1083.8 C540.6 1084.4 547.5 1083.6 549.8 1081.8 C552.1 1080 554.2 1073.9 554.8 1071.8 C555.4 1069.7 555.5 1066.8 553.8 1067.7Z" fill="#dcdacd" stroke="#e9dd9c" stroke-width="0.7" stroke-linejoin="round"/>
<path d="M510.5 970.1 C509 971.9 502.9 980.6 501.4 983.2 C499.9 985.8 499.5 987.4 500.4 987.2 C501.3 987.1 505.8 984.6 507.5 982.2 C509.2 979.8 511.1 972.9 511.5 971.1 C511.9 969.3 512 968.3 510.5 970.1Z" fill="#c6bcab" stroke="#e9dd9c" stroke-width="0.7" stroke-linejoin="round"/>
<path d="M507.5 1011.4 C506 1011.4 499.9 1017.9 498.4 1021.4 C496.9 1024.9 496.3 1033 497.4 1034.5 C498.5 1036 503.8 1033.5 505.5 1031.5 C507.2 1029.5 508.2 1024.4 508.5 1021.4 C508.8 1018.4 509 1011.4 507.5 1011.4Z" fill="#c6bcab" stroke="#e9dd9c" stroke-width="0.7" stroke-linejoin="round"/>
<path d="M590 1010.4 C587.6 1010.1 574.4 1017 569.9 1021.4 C565.4 1025.8 558.6 1037.8 559.8 1039.6 C561 1041.4 574 1035.9 577.9 1033.5 C581.8 1031.1 584.2 1026.9 586 1023.4 C587.8 1019.9 592.4 1010.7 590 1010.4Z" fill="#c6bcab" stroke="#e9dd9c" stroke-width="0.7" stroke-linejoin="round"/>
<path d="M656 895.5 C654.9 896.1 650.8 897.9 648.4 899.5 C646 901.1 642.1 904.1 640.3 906.5 C638.5 908.9 636.9 912.8 636.3 915.5 C635.7 918.2 637.2 922.5 636.3 924.8 C635.4 927.1 632.7 929.4 630.3 930.9 C627.9 932.4 622.7 931.8 620 934.5 C617.3 937.2 613.4 946.8 612.2 949" fill="none" stroke="#70d4ea" stroke-width="6"/>
<path d="M620 934.5 C618.8 936.7 614.9 945.3 612.2 949 C609.5 952.7 605.4 956 602.1 959 C598.8 962 593 966.4 590 969.1 C587 971.8 585 975.1 582 977.2 C579 979.3 572.3 981.1 569.9 983.2 C567.5 985.3 567 988.2 565.8 991.2 C564.6 994.2 564.2 1000.3 561.8 1003.3 C559.4 1006.3 551.8 1008.7 549.8 1011.4 C547.8 1014.1 549.6 1018.4 548.7 1021.4 C547.8 1024.4 544.5 1030 543.7 1031.5" fill="none" stroke="#70d4ea" stroke-width="2.6"/>
<path d="M612.2 933.9 C612.5 933.3 619.5 935.4 622.2 934.9 C624.9 934.4 630.6 930.3 630.3 930.9 C630 931.5 622.9 938.4 620.2 938.9 C617.5 939.4 611.9 934.5 612.2 933.9Z" fill="#70d4ea" stroke="none" stroke-width="0.8" stroke-linejoin="round"/>
<path d="M14 839 C17.5 838.9 32.5 838.2 40.3 838.4 C48.1 838.6 66.1 839.3 72.5 840.6 C78.9 841.9 84.8 848.3 88.6 848.4 C92.4 848.5 97.5 842.5 100.7 841.2 C103.9 839.9 109.8 838.5 112.7 838.4 C115.6 838.3 120.7 838.2 122.8 840.2 C124.9 842.2 127.5 849.4 128.8 853.3 C130.1 857.2 131.3 865.7 132.9 869.4 C134.5 873.1 139 878.2 140.9 881.4 C142.8 884.6 144.6 890.4 147 893.5 C149.4 896.6 155.5 903.4 159 904.6 C162.5 905.8 167.5 903.5 173.1 902.6 C178.7 901.7 196.2 898.2 201.3 897.5 C206.4 896.8 208.2 896.8 211.4 897.5 C214.6 898.2 221.1 901.7 225.5 902.6 C229.9 903.5 241.8 906.9 244.6 904.6 C247.4 902.3 247.1 889.5 246.8 885.5 C246.5 881.5 242 877.5 242.6 874.4 C243.2 871.3 248.3 864.8 251.6 862.3 C254.9 859.8 263.1 857.8 267.7 855.3 C272.3 852.8 281.3 845 285.9 843.2 C290.5 841.4 297.2 842.3 302 842 C306.8 841.7 316.7 840.6 322.1 841.2 C327.5 841.8 337.6 845 342.2 846.2 C346.8 847.4 354.7 848.1 356.5 850.4 C358.3 852.7 355.4 859.9 355.5 863.3 C355.6 866.7 355.3 873.2 357 876 C358.7 878.8 365.7 884.4 368 884 C370.3 883.6 372.3 875.2 374 873 C375.7 870.8 378.2 868.4 381 867.2 C383.8 866 391.1 863.8 395 864 C398.9 864.2 406.2 867.2 410.5 868.4 C414.8 869.6 423.1 872.3 427.6 872.8 C432.1 873.3 441 872.3 444.2 871.8 C447.4 871.3 447.2 869.6 451.4 869.4 C455.6 869.2 471.3 870.5 475.6 870.6 C479.9 870.7 480.2 869.4 483.4 870.2 C486.6 871 496.9 875.8 499.7 876.6 C502.5 877.4 502.7 876.6 504.5 876 C506.3 875.4 508.8 872.5 513 871.8 C517.2 871.1 531.6 870.6 535.9 870.6 C540.2 870.6 541.7 872.5 545.6 871.8 C549.5 871.1 560.1 867.6 564.9 865.7 C569.7 863.8 578.6 859.6 581.8 857.3 C585 855 587.6 851.2 589.1 848.8 C590.6 846.4 591.6 841.8 592.7 839.2 C593.8 836.6 595.6 831.8 597.5 829.5 C599.4 827.2 604.8 823.9 607.2 822.3 C609.6 820.7 613.3 818.4 615.7 817.4 C618.1 816.4 623.2 816.4 625.3 815 C627.4 813.6 629.1 807.4 631.4 806.6 C633.7 805.8 639.5 809.2 642.2 809 C644.9 808.8 649.3 805.8 651.9 804.8 C654.5 803.8 660.7 801.9 662 801.5" fill="none" stroke="#8d1a56" stroke-width="4" stroke-dasharray="22 8.5"/>
<path d="M365.4 749.8 C367.3 749.6 381.8 749.8 383 750.7 C384.2 751.6 386.9 764.9 387.8 766.5 C388.7 768.1 397.9 779.5 399.4 781.4 C400.9 783.3 414.8 799.3 416 801.4 C417.2 803.5 420.6 819.4 421 821.3 C421.4 823.2 424.2 836 424.3 837.9 C424.4 839.8 422.9 854.8 423 856.2 C423.1 857.6 425.5 863.3 426 864.5 C426.5 865.7 431.1 877.6 431.5 878.5 C431.9 879.4 432.5 881.1 434 881.8 C435.5 882.5 456.7 888.9 459.2 891.6 C461.7 894.3 479.1 927.3 480.3 931.9 C481.5 936.5 481.8 973.4 481.3 977.2 C480.8 981 472.7 1001.2 471.2 1003.3 C469.7 1005.4 455.5 1015.7 453.1 1017.4 C450.7 1019.1 429.1 1033.7 427 1035.5 C424.9 1037.3 415.4 1049.4 413.9 1050.6 C412.4 1051.8 401.6 1057.4 399.8 1057.3 C398 1057.2 383.2 1050.1 380.7 1048.6 C378.2 1047.1 355.7 1033.1 352.5 1029.5 C349.3 1025.9 322.7 986 320.3 981.2 C317.9 976.4 308 942.1 306.6 938.9 C305.2 935.7 295.2 923.2 293.9 921.5 C292.6 919.8 283.4 909.4 281.8 907.6 C280.2 905.8 265.1 890.1 264.1 887.5 C263.1 884.9 263.3 862.8 263.7 859.3 C264.1 855.8 268.1 824.3 270.8 821 C273.5 817.7 310.8 798.8 314 796.9 C317.2 795 330 787.3 331.2 785.8 C332.4 784.3 334.8 770.3 335.6 768.7 C336.4 767.1 345.1 756.3 346.7 755.3 C348.3 754.3 363.5 750 365.4 749.8Z" fill="none" stroke="#0a0a0a" stroke-width="5.6" stroke-linejoin="round"/>
<rect x="28.8" y="917.2" width="124.8" height="175.1" fill="#e8e6dc" stroke="none" stroke-width="0" fill-opacity="0.47"/>
<rect x="28.8" y="917.2" width="124.8" height="175.1" fill="none" stroke="#0a0a0a" stroke-width="1.75" />
<circle cx="55.8" cy="942.9" r="20.6" fill="#ff7300" stroke="#0a0a0a" stroke-width="1.6" />
<circle cx="56.4" cy="986.2" r="16.5" fill="#ffde85" stroke="#0a0a0a" stroke-width="1.6" />
<circle cx="56.8" cy="1023.5" r="11.8" fill="#bff2ec" stroke="#0a0a0a" stroke-width="1.6" />
<circle cx="57" cy="1051.6" r="5.7" fill="#10b3a3" stroke="#0a0a0a" stroke-width="1.6" />
<circle cx="57.2" cy="1075.4" r="3.2" fill="#0b4a8b" stroke="#0a0a0a" stroke-width="1.2" />
<line x1="94.9" y1="1063" x2="94.9" y2="968" stroke="#0a0a0a" stroke-width="1.5" />
<polygon points="94.9,959.6 89.9,971 99.9,971" fill="#0a0a0a" stroke="none" stroke-width="1" />
<text x="119.6" y="1007.5" font-size="20" font-family='"Liberation Sans", "DejaVu Sans", sans-serif' fill="#1a1a1a" text-anchor="middle" transform="rotate(-90 119.6 1007.5)" textLength="84" lengthAdjust="spacingAndGlyphs">Increasing</text>
<text x="141.7" y="1004.7" font-size="20" font-family='"Liberation Sans", "DejaVu Sans", sans-serif' fill="#1a1a1a" text-anchor="middle" transform="rotate(-90 141.7 1004.7)" textLength="110.3" lengthAdjust="spacingAndGlyphs">concentration</text>
<circle cx="67.4" cy="748.4" r="16" fill="#ff7300" stroke="#111" stroke-width="0.8" />
<circle cx="95.6" cy="737.9" r="3" fill="#0b4a8b" stroke="#111" stroke-width="0.8" />
<circle cx="129.8" cy="740.3" r="9.5" fill="#bff2ec" stroke="#111" stroke-width="0.8" />
<circle cx="168.3" cy="737.9" r="4.5" fill="#10b3a3" stroke="#111" stroke-width="0.8" />
<circle cx="205.6" cy="739.9" r="9.5" fill="#bff2ec" stroke="#111" stroke-width="0.8" />
<circle cx="240.7" cy="745.4" r="4.5" fill="#10b3a3" stroke="#111" stroke-width="0.8" />
<circle cx="281.1" cy="743.3" r="4.5" fill="#10b3a3" stroke="#111" stroke-width="0.8" />
<circle cx="312.3" cy="752.6" r="3" fill="#0b4a8b" stroke="#111" stroke-width="0.8" />
<circle cx="354.3" cy="747.8" r="4.5" fill="#10b3a3" stroke="#111" stroke-width="0.8" />
<circle cx="383.6" cy="747.4" r="4.5" fill="#10b3a3" stroke="#111" stroke-width="0.8" />
<circle cx="426.9" cy="747.8" r="4.5" fill="#10b3a3" stroke="#111" stroke-width="0.8" />
<circle cx="462" cy="747.8" r="4.5" fill="#10b3a3" stroke="#111" stroke-width="0.8" />
<circle cx="503.8" cy="751.8" r="9.5" fill="#bff2ec" stroke="#111" stroke-width="0.8" />
<circle cx="538.3" cy="752.6" r="4.5" fill="#10b3a3" stroke="#111" stroke-width="0.8" />
<circle cx="575.1" cy="751.8" r="4.5" fill="#10b3a3" stroke="#111" stroke-width="0.8" />
<circle cx="618.8" cy="750" r="4.5" fill="#10b3a3" stroke="#111" stroke-width="0.8" />
<circle cx="51.5" cy="786.6" r="16" fill="#ff7300" stroke="#111" stroke-width="0.8" />
<circle cx="93.2" cy="783.4" r="9.5" fill="#bff2ec" stroke="#111" stroke-width="0.8" />
<circle cx="129.4" cy="786.6" r="3" fill="#0b4a8b" stroke="#111" stroke-width="0.8" />
<circle cx="171.1" cy="787.8" r="12.6" fill="#ffde85" stroke="#111" stroke-width="0.8" />
<circle cx="219.5" cy="782.4" r="16" fill="#ff7300" stroke="#111" stroke-width="0.8" />
<circle cx="244.7" cy="787.6" r="4.5" fill="#10b3a3" stroke="#111" stroke-width="0.8" />
<circle cx="281.5" cy="793.7" r="16" fill="#ff7300" stroke="#111" stroke-width="0.8" />
<circle cx="320" cy="790.2" r="16" fill="#ff7300" stroke="#111" stroke-width="0.8" />
<circle cx="355.4" cy="786" r="4.5" fill="#10b3a3" stroke="#111" stroke-width="0.8" />
<circle cx="393.1" cy="789" r="4.5" fill="#10b3a3" stroke="#111" stroke-width="0.8" />
<circle cx="431.4" cy="787.6" r="4.5" fill="#10b3a3" stroke="#111" stroke-width="0.8" />
<circle cx="466.5" cy="794.5" r="3" fill="#0b4a8b" stroke="#111" stroke-width="0.8" />
<circle cx="542.4" cy="791" r="4.5" fill="#10b3a3" stroke="#111" stroke-width="0.8" />
<circle cx="577" cy="802.1" r="3" fill="#0b4a8b" stroke="#111" stroke-width="0.8" />
<circle cx="619.6" cy="798.9" r="3" fill="#0b4a8b" stroke="#111" stroke-width="0.8" />
<circle cx="56.1" cy="832.7" r="4.5" fill="#10b3a3" stroke="#111" stroke-width="0.8" />
<circle cx="92.6" cy="834.9" r="12.6" fill="#ffde85" stroke="#111" stroke-width="0.8" />
<circle cx="126.5" cy="832.3" r="9.5" fill="#bff2ec" stroke="#111" stroke-width="0.8" />
<circle cx="167.4" cy="833.9" r="12.6" fill="#ffde85" stroke="#111" stroke-width="0.8" />
<circle cx="202.8" cy="836.1" r="9.5" fill="#bff2ec" stroke="#111" stroke-width="0.8" />
<circle cx="233.4" cy="833.9" r="4.5" fill="#10b3a3" stroke="#111" stroke-width="0.8" />
<circle cx="270.1" cy="836.3" r="12.6" fill="#ffde85" stroke="#111" stroke-width="0.8" />
<circle cx="322.2" cy="831.5" r="4.5" fill="#10b3a3" stroke="#111" stroke-width="0.8" />
<circle cx="352.8" cy="835.9" r="9.5" fill="#bff2ec" stroke="#111" stroke-width="0.8" />
<circle cx="387.9" cy="838.6" r="3" fill="#0b4a8b" stroke="#111" stroke-width="0.8" />
<circle cx="425.5" cy="844.4" r="3" fill="#0b4a8b" stroke="#111" stroke-width="0.8" />
<circle cx="468.1" cy="844.4" r="3" fill="#0b4a8b" stroke="#111" stroke-width="0.8" />
<circle cx="501.5" cy="827.9" r="4.5" fill="#10b3a3" stroke="#111" stroke-width="0.8" />
<circle cx="93.8" cy="876.4" r="4.5" fill="#10b3a3" stroke="#111" stroke-width="0.8" />
<circle cx="289.1" cy="876.4" r="3" fill="#0b4a8b" stroke="#111" stroke-width="0.8" />
<circle cx="355.4" cy="878.2" r="16" fill="#ff7300" stroke="#111" stroke-width="0.8" />
<circle cx="393.1" cy="880" r="4.5" fill="#10b3a3" stroke="#111" stroke-width="0.8" />
<circle cx="428.3" cy="882.6" r="3" fill="#0b4a8b" stroke="#111" stroke-width="0.8" />
<polygon points="609.5,700.9 600.4,753.6 615.5,740.5 633.2,748.6" fill="#0a0a0a" stroke="none" stroke-width="1" />
<text x="608.9" y="692.3" font-size="20" font-family='"Liberation Serif", "DejaVu Serif", serif' fill="#111" text-anchor="middle" transform="rotate(-15 608.9 692.3)">N</text>
<path d="M640.3 906.6 L553.9 903.8 L553.4 893.8 L505.9 904.1 L554 917.1 L554 907.3 L640.3 910.2 Z" fill="#0a0a0a" stroke="#fff" stroke-width="1.3" stroke-linejoin="miter"/>
<text x="548.7" y="890" font-size="22" font-family='"Liberation Sans", "DejaVu Sans", sans-serif' fill="#1a1a1a" transform="rotate(2.5 548.7 890)" textLength="88" lengthAdjust="spacingAndGlyphs">290-295°</text>
<text x="509.5" y="944.5" font-size="22" font-family='"Liberation Sans", "DejaVu Sans", sans-serif' fill="#1a1a1a" transform="rotate(2.7 509.5 944.5)" textLength="122" lengthAdjust="spacingAndGlyphs">Ice direction</text>
<rect x="401.8" y="1081.8" width="208.4" height="9.7" fill="none" stroke="#0a0a0a" stroke-width="1" />
<rect x="401.8" y="1081.8" width="27.2" height="9.7" fill="#0a0a0a" stroke="none" stroke-width="1" />
<rect x="453.1" y="1081.8" width="27.6" height="9.7" fill="#0a0a0a" stroke="none" stroke-width="1" />
<rect x="505.1" y="1081.8" width="105.1" height="9.7" fill="#0a0a0a" stroke="none" stroke-width="1" />
<text x="406.3" y="1077.8" font-size="17.5" font-family='"Liberation Sans", "DejaVu Sans", sans-serif' fill="#1a1a1a" text-anchor="middle" textLength="27" lengthAdjust="spacingAndGlyphs">140</text>
<text x="456.2" y="1077.8" font-size="17.5" font-family='"Liberation Sans", "DejaVu Sans", sans-serif' fill="#1a1a1a" text-anchor="middle" textLength="18" lengthAdjust="spacingAndGlyphs">70</text>
<text x="505" y="1077.8" font-size="17.5" font-family='"Liberation Sans", "DejaVu Sans", sans-serif' fill="#1a1a1a" text-anchor="middle">0</text>
<text x="611" y="1077.8" font-size="17.5" font-family='"Liberation Sans", "DejaVu Sans", sans-serif' fill="#1a1a1a" text-anchor="middle" textLength="44" lengthAdjust="spacingAndGlyphs">140 m</text>
</g>
<rect x="18.1" y="674.6" width="635.3" height="428.8" fill="none" stroke="#0a0a0a" stroke-width="1.7" />
<line x1="230.5" y1="674.4" x2="230.5" y2="679.5" stroke="#0a0a0a" stroke-width="1.3" />
<line x1="461.2" y1="674.4" x2="461.2" y2="679.5" stroke="#0a0a0a" stroke-width="1.3" />
<line x1="63.6" y1="1103.4" x2="63.6" y2="1098" stroke="#0a0a0a" stroke-width="1.3" />
<line x1="295.1" y1="1103.4" x2="295.1" y2="1098" stroke="#0a0a0a" stroke-width="1.3" />
<line x1="526.6" y1="1103.4" x2="526.6" y2="1098" stroke="#0a0a0a" stroke-width="1.3" />
<line x1="18" y1="845.9" x2="23.5" y2="845.9" stroke="#0a0a0a" stroke-width="1.3" />
<line x1="18" y1="1075.8" x2="23.5" y2="1075.8" stroke="#0a0a0a" stroke-width="1.3" />
<line x1="654" y1="750.2" x2="648.5" y2="750.2" stroke="#0a0a0a" stroke-width="1.3" />
<line x1="654" y1="981.2" x2="648.5" y2="981.2" stroke="#0a0a0a" stroke-width="1.3" />
<text x="227" y="669.8" font-size="13.8" font-family='"Liberation Sans", "DejaVu Sans", sans-serif' fill="#a9a99c" text-anchor="middle" font-weight="bold" textLength="49.5" lengthAdjust="spacingAndGlyphs">557100</text>
<text x="457.7" y="669.8" font-size="13.8" font-family='"Liberation Sans", "DejaVu Sans", sans-serif' fill="#a9a99c" text-anchor="middle" font-weight="bold" textLength="49.5" lengthAdjust="spacingAndGlyphs">557400</text>
<text x="65.1" y="1118.7" font-size="13.8" font-family='"Liberation Sans", "DejaVu Sans", sans-serif' fill="#a9a99c" text-anchor="middle" font-weight="bold" textLength="49.5" lengthAdjust="spacingAndGlyphs">556800</text>
<text x="296.6" y="1118.7" font-size="13.8" font-family='"Liberation Sans", "DejaVu Sans", sans-serif' fill="#a9a99c" text-anchor="middle" font-weight="bold" textLength="49.5" lengthAdjust="spacingAndGlyphs">557100</text>
<text x="528.1" y="1118.7" font-size="13.8" font-family='"Liberation Sans", "DejaVu Sans", sans-serif' fill="#a9a99c" text-anchor="middle" font-weight="bold" textLength="49.5" lengthAdjust="spacingAndGlyphs">557400</text>
<text x="12.5" y="840.5" font-size="13.8" font-family='"Liberation Sans", "DejaVu Sans", sans-serif' fill="#a9a99c" text-anchor="middle" font-weight="bold" transform="rotate(-90 12.5 840.5)" textLength="57.5" lengthAdjust="spacingAndGlyphs">7134800</text>
<text x="12.5" y="1075.5" font-size="13.8" font-family='"Liberation Sans", "DejaVu Sans", sans-serif' fill="#a9a99c" text-anchor="middle" font-weight="bold" transform="rotate(-90 12.5 1075.5)" textLength="57.5" lengthAdjust="spacingAndGlyphs">7134500</text>
<text x="669.5" y="751.5" font-size="13.8" font-family='"Liberation Sans", "DejaVu Sans", sans-serif' fill="#a9a99c" text-anchor="middle" font-weight="bold" transform="rotate(-90 669.5 751.5)" textLength="57.5" lengthAdjust="spacingAndGlyphs">7134800</text>
<text x="669.5" y="982" font-size="13.8" font-family='"Liberation Sans", "DejaVu Sans", sans-serif' fill="#a9a99c" text-anchor="middle" font-weight="bold" transform="rotate(-90 669.5 982)" textLength="57.5" lengthAdjust="spacingAndGlyphs">7134500</text>
<text x="21.6" y="709.3" font-size="41.5" font-family='"Liberation Sans", "DejaVu Sans", sans-serif' fill="#111" font-weight="bold" textLength="83.5" lengthAdjust="spacingAndGlyphs">SUM</text>
<text x="117.5" y="708.6" font-size="28.5" font-family='"Liberation Sans", "DejaVu Sans", sans-serif' fill="#111" font-weight="bold" textLength="224" lengthAdjust="spacingAndGlyphs">[Mg + Cr + Nb + Ni]</text>
</g>
<text x="642" y="667" font-size="33" font-family='"Liberation Sans", "DejaVu Sans", sans-serif' fill="#1a1a1a" text-anchor="middle" font-weight="bold">e</text>
<text x="1302.5" y="667" font-size="33" font-family='"Liberation Sans", "DejaVu Sans", sans-serif' fill="#1a1a1a" text-anchor="middle" font-weight="bold">f</text>
<text x="1948.3" y="662" font-size="33" font-family='"Liberation Sans", "DejaVu Sans", sans-serif' fill="#1a1a1a" text-anchor="middle" font-weight="bold">g</text>
<line x1="107.6" y1="1216.2" x2="115.2" y2="1216.2" stroke="#f0e4cb" stroke-width="3.4"/>
<line x1="137.8" y1="1216.2" x2="653.3" y2="1216.2" stroke="#f0e4cb" stroke-width="3.4" stroke-dasharray="29.1 16.35"/>
<text x="109.7" y="1238.3" font-size="21" font-family='"Liberation Sans", "DejaVu Sans", sans-serif' fill="#f0e4cb" textLength="43.3" lengthAdjust="spacingAndGlyphs">3 SD</text>
<line x1="107.6" y1="1274.4" x2="115.2" y2="1274.4" stroke="#c0a97e" stroke-width="3.4"/>
<line x1="137.8" y1="1274.4" x2="653.3" y2="1274.4" stroke="#c0a97e" stroke-width="3.4" stroke-dasharray="29.1 16.35"/>
<text x="109.7" y="1297" font-size="21" font-family='"Liberation Sans", "DejaVu Sans", sans-serif' fill="#c0a97e" textLength="43.3" lengthAdjust="spacingAndGlyphs">2 SD</text>
<line x1="107.6" y1="1337.8" x2="115.2" y2="1337.8" stroke="#7f6c4a" stroke-width="3.4"/>
<line x1="137.8" y1="1337.8" x2="653.3" y2="1337.8" stroke="#7f6c4a" stroke-width="3.4" stroke-dasharray="29.1 16.35"/>
<text x="109.7" y="1359.4" font-size="21" font-family='"Liberation Sans", "DejaVu Sans", sans-serif' fill="#7f6c4a" textLength="43.3" lengthAdjust="spacingAndGlyphs">1 SD</text>
<text x="104" y="1447.3" font-size="14.6" font-family='"DejaVu Sans", "Liberation Sans", sans-serif' fill="#000" text-anchor="end" stroke="#000" stroke-width="0.25">0</text>
<text x="104" y="1423.7" font-size="14.6" font-family='"DejaVu Sans", "Liberation Sans", sans-serif' fill="#000" text-anchor="end" stroke="#000" stroke-width="0.25">10</text>
<text x="104" y="1400.1" font-size="14.6" font-family='"DejaVu Sans", "Liberation Sans", sans-serif' fill="#000" text-anchor="end" stroke="#000" stroke-width="0.25">20</text>
<text x="104" y="1376.4" font-size="14.6" font-family='"DejaVu Sans", "Liberation Sans", sans-serif' fill="#000" text-anchor="end" stroke="#000" stroke-width="0.25">30</text>
<text x="104" y="1352.8" font-size="14.6" font-family='"DejaVu Sans", "Liberation Sans", sans-serif' fill="#000" text-anchor="end" stroke="#000" stroke-width="0.25">40</text>
<text x="104" y="1329.2" font-size="14.6" font-family='"DejaVu Sans", "Liberation Sans", sans-serif' fill="#000" text-anchor="end" stroke="#000" stroke-width="0.25">50</text>
<text x="104" y="1305.6" font-size="14.6" font-family='"DejaVu Sans", "Liberation Sans", sans-serif' fill="#000" text-anchor="end" stroke="#000" stroke-width="0.25">60</text>
<text x="104" y="1282" font-size="14.6" font-family='"DejaVu Sans", "Liberation Sans", sans-serif' fill="#000" text-anchor="end" stroke="#000" stroke-width="0.25">70</text>
<text x="104" y="1258.3" font-size="14.6" font-family='"DejaVu Sans", "Liberation Sans", sans-serif' fill="#000" text-anchor="end" stroke="#000" stroke-width="0.25">80</text>
<text x="104" y="1234.7" font-size="14.6" font-family='"DejaVu Sans", "Liberation Sans", sans-serif' fill="#000" text-anchor="end" stroke="#000" stroke-width="0.25">90</text>
<text x="104" y="1211.1" font-size="14.6" font-family='"DejaVu Sans", "Liberation Sans", sans-serif' fill="#000" text-anchor="end" stroke="#000" stroke-width="0.25">100</text>
<text x="104" y="1187.5" font-size="14.6" font-family='"DejaVu Sans", "Liberation Sans", sans-serif' fill="#000" text-anchor="end" stroke="#000" stroke-width="0.25">110</text>
<text x="104" y="1163.9" font-size="14.6" font-family='"DejaVu Sans", "Liberation Sans", sans-serif' fill="#000" text-anchor="end" stroke="#000" stroke-width="0.25">120</text>
<text x="160" y="1464.4" font-size="14.3" font-family='"DejaVu Sans", "Liberation Sans", sans-serif' fill="#000" text-anchor="middle" stroke="#000" stroke-width="0.25">−2.0</text>
<text x="215.2" y="1464.4" font-size="14.3" font-family='"DejaVu Sans", "Liberation Sans", sans-serif' fill="#000" text-anchor="middle" stroke="#000" stroke-width="0.25">−1.5</text>
<text x="270.5" y="1464.4" font-size="14.3" font-family='"DejaVu Sans", "Liberation Sans", sans-serif' fill="#000" text-anchor="middle" stroke="#000" stroke-width="0.25">−1.0</text>
<text x="325.8" y="1464.4" font-size="14.3" font-family='"DejaVu Sans", "Liberation Sans", sans-serif' fill="#000" text-anchor="middle" stroke="#000" stroke-width="0.25">−0.5</text>
<text x="381" y="1464.4" font-size="14.3" font-family='"DejaVu Sans", "Liberation Sans", sans-serif' fill="#000" text-anchor="middle" stroke="#000" stroke-width="0.25">0.0</text>
<text x="436.2" y="1464.4" font-size="14.3" font-family='"DejaVu Sans", "Liberation Sans", sans-serif' fill="#000" text-anchor="middle" stroke="#000" stroke-width="0.25">0.5</text>
<text x="491.5" y="1464.4" font-size="14.3" font-family='"DejaVu Sans", "Liberation Sans", sans-serif' fill="#000" text-anchor="middle" stroke="#000" stroke-width="0.25">1.0</text>
<text x="546.8" y="1464.4" font-size="14.3" font-family='"DejaVu Sans", "Liberation Sans", sans-serif' fill="#000" text-anchor="middle" stroke="#000" stroke-width="0.25">1.5</text>
<text x="602" y="1464.4" font-size="14.3" font-family='"DejaVu Sans", "Liberation Sans", sans-serif' fill="#000" text-anchor="middle" stroke="#000" stroke-width="0.25">2.0</text>
<text x="373" y="1485.8" font-size="20.5" font-family='"Liberation Sans", "DejaVu Sans", sans-serif' fill="#1a1a1a" text-anchor="middle" textLength="118.8" lengthAdjust="spacingAndGlyphs">Normal score</text>
<text x="30" y="1297" font-size="24" font-family='"Liberation Sans", "DejaVu Sans", sans-serif' fill="#1a1a1a" text-anchor="middle" font-weight="bold" transform="rotate(-90 30 1297)" textLength="180.5" lengthAdjust="spacingAndGlyphs">Normalized sum</text>
<text x="60.8" y="1293.5" font-size="22" font-family='"Liberation Sans", "DejaVu Sans", sans-serif' fill="#1a1a1a" text-anchor="middle" transform="rotate(-90 60.8 1293.5)" textLength="218.5" lengthAdjust="spacingAndGlyphs">[relative abundance]</text>
<circle cx="124" cy="1441.9" r="2.5" fill="#4b4fa3" stroke="#1a1a1a" stroke-width="0.8" />
<circle cx="173.4" cy="1440.2" r="2.5" fill="#4b4fa3" stroke="#1a1a1a" stroke-width="0.8" />
<circle cx="199.5" cy="1437.8" r="2.5" fill="#4b4fa3" stroke="#1a1a1a" stroke-width="0.8" />
<circle cx="218.1" cy="1435" r="2.5" fill="#4b4fa3" stroke="#1a1a1a" stroke-width="0.8" />
<circle cx="232.8" cy="1434.7" r="2.5" fill="#4b4fa3" stroke="#1a1a1a" stroke-width="0.8" />
<circle cx="245.6" cy="1434.7" r="2.5" fill="#4b4fa3" stroke="#1a1a1a" stroke-width="0.8" />
<circle cx="256.5" cy="1433.5" r="2.5" fill="#4b4fa3" stroke="#1a1a1a" stroke-width="0.8" />
<circle cx="266.5" cy="1432.1" r="2.5" fill="#4b4fa3" stroke="#1a1a1a" stroke-width="0.8" />
<circle cx="275.5" cy="1431.9" r="2.5" fill="#4b4fa3" stroke="#1a1a1a" stroke-width="0.8" />
<circle cx="284.1" cy="1431.4" r="2.5" fill="#4b4fa3" stroke="#1a1a1a" stroke-width="0.8" />
<circle cx="292.2" cy="1431.2" r="2.5" fill="#4b4fa3" stroke="#1a1a1a" stroke-width="0.8" />
<circle cx="299.8" cy="1430.5" r="2.5" fill="#4b4fa3" stroke="#1a1a1a" stroke-width="0.8" />
<circle cx="306.7" cy="1430.2" r="2.5" fill="#4b4fa3" stroke="#1a1a1a" stroke-width="0.8" />
<circle cx="313.5" cy="1429.7" r="2.5" fill="#4b4fa3" stroke="#1a1a1a" stroke-width="0.8" />
<circle cx="320" cy="1429.3" r="2.5" fill="#4b4fa3" stroke="#1a1a1a" stroke-width="0.8" />
<circle cx="326.4" cy="1429.3" r="2.5" fill="#4b4fa3" stroke="#1a1a1a" stroke-width="0.8" />
<circle cx="332.5" cy="1426.9" r="2.5" fill="#4b4fa3" stroke="#1a1a1a" stroke-width="0.8" />
<circle cx="338.5" cy="1426.9" r="2.5" fill="#4b4fa3" stroke="#1a1a1a" stroke-width="0.8" />
<circle cx="344.2" cy="1425.5" r="2.5" fill="#4b4fa3" stroke="#1a1a1a" stroke-width="0.8" />
<circle cx="349.9" cy="1423.6" r="2.5" fill="#4b4fa3" stroke="#1a1a1a" stroke-width="0.8" />
<circle cx="355.6" cy="1422.9" r="2.5" fill="#4b4fa3" stroke="#1a1a1a" stroke-width="0.8" />
<circle cx="361.3" cy="1422.4" r="2.5" fill="#4b4fa3" stroke="#1a1a1a" stroke-width="0.8" />
<circle cx="367" cy="1422.1" r="2.5" fill="#4b4fa3" stroke="#1a1a1a" stroke-width="0.8" />
<circle cx="372.4" cy="1421.7" r="2.5" fill="#4b4fa3" stroke="#1a1a1a" stroke-width="0.8" />
<circle cx="378.1" cy="1420.7" r="2.5" fill="#4b4fa3" stroke="#1a1a1a" stroke-width="0.8" />
<circle cx="383.6" cy="1420" r="2.5" fill="#4b4fa3" stroke="#1a1a1a" stroke-width="0.8" />
<circle cx="389.3" cy="1418.6" r="2.5" fill="#4b4fa3" stroke="#1a1a1a" stroke-width="0.8" />
<circle cx="394.8" cy="1417.1" r="3.1" fill="#3bb0a1" stroke="#1a1a1a" stroke-width="0.8" />
<circle cx="400.3" cy="1415.2" r="3.1" fill="#3bb0a1" stroke="#1a1a1a" stroke-width="0.8" />
<circle cx="406" cy="1414.1" r="3.1" fill="#3bb0a1" stroke="#1a1a1a" stroke-width="0.8" />
<circle cx="411.7" cy="1413.3" r="3.1" fill="#3bb0a1" stroke="#1a1a1a" stroke-width="0.8" />
<circle cx="417.4" cy="1412.2" r="3.1" fill="#3bb0a1" stroke="#1a1a1a" stroke-width="0.8" />
<circle cx="423.3" cy="1409.5" r="3.1" fill="#3bb0a1" stroke="#1a1a1a" stroke-width="0.8" />
<circle cx="429.5" cy="1406.7" r="3.1" fill="#3bb0a1" stroke="#1a1a1a" stroke-width="0.8" />
<circle cx="435.7" cy="1406.2" r="3.1" fill="#3bb0a1" stroke="#1a1a1a" stroke-width="0.8" />
<circle cx="442.1" cy="1403.6" r="3.1" fill="#3bb0a1" stroke="#1a1a1a" stroke-width="0.8" />
<circle cx="448.5" cy="1399.8" r="3.1" fill="#3bb0a1" stroke="#1a1a1a" stroke-width="0.8" />
<circle cx="455.4" cy="1393.9" r="3.1" fill="#3bb0a1" stroke="#1a1a1a" stroke-width="0.8" />
<circle cx="462.5" cy="1389.6" r="3.1" fill="#3bb0a1" stroke="#1a1a1a" stroke-width="0.8" />
<circle cx="470.1" cy="1387.2" r="3.1" fill="#3bb0a1" stroke="#1a1a1a" stroke-width="0.8" />
<circle cx="477.7" cy="1375.3" r="4.6" fill="#cdf3ef" stroke="#1a1a1a" stroke-width="0.9" />
<circle cx="486.1" cy="1373.2" r="4.6" fill="#cdf3ef" stroke="#1a1a1a" stroke-width="0.9" />
<circle cx="495.1" cy="1352.5" r="6" fill="#ffde85" stroke="#1a1a1a" stroke-width="0.9" />
<circle cx="505.3" cy="1348.3" r="6" fill="#ffde85" stroke="#1a1a1a" stroke-width="0.9" />
<circle cx="516.5" cy="1337.3" r="6" fill="#ffde85" stroke="#1a1a1a" stroke-width="0.9" />
<circle cx="529" cy="1310.5" r="6" fill="#ffde85" stroke="#1a1a1a" stroke-width="0.9" />
<circle cx="544" cy="1267.7" r="7.8" fill="#e86c08" stroke="#1a1a1a" stroke-width="1.1" />
<circle cx="562.3" cy="1240.9" r="7.8" fill="#e86c08" stroke="#1a1a1a" stroke-width="1.1" />
<circle cx="588.4" cy="1231.2" r="7.8" fill="#e86c08" stroke="#1a1a1a" stroke-width="1.1" />
<circle cx="637.6" cy="1147.8" r="7.8" fill="#e86c08" stroke="#1a1a1a" stroke-width="1.1" />
<text x="199.5" y="1454.1" font-size="15" font-family='"DejaVu Sans", "Liberation Sans", sans-serif' fill="#333" text-anchor="middle">*</text>
<text x="299.3" y="1446.3" font-size="15" font-family='"DejaVu Sans", "Liberation Sans", sans-serif' fill="#333" text-anchor="middle">*</text>
<text x="313.5" y="1445.1" font-size="15" font-family='"DejaVu Sans", "Liberation Sans", sans-serif' fill="#333" text-anchor="middle">*</text>
<text x="344.2" y="1440.6" font-size="15" font-family='"DejaVu Sans", "Liberation Sans", sans-serif' fill="#333" text-anchor="middle">*</text>
<text x="362" y="1437.2" font-size="15" font-family='"DejaVu Sans", "Liberation Sans", sans-serif' fill="#333" text-anchor="middle">*</text>
<text x="449.7" y="1416.3" font-size="15" font-family='"DejaVu Sans", "Liberation Sans", sans-serif' fill="#333" text-anchor="middle">*</text>
<text x="478.2" y="1393.1" font-size="15" font-family='"DejaVu Sans", "Liberation Sans", sans-serif' fill="#333" text-anchor="middle">*</text>
<text x="495.8" y="1371.7" font-size="15" font-family='"DejaVu Sans", "Liberation Sans", sans-serif' fill="#333" text-anchor="middle">*</text>
<text x="517.2" y="1357.9" font-size="15" font-family='"DejaVu Sans", "Liberation Sans", sans-serif' fill="#333" text-anchor="middle">*</text>
<text x="529" y="1331.1" font-size="15" font-family='"DejaVu Sans", "Liberation Sans", sans-serif' fill="#333" text-anchor="middle">*</text>
<text x="544.5" y="1290.2" font-size="15" font-family='"DejaVu Sans", "Liberation Sans", sans-serif' fill="#333" text-anchor="middle">*</text>
<text x="562.8" y="1262.9" font-size="15" font-family='"DejaVu Sans", "Liberation Sans", sans-serif' fill="#333" text-anchor="middle">*</text>
<text x="588.9" y="1255.3" font-size="15" font-family='"DejaVu Sans", "Liberation Sans", sans-serif' fill="#333" text-anchor="middle">*</text>
<text x="637.8" y="1171.4" font-size="15" font-family='"DejaVu Sans", "Liberation Sans", sans-serif' fill="#333" text-anchor="middle">*</text>
<rect x="108.6" y="1139.2" width="544.7" height="310.8" fill="none" stroke="#222" stroke-width="1.5" />
<line x1="764.8" y1="1217.1" x2="775.3" y2="1217.1" stroke="#f0e4cb" stroke-width="3.4"/>
<line x1="796.6" y1="1217.1" x2="1310.8" y2="1217.1" stroke="#f0e4cb" stroke-width="3.4" stroke-dasharray="29.1 16.35"/>
<text x="768.1" y="1237.6" font-size="21" font-family='"Liberation Sans", "DejaVu Sans", sans-serif' fill="#f0e4cb" textLength="43.3" lengthAdjust="spacingAndGlyphs">3 SD</text>
<line x1="764.8" y1="1273.9" x2="775.3" y2="1273.9" stroke="#c0a97e" stroke-width="3.4"/>
<line x1="796.6" y1="1273.9" x2="1310.8" y2="1273.9" stroke="#c0a97e" stroke-width="3.4" stroke-dasharray="29.1 16.35"/>
<text x="768.1" y="1293.9" font-size="21" font-family='"Liberation Sans", "DejaVu Sans", sans-serif' fill="#c0a97e" textLength="43.3" lengthAdjust="spacingAndGlyphs">2 SD</text>
<line x1="764.8" y1="1334.5" x2="775.3" y2="1334.5" stroke="#7f6c4a" stroke-width="3.4"/>
<line x1="796.6" y1="1334.5" x2="1310.8" y2="1334.5" stroke="#7f6c4a" stroke-width="3.4" stroke-dasharray="29.1 16.35"/>
<text x="768.1" y="1355.6" font-size="21" font-family='"Liberation Sans", "DejaVu Sans", sans-serif' fill="#7f6c4a" textLength="43.3" lengthAdjust="spacingAndGlyphs">1 SD</text>
<text x="761.7" y="1441.9" font-size="14.6" font-family='"DejaVu Sans", "Liberation Sans", sans-serif' fill="#000" text-anchor="end" stroke="#000" stroke-width="0.25">25</text>
<text x="761.7" y="1421.5" font-size="14.6" font-family='"DejaVu Sans", "Liberation Sans", sans-serif' fill="#000" text-anchor="end" stroke="#000" stroke-width="0.25">50</text>
<text x="761.7" y="1401" font-size="14.6" font-family='"DejaVu Sans", "Liberation Sans", sans-serif' fill="#000" text-anchor="end" stroke="#000" stroke-width="0.25">75</text>
<text x="761.7" y="1380.6" font-size="14.6" font-family='"DejaVu Sans", "Liberation Sans", sans-serif' fill="#000" text-anchor="end" stroke="#000" stroke-width="0.25">100</text>
<text x="761.7" y="1360.1" font-size="14.6" font-family='"DejaVu Sans", "Liberation Sans", sans-serif' fill="#000" text-anchor="end" stroke="#000" stroke-width="0.25">125</text>
<text x="761.7" y="1339.7" font-size="14.6" font-family='"DejaVu Sans", "Liberation Sans", sans-serif' fill="#000" text-anchor="end" stroke="#000" stroke-width="0.25">150</text>
<text x="761.7" y="1319.2" font-size="14.6" font-family='"DejaVu Sans", "Liberation Sans", sans-serif' fill="#000" text-anchor="end" stroke="#000" stroke-width="0.25">175</text>
<text x="761.7" y="1298.8" font-size="14.6" font-family='"DejaVu Sans", "Liberation Sans", sans-serif' fill="#000" text-anchor="end" stroke="#000" stroke-width="0.25">200</text>
<text x="761.7" y="1278.3" font-size="14.6" font-family='"DejaVu Sans", "Liberation Sans", sans-serif' fill="#000" text-anchor="end" stroke="#000" stroke-width="0.25">225</text>
<text x="761.7" y="1257.9" font-size="14.6" font-family='"DejaVu Sans", "Liberation Sans", sans-serif' fill="#000" text-anchor="end" stroke="#000" stroke-width="0.25">250</text>
<text x="761.7" y="1237.4" font-size="14.6" font-family='"DejaVu Sans", "Liberation Sans", sans-serif' fill="#000" text-anchor="end" stroke="#000" stroke-width="0.25">275</text>
<text x="761.7" y="1217" font-size="14.6" font-family='"DejaVu Sans", "Liberation Sans", sans-serif' fill="#000" text-anchor="end" stroke="#000" stroke-width="0.25">300</text>
<text x="761.7" y="1196.5" font-size="14.6" font-family='"DejaVu Sans", "Liberation Sans", sans-serif' fill="#000" text-anchor="end" stroke="#000" stroke-width="0.25">325</text>
<text x="761.7" y="1176.1" font-size="14.6" font-family='"DejaVu Sans", "Liberation Sans", sans-serif' fill="#000" text-anchor="end" stroke="#000" stroke-width="0.25">350</text>
<text x="761.7" y="1155.6" font-size="14.6" font-family='"DejaVu Sans", "Liberation Sans", sans-serif' fill="#000" text-anchor="end" stroke="#000" stroke-width="0.25">375</text>
<text x="816.9" y="1464.4" font-size="14.3" font-family='"DejaVu Sans", "Liberation Sans", sans-serif' fill="#000" text-anchor="middle" stroke="#000" stroke-width="0.25">−2.0</text>
<text x="872.2" y="1464.4" font-size="14.3" font-family='"DejaVu Sans", "Liberation Sans", sans-serif' fill="#000" text-anchor="middle" stroke="#000" stroke-width="0.25">−1.5</text>
<text x="927.4" y="1464.4" font-size="14.3" font-family='"DejaVu Sans", "Liberation Sans", sans-serif' fill="#000" text-anchor="middle" stroke="#000" stroke-width="0.25">−1.0</text>
<text x="982.7" y="1464.4" font-size="14.3" font-family='"DejaVu Sans", "Liberation Sans", sans-serif' fill="#000" text-anchor="middle" stroke="#000" stroke-width="0.25">−0.5</text>
<text x="1037.9" y="1464.4" font-size="14.3" font-family='"DejaVu Sans", "Liberation Sans", sans-serif' fill="#000" text-anchor="middle" stroke="#000" stroke-width="0.25">0.0</text>
<text x="1093.2" y="1464.4" font-size="14.3" font-family='"DejaVu Sans", "Liberation Sans", sans-serif' fill="#000" text-anchor="middle" stroke="#000" stroke-width="0.25">0.5</text>
<text x="1148.4" y="1464.4" font-size="14.3" font-family='"DejaVu Sans", "Liberation Sans", sans-serif' fill="#000" text-anchor="middle" stroke="#000" stroke-width="0.25">1.0</text>
<text x="1203.7" y="1464.4" font-size="14.3" font-family='"DejaVu Sans", "Liberation Sans", sans-serif' fill="#000" text-anchor="middle" stroke="#000" stroke-width="0.25">1.5</text>
<text x="1258.9" y="1464.4" font-size="14.3" font-family='"DejaVu Sans", "Liberation Sans", sans-serif' fill="#000" text-anchor="middle" stroke="#000" stroke-width="0.25">2.0</text>
<text x="1036.2" y="1485.8" font-size="20.5" font-family='"Liberation Sans", "DejaVu Sans", sans-serif' fill="#1a1a1a" text-anchor="middle" textLength="118.8" lengthAdjust="spacingAndGlyphs">Normal score</text>
<text x="685.5" y="1297" font-size="24" font-family='"Liberation Sans", "DejaVu Sans", sans-serif' fill="#1a1a1a" text-anchor="middle" font-weight="bold" transform="rotate(-90 685.5 1297)" textLength="180.5" lengthAdjust="spacingAndGlyphs">Normalized sum</text>
<text x="716.3" y="1293.5" font-size="22" font-family='"Liberation Sans", "DejaVu Sans", sans-serif' fill="#1a1a1a" text-anchor="middle" transform="rotate(-90 716.3 1293.5)" textLength="218.5" lengthAdjust="spacingAndGlyphs">[relative abundance]</text>
<circle cx="781.1" cy="1441.9" r="2.5" fill="#4b4fa3" stroke="#1a1a1a" stroke-width="0.8" />
<circle cx="830.5" cy="1440.4" r="2.5" fill="#4b4fa3" stroke="#1a1a1a" stroke-width="0.8" />
<circle cx="856.4" cy="1440" r="2.5" fill="#4b4fa3" stroke="#1a1a1a" stroke-width="0.8" />
<circle cx="875.2" cy="1439.2" r="2.5" fill="#4b4fa3" stroke="#1a1a1a" stroke-width="0.8" />
<circle cx="889.9" cy="1438.1" r="2.5" fill="#4b4fa3" stroke="#1a1a1a" stroke-width="0.8" />
<circle cx="902.5" cy="1437.8" r="2.5" fill="#4b4fa3" stroke="#1a1a1a" stroke-width="0.8" />
<circle cx="913.7" cy="1437.3" r="2.5" fill="#4b4fa3" stroke="#1a1a1a" stroke-width="0.8" />
<circle cx="923.7" cy="1436.2" r="2.5" fill="#4b4fa3" stroke="#1a1a1a" stroke-width="0.8" />
<circle cx="932.7" cy="1435.9" r="2.5" fill="#4b4fa3" stroke="#1a1a1a" stroke-width="0.8" />
<circle cx="941.2" cy="1435.2" r="2.5" fill="#4b4fa3" stroke="#1a1a1a" stroke-width="0.8" />
<circle cx="949.1" cy="1432.8" r="2.5" fill="#4b4fa3" stroke="#1a1a1a" stroke-width="0.8" />
<circle cx="956.4" cy="1431.9" r="2.5" fill="#4b4fa3" stroke="#1a1a1a" stroke-width="0.8" />
<circle cx="963.6" cy="1431.9" r="2.5" fill="#4b4fa3" stroke="#1a1a1a" stroke-width="0.8" />
<circle cx="970.5" cy="1430.2" r="2.5" fill="#4b4fa3" stroke="#1a1a1a" stroke-width="0.8" />
<circle cx="976.9" cy="1430" r="2.5" fill="#4b4fa3" stroke="#1a1a1a" stroke-width="0.8" />
<circle cx="983.3" cy="1430" r="2.5" fill="#4b4fa3" stroke="#1a1a1a" stroke-width="0.8" />
<circle cx="989.2" cy="1429.7" r="2.5" fill="#4b4fa3" stroke="#1a1a1a" stroke-width="0.8" />
<circle cx="995.4" cy="1427.6" r="2.5" fill="#4b4fa3" stroke="#1a1a1a" stroke-width="0.8" />
<circle cx="1001.3" cy="1426.4" r="2.5" fill="#4b4fa3" stroke="#1a1a1a" stroke-width="0.8" />
<circle cx="1007" cy="1421.9" r="3.1" fill="#3bb0a1" stroke="#1a1a1a" stroke-width="0.8" />
<circle cx="1012.7" cy="1421.7" r="3.1" fill="#3bb0a1" stroke="#1a1a1a" stroke-width="0.8" />
<circle cx="1018.4" cy="1421.4" r="3.1" fill="#3bb0a1" stroke="#1a1a1a" stroke-width="0.8" />
<circle cx="1024.1" cy="1418.8" r="3.1" fill="#3bb0a1" stroke="#1a1a1a" stroke-width="0.8" />
<circle cx="1029.6" cy="1418.6" r="3.1" fill="#3bb0a1" stroke="#1a1a1a" stroke-width="0.8" />
<circle cx="1035.3" cy="1418.1" r="3.1" fill="#3bb0a1" stroke="#1a1a1a" stroke-width="0.8" />
<circle cx="1040.8" cy="1414.5" r="3.1" fill="#3bb0a1" stroke="#1a1a1a" stroke-width="0.8" />
<circle cx="1046.5" cy="1411.9" r="3.1" fill="#3bb0a1" stroke="#1a1a1a" stroke-width="0.8" />
<circle cx="1052.2" cy="1408.1" r="3.1" fill="#3bb0a1" stroke="#1a1a1a" stroke-width="0.8" />
<circle cx="1057.8" cy="1406.2" r="3.1" fill="#3bb0a1" stroke="#1a1a1a" stroke-width="0.8" />
<circle cx="1063.4" cy="1403.4" r="3.1" fill="#3bb0a1" stroke="#1a1a1a" stroke-width="0.8" />
<circle cx="1069.1" cy="1397" r="3.1" fill="#3bb0a1" stroke="#1a1a1a" stroke-width="0.8" />
<circle cx="1074.8" cy="1394.1" r="3.1" fill="#3bb0a1" stroke="#1a1a1a" stroke-width="0.8" />
<circle cx="1080.5" cy="1393.4" r="3.1" fill="#3bb0a1" stroke="#1a1a1a" stroke-width="0.8" />
<circle cx="1086.4" cy="1393.2" r="3.1" fill="#3bb0a1" stroke="#1a1a1a" stroke-width="0.8" />
<circle cx="1092.6" cy="1392.7" r="3.1" fill="#3bb0a1" stroke="#1a1a1a" stroke-width="0.8" />
<circle cx="1099.3" cy="1381.8" r="4.6" fill="#cdf3ef" stroke="#1a1a1a" stroke-width="0.9" />
<circle cx="1105.7" cy="1381" r="4.6" fill="#cdf3ef" stroke="#1a1a1a" stroke-width="0.9" />
<circle cx="1112.6" cy="1379.9" r="4.6" fill="#cdf3ef" stroke="#1a1a1a" stroke-width="0.9" />
<circle cx="1119" cy="1359.2" r="6" fill="#ffde85" stroke="#1a1a1a" stroke-width="0.9" />
<circle cx="1126.6" cy="1359.2" r="6" fill="#ffde85" stroke="#1a1a1a" stroke-width="0.9" />
<circle cx="1134.7" cy="1354.4" r="6" fill="#ffde85" stroke="#1a1a1a" stroke-width="0.9" />
<circle cx="1143.2" cy="1345.2" r="6" fill="#ffde85" stroke="#1a1a1a" stroke-width="0.9" />
<circle cx="1152" cy="1344.5" r="6" fill="#ffde85" stroke="#1a1a1a" stroke-width="0.9" />
<circle cx="1162.7" cy="1343.8" r="6" fill="#ffde85" stroke="#1a1a1a" stroke-width="0.9" />
<circle cx="1173.6" cy="1335" r="6" fill="#ffde85" stroke="#1a1a1a" stroke-width="0.9" />
<circle cx="1186.2" cy="1329" r="6" fill="#ffde85" stroke="#1a1a1a" stroke-width="0.9" />
<circle cx="1200.9" cy="1314.8" r="6" fill="#ffde85" stroke="#1a1a1a" stroke-width="0.9" />
<circle cx="1219.5" cy="1240.2" r="7.8" fill="#e86c08" stroke="#1a1a1a" stroke-width="1.1" />
<circle cx="1245.6" cy="1239" r="7.8" fill="#e86c08" stroke="#1a1a1a" stroke-width="1.1" />
<circle cx="1295" cy="1147.8" r="7.8" fill="#e86c08" stroke="#1a1a1a" stroke-width="1.1" />
<text x="1057.9" y="1422" font-size="15" font-family='"DejaVu Sans", "Liberation Sans", sans-serif' fill="#333" text-anchor="middle">*</text>
<text x="1071" y="1413" font-size="15" font-family='"DejaVu Sans", "Liberation Sans", sans-serif' fill="#333" text-anchor="middle">*</text>
<text x="1081" y="1408.3" font-size="15" font-family='"DejaVu Sans", "Liberation Sans", sans-serif' fill="#333" text-anchor="middle">*</text>
<text x="1101.2" y="1399.5" font-size="15" font-family='"DejaVu Sans", "Liberation Sans", sans-serif' fill="#333" text-anchor="middle">*</text>
<text x="1108.3" y="1399" font-size="15" font-family='"DejaVu Sans", "Liberation Sans", sans-serif' fill="#333" text-anchor="middle">*</text>
<text x="1119.2" y="1378.8" font-size="15" font-family='"DejaVu Sans", "Liberation Sans", sans-serif' fill="#333" text-anchor="middle">*</text>
<text x="1136.1" y="1374.5" font-size="15" font-family='"DejaVu Sans", "Liberation Sans", sans-serif' fill="#333" text-anchor="middle">*</text>
<text x="1145.1" y="1365" font-size="15" font-family='"DejaVu Sans", "Liberation Sans", sans-serif' fill="#333" text-anchor="middle">*</text>
<text x="1164.6" y="1364.3" font-size="15" font-family='"DejaVu Sans", "Liberation Sans", sans-serif' fill="#333" text-anchor="middle">*</text>
<text x="1176.7" y="1356.7" font-size="15" font-family='"DejaVu Sans", "Liberation Sans", sans-serif' fill="#333" text-anchor="middle">*</text>
<text x="1188.1" y="1350.8" font-size="15" font-family='"DejaVu Sans", "Liberation Sans", sans-serif' fill="#333" text-anchor="middle">*</text>
<text x="1200.9" y="1337" font-size="15" font-family='"DejaVu Sans", "Liberation Sans", sans-serif' fill="#333" text-anchor="middle">*</text>
<text x="1219.9" y="1264.8" font-size="15" font-family='"DejaVu Sans", "Liberation Sans", sans-serif' fill="#333" text-anchor="middle">*</text>
<text x="1245.8" y="1263.6" font-size="15" font-family='"DejaVu Sans", "Liberation Sans", sans-serif' fill="#333" text-anchor="middle">*</text>
<text x="1295.2" y="1171.9" font-size="15" font-family='"DejaVu Sans", "Liberation Sans", sans-serif' fill="#333" text-anchor="middle">*</text>
<rect x="765.8" y="1139.2" width="545" height="310.8" fill="none" stroke="#222" stroke-width="1.5" />
<line x1="1418.7" y1="1154.9" x2="1434.2" y2="1154.9" stroke="#f0e4cb" stroke-width="3.4"/>
<line x1="1451.7" y1="1154.9" x2="1967.8" y2="1154.9" stroke="#f0e4cb" stroke-width="3.4" stroke-dasharray="29.1 16.35"/>
<text x="1422.7" y="1176.5" font-size="21" font-family='"Liberation Sans", "DejaVu Sans", sans-serif' fill="#f0e4cb" textLength="43.3" lengthAdjust="spacingAndGlyphs">3 SD</text>
<line x1="1418.7" y1="1205.3" x2="1434.2" y2="1205.3" stroke="#c0a97e" stroke-width="3.4"/>
<line x1="1451.7" y1="1205.3" x2="1967.8" y2="1205.3" stroke="#c0a97e" stroke-width="3.4" stroke-dasharray="29.1 16.35"/>
<text x="1422.7" y="1225.7" font-size="21" font-family='"Liberation Sans", "DejaVu Sans", sans-serif' fill="#c0a97e" textLength="43.3" lengthAdjust="spacingAndGlyphs">2 SD</text>
<line x1="1418.7" y1="1263.2" x2="1434.2" y2="1263.2" stroke="#7f6c4a" stroke-width="3.4"/>
<line x1="1451.7" y1="1263.2" x2="1967.8" y2="1263.2" stroke="#7f6c4a" stroke-width="3.4" stroke-dasharray="29.1 16.35"/>
<text x="1422.7" y="1283.9" font-size="21" font-family='"Liberation Sans", "DejaVu Sans", sans-serif' fill="#7f6c4a" textLength="43.3" lengthAdjust="spacingAndGlyphs">1 SD</text>
<text x="1414.6" y="1438.8" font-size="14.6" font-family='"DejaVu Sans", "Liberation Sans", sans-serif' fill="#000" text-anchor="end" stroke="#000" stroke-width="0.25">1.5</text>
<text x="1419" y="1414.6" font-size="14.6" font-family='"DejaVu Sans", "Liberation Sans", sans-serif' fill="#000" text-anchor="end" stroke="#000" stroke-width="0.25">2.0</text>
<text x="1414.6" y="1390.5" font-size="14.6" font-family='"DejaVu Sans", "Liberation Sans", sans-serif' fill="#000" text-anchor="end" stroke="#000" stroke-width="0.25">2.5</text>
<text x="1414.6" y="1366.3" font-size="14.6" font-family='"DejaVu Sans", "Liberation Sans", sans-serif' fill="#000" text-anchor="end" stroke="#000" stroke-width="0.25">3.0</text>
<text x="1414.6" y="1342.2" font-size="14.6" font-family='"DejaVu Sans", "Liberation Sans", sans-serif' fill="#000" text-anchor="end" stroke="#000" stroke-width="0.25">3.5</text>
<text x="1414.6" y="1318" font-size="14.6" font-family='"DejaVu Sans", "Liberation Sans", sans-serif' fill="#000" text-anchor="end" stroke="#000" stroke-width="0.25">4.0</text>
<text x="1414.6" y="1293.9" font-size="14.6" font-family='"DejaVu Sans", "Liberation Sans", sans-serif' fill="#000" text-anchor="end" stroke="#000" stroke-width="0.25">4.5</text>
<text x="1419" y="1269.8" font-size="14.6" font-family='"DejaVu Sans", "Liberation Sans", sans-serif' fill="#000" text-anchor="end" stroke="#000" stroke-width="0.25">5.0</text>
<text x="1414.6" y="1245.6" font-size="14.6" font-family='"DejaVu Sans", "Liberation Sans", sans-serif' fill="#000" text-anchor="end" stroke="#000" stroke-width="0.25">5.5</text>
<text x="1414.6" y="1221.5" font-size="14.6" font-family='"DejaVu Sans", "Liberation Sans", sans-serif' fill="#000" text-anchor="end" stroke="#000" stroke-width="0.25">6.0</text>
<text x="1414.6" y="1197.3" font-size="14.6" font-family='"DejaVu Sans", "Liberation Sans", sans-serif' fill="#000" text-anchor="end" stroke="#000" stroke-width="0.25">6.5</text>
<text x="1414.6" y="1173.2" font-size="14.6" font-family='"DejaVu Sans", "Liberation Sans", sans-serif' fill="#000" text-anchor="end" stroke="#000" stroke-width="0.25">7.0</text>
<text x="1414.6" y="1149" font-size="14.6" font-family='"DejaVu Sans", "Liberation Sans", sans-serif' fill="#000" text-anchor="end" stroke="#000" stroke-width="0.25">7.5</text>
<text x="1471.4" y="1464.4" font-size="14.3" font-family='"DejaVu Sans", "Liberation Sans", sans-serif' fill="#000" text-anchor="middle" stroke="#000" stroke-width="0.25">−2.0</text>
<text x="1526.8" y="1464.4" font-size="14.3" font-family='"DejaVu Sans", "Liberation Sans", sans-serif' fill="#000" text-anchor="middle" stroke="#000" stroke-width="0.25">−1.5</text>
<text x="1582.3" y="1464.4" font-size="14.3" font-family='"DejaVu Sans", "Liberation Sans", sans-serif' fill="#000" text-anchor="middle" stroke="#000" stroke-width="0.25">−1.0</text>
<text x="1637.8" y="1464.4" font-size="14.3" font-family='"DejaVu Sans", "Liberation Sans", sans-serif' fill="#000" text-anchor="middle" stroke="#000" stroke-width="0.25">−0.5</text>
<text x="1693.2" y="1464.4" font-size="14.3" font-family='"DejaVu Sans", "Liberation Sans", sans-serif' fill="#000" text-anchor="middle" stroke="#000" stroke-width="0.25">0.0</text>
<text x="1748.7" y="1464.4" font-size="14.3" font-family='"DejaVu Sans", "Liberation Sans", sans-serif' fill="#000" text-anchor="middle" stroke="#000" stroke-width="0.25">0.5</text>
<text x="1804.1" y="1464.4" font-size="14.3" font-family='"DejaVu Sans", "Liberation Sans", sans-serif' fill="#000" text-anchor="middle" stroke="#000" stroke-width="0.25">1.0</text>
<text x="1859.6" y="1464.4" font-size="14.3" font-family='"DejaVu Sans", "Liberation Sans", sans-serif' fill="#000" text-anchor="middle" stroke="#000" stroke-width="0.25">1.5</text>
<text x="1915" y="1464.4" font-size="14.3" font-family='"DejaVu Sans", "Liberation Sans", sans-serif' fill="#000" text-anchor="middle" stroke="#000" stroke-width="0.25">2.0</text>
<text x="1686.3" y="1487.5" font-size="20.5" font-family='"Liberation Sans", "DejaVu Sans", sans-serif' fill="#1a1a1a" text-anchor="middle" textLength="118.8" lengthAdjust="spacingAndGlyphs">Normal score</text>
<text x="1343.8" y="1297" font-size="24" font-family='"Liberation Sans", "DejaVu Sans", sans-serif' fill="#1a1a1a" text-anchor="middle" font-weight="bold" transform="rotate(-90 1343.8 1297)" textLength="180.5" lengthAdjust="spacingAndGlyphs">Normalized sum</text>
<text x="1374.6" y="1293.5" font-size="22" font-family='"Liberation Sans", "DejaVu Sans", sans-serif' fill="#1a1a1a" text-anchor="middle" transform="rotate(-90 1374.6 1293.5)" textLength="259" lengthAdjust="spacingAndGlyphs">[element concentration]</text>
<circle cx="1435.3" cy="1441.6" r="2.4" fill="#1c4878" stroke="#1a1a1a" stroke-width="0.8" />
<circle cx="1484.9" cy="1375.3" r="2.4" fill="#1c4878" stroke="#1a1a1a" stroke-width="0.8" />
<circle cx="1511.1" cy="1365.4" r="2.4" fill="#1c4878" stroke="#1a1a1a" stroke-width="0.8" />
<circle cx="1529.8" cy="1353.7" r="2.4" fill="#1c4878" stroke="#1a1a1a" stroke-width="0.8" />
<circle cx="1544.8" cy="1351.1" r="2.4" fill="#1c4878" stroke="#1a1a1a" stroke-width="0.8" />
<circle cx="1557.4" cy="1350.4" r="2.4" fill="#1c4878" stroke="#1a1a1a" stroke-width="0.8" />
<circle cx="1568.8" cy="1347.8" r="2.4" fill="#1c4878" stroke="#1a1a1a" stroke-width="0.8" />
<circle cx="1578.5" cy="1347.6" r="2.4" fill="#1c4878" stroke="#1a1a1a" stroke-width="0.8" />
<circle cx="1587.5" cy="1347.6" r="2.4" fill="#1c4878" stroke="#1a1a1a" stroke-width="0.8" />
<circle cx="1596.3" cy="1347.3" r="2.4" fill="#1c4878" stroke="#1a1a1a" stroke-width="0.8" />
<circle cx="1604.2" cy="1344.9" r="2.4" fill="#1c4878" stroke="#1a1a1a" stroke-width="0.8" />
<circle cx="1611.5" cy="1340.9" r="3.1" fill="#3bb0a1" stroke="#1a1a1a" stroke-width="0.8" />
<circle cx="1618.7" cy="1340.4" r="3.1" fill="#3bb0a1" stroke="#1a1a1a" stroke-width="0.8" />
<circle cx="1625.6" cy="1339" r="3.1" fill="#3bb0a1" stroke="#1a1a1a" stroke-width="0.8" />
<circle cx="1632.2" cy="1338.5" r="3.1" fill="#3bb0a1" stroke="#1a1a1a" stroke-width="0.8" />
<circle cx="1638.6" cy="1337.8" r="3.1" fill="#3bb0a1" stroke="#1a1a1a" stroke-width="0.8" />
<circle cx="1644.8" cy="1337.3" r="3.1" fill="#3bb0a1" stroke="#1a1a1a" stroke-width="0.8" />
<circle cx="1650.7" cy="1334.7" r="3.1" fill="#3bb0a1" stroke="#1a1a1a" stroke-width="0.8" />
<circle cx="1656.7" cy="1334.3" r="3.1" fill="#3bb0a1" stroke="#1a1a1a" stroke-width="0.8" />
<circle cx="1662.6" cy="1333.3" r="3.1" fill="#3bb0a1" stroke="#1a1a1a" stroke-width="0.8" />
<circle cx="1668.3" cy="1333.1" r="3.1" fill="#3bb0a1" stroke="#1a1a1a" stroke-width="0.8" />
<circle cx="1674" cy="1332.6" r="3.1" fill="#3bb0a1" stroke="#1a1a1a" stroke-width="0.8" />
<circle cx="1679.7" cy="1332.4" r="3.1" fill="#3bb0a1" stroke="#1a1a1a" stroke-width="0.8" />
<circle cx="1685.4" cy="1331.6" r="3.1" fill="#3bb0a1" stroke="#1a1a1a" stroke-width="0.8" />
<circle cx="1690.9" cy="1328.6" r="3.1" fill="#3bb0a1" stroke="#1a1a1a" stroke-width="0.8" />
<circle cx="1696.6" cy="1327.4" r="3.1" fill="#3bb0a1" stroke="#1a1a1a" stroke-width="0.8" />
<circle cx="1702.3" cy="1325.5" r="3.1" fill="#3bb0a1" stroke="#1a1a1a" stroke-width="0.8" />
<circle cx="1707.7" cy="1325" r="3.1" fill="#3bb0a1" stroke="#1a1a1a" stroke-width="0.8" />
<circle cx="1713.4" cy="1324.5" r="3.1" fill="#3bb0a1" stroke="#1a1a1a" stroke-width="0.8" />
<circle cx="1719.1" cy="1324" r="3.1" fill="#3bb0a1" stroke="#1a1a1a" stroke-width="0.8" />
<circle cx="1724.8" cy="1323.3" r="3.1" fill="#3bb0a1" stroke="#1a1a1a" stroke-width="0.8" />
<circle cx="1730.5" cy="1322.4" r="3.1" fill="#3bb0a1" stroke="#1a1a1a" stroke-width="0.8" />
<circle cx="1736.4" cy="1320" r="3.1" fill="#3bb0a1" stroke="#1a1a1a" stroke-width="0.8" />
<circle cx="1742.3" cy="1313.6" r="4.6" fill="#cdf3ef" stroke="#1a1a1a" stroke-width="0.9" />
<circle cx="1748.8" cy="1311.2" r="4.6" fill="#cdf3ef" stroke="#1a1a1a" stroke-width="0.9" />
<circle cx="1755.2" cy="1310.7" r="4.6" fill="#cdf3ef" stroke="#1a1a1a" stroke-width="0.9" />
<circle cx="1761.6" cy="1302.7" r="4.6" fill="#cdf3ef" stroke="#1a1a1a" stroke-width="0.9" />
<circle cx="1768.5" cy="1298.1" r="4.6" fill="#cdf3ef" stroke="#1a1a1a" stroke-width="0.9" />
<circle cx="1775.8" cy="1292.4" r="4.6" fill="#cdf3ef" stroke="#1a1a1a" stroke-width="0.9" />
<circle cx="1783.2" cy="1285.6" r="4.6" fill="#cdf3ef" stroke="#1a1a1a" stroke-width="0.9" />
<circle cx="1790.8" cy="1273.2" r="6" fill="#ffde85" stroke="#1a1a1a" stroke-width="0.9" />
<circle cx="1799.6" cy="1273.2" r="6" fill="#ffde85" stroke="#1a1a1a" stroke-width="0.9" />
<circle cx="1808.4" cy="1247.6" r="6" fill="#ffde85" stroke="#1a1a1a" stroke-width="0.9" />
<circle cx="1818.6" cy="1243.8" r="6" fill="#ffde85" stroke="#1a1a1a" stroke-width="0.9" />
<circle cx="1829.5" cy="1222.1" r="7.8" fill="#e86c08" stroke="#1a1a1a" stroke-width="1.1" />
<circle cx="1842.3" cy="1220.7" r="7.8" fill="#e86c08" stroke="#1a1a1a" stroke-width="1.1" />
<circle cx="1857.1" cy="1217.4" r="7.8" fill="#e86c08" stroke="#1a1a1a" stroke-width="1.1" />
<circle cx="1876.1" cy="1205" r="7.8" fill="#e86c08" stroke="#1a1a1a" stroke-width="1.1" />
<circle cx="1902.2" cy="1195.5" r="7.8" fill="#e86c08" stroke="#1a1a1a" stroke-width="1.1" />
<circle cx="1951.6" cy="1147.8" r="7.8" fill="#e86c08" stroke="#1a1a1a" stroke-width="1.1" />
<text x="1435.3" y="1455.3" font-size="15" font-family='"DejaVu Sans", "Liberation Sans", sans-serif' fill="#333" text-anchor="middle">*</text>
<text x="1511.3" y="1382.1" font-size="15" font-family='"DejaVu Sans", "Liberation Sans", sans-serif' fill="#333" text-anchor="middle">*</text>
<text x="1530.3" y="1368.6" font-size="15" font-family='"DejaVu Sans", "Liberation Sans", sans-serif' fill="#333" text-anchor="middle">*</text>
<text x="1604.4" y="1361.5" font-size="15" font-family='"DejaVu Sans", "Liberation Sans", sans-serif' fill="#333" text-anchor="middle">*</text>
<text x="1651.2" y="1351.7" font-size="15" font-family='"DejaVu Sans", "Liberation Sans", sans-serif' fill="#333" text-anchor="middle">*</text>
<text x="1668.1" y="1350.1" font-size="15" font-family='"DejaVu Sans", "Liberation Sans", sans-serif' fill="#333" text-anchor="middle">*</text>
<text x="1685.4" y="1348.4" font-size="15" font-family='"DejaVu Sans", "Liberation Sans", sans-serif' fill="#333" text-anchor="middle">*</text>
<text x="1703.2" y="1340.8" font-size="15" font-family='"DejaVu Sans", "Liberation Sans", sans-serif' fill="#333" text-anchor="middle">*</text>
<text x="1712.3" y="1340.3" font-size="15" font-family='"DejaVu Sans", "Liberation Sans", sans-serif' fill="#333" text-anchor="middle">*</text>
<text x="1731.2" y="1338.9" font-size="15" font-family='"DejaVu Sans", "Liberation Sans", sans-serif' fill="#333" text-anchor="middle">*</text>
<text x="1785.3" y="1303.5" font-size="15" font-family='"DejaVu Sans", "Liberation Sans", sans-serif' fill="#333" text-anchor="middle">*</text>
<text x="1809.3" y="1269.5" font-size="15" font-family='"DejaVu Sans", "Liberation Sans", sans-serif' fill="#333" text-anchor="middle">*</text>
<text x="1877.3" y="1230.4" font-size="15" font-family='"DejaVu Sans", "Liberation Sans", sans-serif' fill="#333" text-anchor="middle">*</text>
<text x="1951.1" y="1173.1" font-size="15" font-family='"DejaVu Sans", "Liberation Sans", sans-serif' fill="#333" text-anchor="middle">*</text>
<rect x="1419.7" y="1139.2" width="548.1" height="310.8" fill="none" stroke="#222" stroke-width="1.5" />
<rect x="406.8" y="1514.1" width="13.1" height="5" fill="#86205f" stroke="none" stroke-width="1" />
<rect x="427.4" y="1514.1" width="25.2" height="5" fill="#86205f" stroke="none" stroke-width="1" />
<rect x="461.8" y="1514.1" width="12.4" height="5" fill="#86205f" stroke="none" stroke-width="1" />
<text x="491.2" y="1524.2" font-size="22" font-family='"Liberation Sans", "DejaVu Sans", sans-serif' fill="#1a1a1a" textLength="115.5" lengthAdjust="spacingAndGlyphs">Slope break</text>
<rect x="408.8" y="1565" width="65.1" height="11.8" fill="#111" stroke="none" stroke-width="1" />
<text x="492.9" y="1565" font-size="22" font-family='"Liberation Sans", "DejaVu Sans", sans-serif' fill="#1a1a1a" textLength="178.3" lengthAdjust="spacingAndGlyphs">Kimberlite surface</text>
<text x="492.9" y="1593.5" font-size="22" font-family='"Liberation Sans", "DejaVu Sans", sans-serif' fill="#1a1a1a" textLength="100.8" lengthAdjust="spacingAndGlyphs">projection</text>
<rect x="693.4" y="1499" width="65.8" height="35.6" fill="#bfc2a3" stroke="#77756b" stroke-width="1" />
<text x="784.3" y="1524.2" font-size="22" font-family='"Liberation Sans", "DejaVu Sans", sans-serif' fill="#1a1a1a" textLength="167.2" lengthAdjust="spacingAndGlyphs">Organic deposits</text>
<rect x="693.4" y="1553" width="65.8" height="35.6" fill="#9b9696" stroke="#77756b" stroke-width="1" />
<text x="785.6" y="1578.1" font-size="22" font-family='"Liberation Sans", "DejaVu Sans", sans-serif' fill="#1a1a1a" textLength="174" lengthAdjust="spacingAndGlyphs">Colluvial deposits</text>
<rect x="1027.2" y="1499" width="65.8" height="35.6" fill="#e3deb7" stroke="#77756b" stroke-width="1" />
<text x="1117.8" y="1524.2" font-size="22" font-family='"Liberation Sans", "DejaVu Sans", sans-serif' fill="#1a1a1a" textLength="228.3" lengthAdjust="spacingAndGlyphs" stroke="#1a1a1a" stroke-width="0.45">Glaciofluvial sediments</text>
<rect x="1027.2" y="1553" width="65.8" height="35.6" fill="#aea985" stroke="#77756b" stroke-width="1" />
<text x="1121.7" y="1578.1" font-size="22" font-family='"Liberation Sans", "DejaVu Sans", sans-serif' fill="#1a1a1a" textLength="230.6" lengthAdjust="spacingAndGlyphs">Glaciolacustrine veneer</text>
<rect x="1403" y="1499" width="65.8" height="35.6" fill="#dad8cc" stroke="#77756b" stroke-width="1" />
<text x="1494" y="1524.2" font-size="22" font-family='"Liberation Sans", "DejaVu Sans", sans-serif' fill="#1a1a1a" textLength="107" lengthAdjust="spacingAndGlyphs">Till blanket</text>
<rect x="1403" y="1553" width="65.8" height="35.6" fill="#97d6ee" stroke="#77756b" stroke-width="1" />
<text x="1495.6" y="1578.1" font-size="22" font-family='"Liberation Sans", "DejaVu Sans", sans-serif' fill="#1a1a1a" textLength="57.3" lengthAdjust="spacingAndGlyphs">Water</text>
</svg>
</body></html>
